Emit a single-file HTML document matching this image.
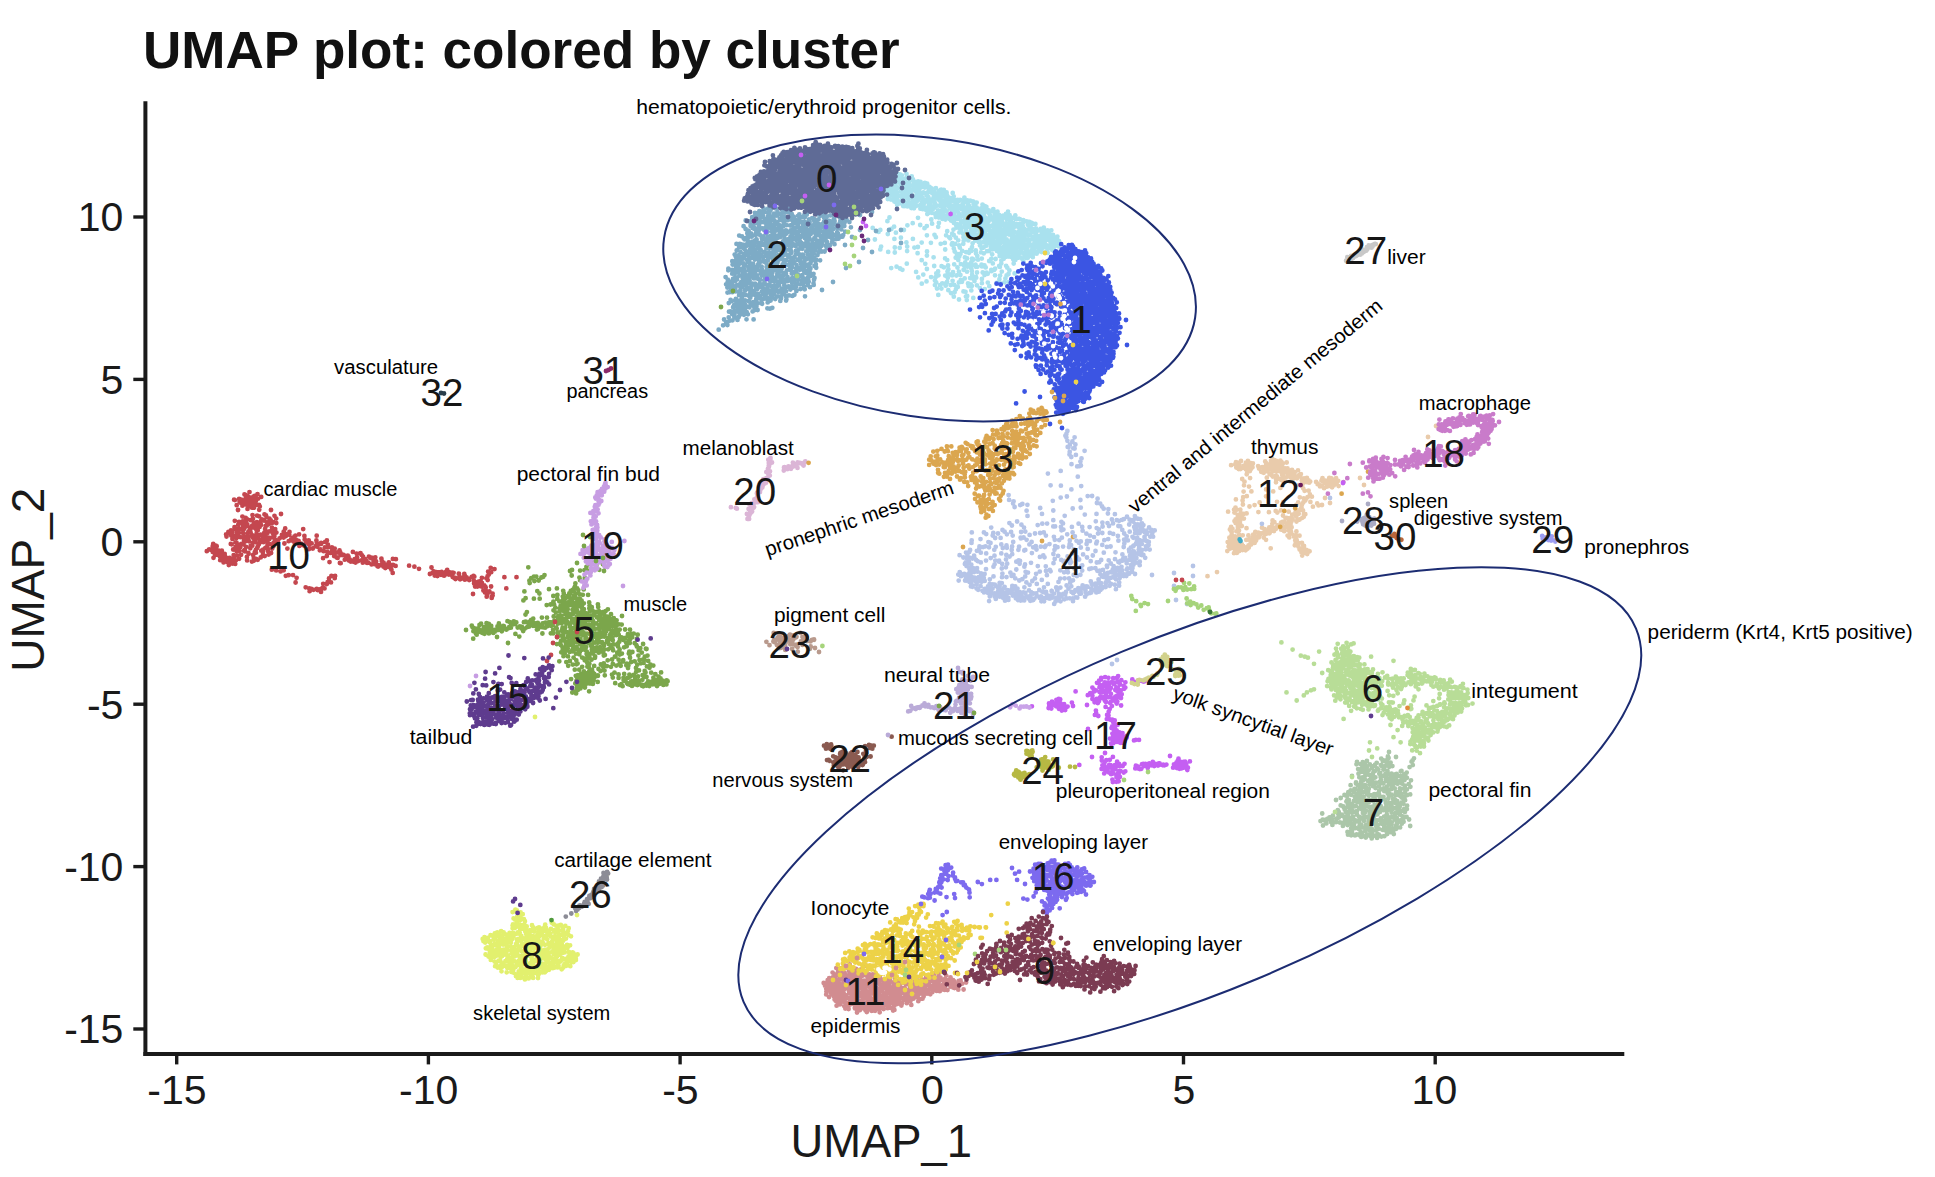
<!DOCTYPE html>
<html><head><meta charset="utf-8"><title>UMAP plot</title>
<style>
html,body{margin:0;padding:0;background:#fff}
body{width:1935px;height:1177px;overflow:hidden}
svg{display:block;font-family:"Liberation Sans",sans-serif}
</style></head><body>
<svg width="1935" height="1177" viewBox="0 0 1935 1177">
<rect width="1935" height="1177" fill="#fff"/>
<g stroke="#1a1a1a" stroke-width="4" fill="none" stroke-linecap="butt">
<path d="M145.4 101.2V1056.0"/><path d="M143.4 1054.0H1624.3"/>
</g><g stroke="#1a1a1a" stroke-width="3.4" fill="none">
<path d="M133.3 217.0H145.4"/>
<path d="M133.3 379.4H145.4"/>
<path d="M133.3 541.8H145.4"/>
<path d="M133.3 704.2H145.4"/>
<path d="M133.3 866.6H145.4"/>
<path d="M133.3 1029.0H145.4"/>
<path d="M176.7 1054.0V1064.4"/>
<path d="M428.4 1054.0V1064.4"/>
<path d="M680.1 1054.0V1064.4"/>
<path d="M931.8 1054.0V1064.4"/>
<path d="M1183.5 1054.0V1064.4"/>
<path d="M1435.2 1054.0V1064.4"/>
</g>
<g font-size="41" fill="#1a1a1a">
<text x="123.4" y="231.3" text-anchor="end">10</text>
<text x="123.4" y="393.7" text-anchor="end">5</text>
<text x="123.4" y="556.1" text-anchor="end">0</text>
<text x="123.4" y="718.5" text-anchor="end">-5</text>
<text x="123.4" y="880.9" text-anchor="end">-10</text>
<text x="123.4" y="1043.3" text-anchor="end">-15</text>
<text x="177.0" y="1103.6" text-anchor="middle">-15</text>
<text x="428.7" y="1103.6" text-anchor="middle">-10</text>
<text x="680.4" y="1103.6" text-anchor="middle">-5</text>
<text x="932.5" y="1103.6" text-anchor="middle">0</text>
<text x="1183.9" y="1103.6" text-anchor="middle">5</text>
<text x="1434.4" y="1103.6" text-anchor="middle">10</text>
</g>
<text x="881.2" y="1156.6" font-size="45.4" text-anchor="middle" fill="#1a1a1a">UMAP_1</text>
<text transform="translate(43.9 579.6) rotate(-90)" font-size="46" text-anchor="middle" fill="#1a1a1a">UMAP_2</text>
<text transform="translate(142.9 68.2) scale(1.0407 1)" font-size="51" font-weight="bold" fill="#111">UMAP plot: colored by cluster</text>
<g fill="none" stroke-linecap="round"><path d="M895.2 168.9h0M895.6 171.8h0M893.0 173.1h0M896.2 172.5h0M897.9 174.1h0M899.9 174.4h0M906.5 173.9h0M887.3 177.1h0M891.2 176.7h0M894.8 177.0h0M895.4 175.5h0M899.0 176.7h0M901.8 175.3h0M911.7 176.3h0M885.7 179.4h0M888.3 179.0h0M891.0 179.3h0M894.7 178.2h0M899.1 177.2h0M901.1 178.2h0M904.2 179.2h0M906.6 177.6h0M909.2 178.3h0M913.0 179.5h0M887.1 182.4h0M889.3 181.7h0M893.2 181.0h0M896.4 180.9h0M900.5 180.8h0M903.9 181.5h0M905.1 181.3h0M909.2 182.1h0M910.3 180.3h0M915.4 182.2h0M918.1 181.3h0M920.5 181.8h0M886.5 184.9h0M888.2 184.9h0M891.4 183.3h0M893.9 184.5h0M896.9 182.7h0M900.6 183.9h0M903.4 182.7h0M906.1 184.2h0M908.8 184.8h0M914.1 182.7h0M917.0 184.0h0M919.0 184.0h0M922.7 183.8h0M924.9 182.8h0M927.2 183.7h0M886.9 185.2h0M890.8 186.7h0M893.7 186.6h0M895.8 186.3h0M899.2 187.3h0M902.0 187.6h0M904.4 187.3h0M908.4 186.9h0M912.2 185.4h0M914.9 187.2h0M918.3 187.0h0M921.7 185.3h0M923.8 186.3h0M927.4 187.3h0M929.5 186.9h0M886.0 187.9h0M889.3 188.5h0M893.1 187.9h0M895.8 188.6h0M897.8 187.8h0M901.5 187.8h0M903.6 187.7h0M907.7 188.3h0M911.1 189.9h0M913.6 189.3h0M916.6 188.2h0M918.2 187.8h0M920.9 187.6h0M924.8 187.6h0M929.0 189.1h0M931.6 188.5h0M935.9 188.2h0M941.2 189.6h0M943.8 189.8h0M887.1 191.1h0M891.1 191.3h0M893.8 191.3h0M895.6 190.6h0M900.6 190.8h0M902.6 191.6h0M905.6 191.7h0M908.4 192.5h0M910.6 192.8h0M914.3 190.6h0M916.6 192.2h0M919.3 191.7h0M923.4 192.5h0M927.7 192.5h0M930.3 192.0h0M933.2 192.7h0M934.5 191.6h0M939.1 190.8h0M941.8 190.4h0M943.8 191.6h0M946.6 192.5h0M886.9 193.9h0M889.5 194.4h0M892.7 194.8h0M896.4 194.0h0M897.1 192.8h0M900.7 195.4h0M902.8 193.1h0M906.2 195.3h0M910.7 195.2h0M912.4 195.4h0M916.9 194.0h0M919.7 192.9h0M920.9 194.3h0M925.4 193.3h0M927.4 193.3h0M932.4 193.3h0M935.1 193.4h0M936.6 194.0h0M940.4 194.0h0M944.1 193.7h0M947.1 195.4h0M952.7 193.0h0M888.2 196.1h0M889.5 197.0h0M894.4 197.0h0M896.2 197.2h0M900.4 196.3h0M901.8 197.9h0M905.1 195.5h0M908.6 197.8h0M911.5 196.6h0M915.7 196.5h0M918.1 197.3h0M920.7 197.4h0M922.5 197.5h0M926.8 195.5h0M928.4 197.2h0M933.5 197.7h0M934.3 198.0h0M937.9 197.6h0M940.4 196.1h0M943.9 195.9h0M947.5 196.6h0M949.8 197.8h0M953.7 196.4h0M964.4 197.7h0M887.8 199.0h0M891.0 199.5h0M895.7 198.1h0M896.9 199.6h0M901.9 199.2h0M903.9 199.0h0M907.6 198.3h0M909.3 198.8h0M913.0 199.3h0M916.5 198.5h0M918.0 199.9h0M922.6 199.9h0M926.2 199.9h0M927.9 200.2h0M932.3 199.4h0M934.9 198.6h0M937.0 198.6h0M940.7 199.0h0M944.3 200.2h0M947.0 198.8h0M947.8 199.2h0M951.9 199.6h0M954.7 200.2h0M957.5 199.8h0M960.1 199.8h0M963.5 200.5h0M967.4 200.3h0M970.1 200.6h0M894.4 201.5h0M896.7 202.3h0M898.4 201.6h0M902.8 201.6h0M906.4 202.8h0M908.6 202.9h0M912.0 202.9h0M914.9 201.3h0M917.0 201.1h0M921.9 202.7h0M924.5 201.4h0M926.0 200.7h0M928.4 202.8h0M932.2 201.4h0M934.8 202.8h0M939.4 200.6h0M942.0 202.5h0M944.8 201.1h0M948.8 201.4h0M949.6 201.7h0M953.2 201.0h0M957.2 201.9h0M958.8 201.2h0M963.3 203.1h0M964.4 201.1h0M969.0 201.2h0M972.9 201.3h0M975.7 202.7h0M976.7 202.6h0M897.1 204.8h0M900.0 203.4h0M904.0 204.2h0M907.7 205.3h0M908.8 205.0h0M912.2 205.7h0M915.6 204.1h0M920.4 204.9h0M923.4 205.2h0M923.8 203.7h0M928.8 205.2h0M930.0 205.3h0M934.2 205.7h0M937.2 205.7h0M941.4 203.4h0M941.8 203.8h0M945.9 205.0h0M948.4 203.8h0M951.5 205.7h0M955.4 205.0h0M956.8 204.1h0M962.4 205.0h0M963.0 203.9h0M967.7 203.4h0M968.8 205.4h0M973.6 203.9h0M975.2 204.9h0M982.5 204.7h0M903.2 206.1h0M904.7 206.1h0M907.4 206.4h0M911.4 208.1h0M914.0 208.3h0M916.5 205.8h0M921.6 206.9h0M924.0 207.1h0M926.8 207.9h0M928.5 208.1h0M931.9 206.4h0M934.4 207.7h0M939.4 205.7h0M942.0 206.2h0M944.4 208.3h0M948.7 206.3h0M951.3 206.1h0M952.3 206.1h0M956.8 208.3h0M959.4 206.2h0M961.7 206.7h0M966.0 207.4h0M969.3 206.5h0M972.5 208.1h0M974.7 207.7h0M976.7 207.6h0M981.2 208.4h0M984.9 206.1h0M986.4 207.0h0M920.4 208.7h0M922.8 209.2h0M926.1 209.9h0M929.2 210.9h0M930.5 209.3h0M933.0 208.9h0M938.1 210.4h0M941.4 210.3h0M943.5 209.3h0M945.7 210.5h0M950.1 208.7h0M952.5 208.4h0M954.7 210.4h0M957.7 209.0h0M961.9 208.9h0M963.3 209.6h0M966.6 210.0h0M970.7 209.2h0M973.3 210.6h0M977.1 210.1h0M980.3 210.2h0M982.3 209.5h0M985.2 210.5h0M988.8 210.5h0M993.3 209.1h0M927.5 211.3h0M928.4 213.1h0M932.0 212.9h0M935.7 213.4h0M937.8 212.9h0M942.6 212.9h0M943.4 211.2h0M946.6 211.4h0M951.9 211.9h0M952.9 211.5h0M955.7 211.4h0M958.4 212.3h0M963.4 212.5h0M965.2 212.0h0M968.8 211.3h0M970.3 213.1h0M975.4 212.0h0M977.4 213.5h0M980.1 211.9h0M984.4 213.1h0M987.3 211.6h0M989.6 211.7h0M993.3 211.3h0M995.8 212.1h0M997.5 211.7h0M1008.0 211.7h0M927.3 214.0h0M935.4 214.6h0M938.4 213.8h0M939.7 215.3h0M943.4 215.3h0M945.7 215.9h0M948.2 215.1h0M952.3 215.0h0M953.9 214.7h0M959.0 214.2h0M960.7 215.6h0M964.0 214.9h0M965.9 213.7h0M969.9 214.3h0M972.2 214.3h0M975.9 214.0h0M979.5 213.9h0M981.7 213.8h0M984.2 215.3h0M989.2 213.5h0M990.0 215.4h0M994.6 214.1h0M996.2 213.7h0M999.0 214.9h0M1003.1 215.7h0M1006.0 213.9h0M1009.6 215.1h0M1015.3 215.5h0M935.8 217.0h0M938.9 217.5h0M941.4 217.1h0M943.9 218.4h0M946.4 218.3h0M950.5 218.8h0M953.9 218.2h0M957.4 216.4h0M960.9 216.4h0M961.5 216.4h0M965.0 218.0h0M968.6 217.4h0M972.6 217.1h0M974.0 216.3h0M978.0 217.5h0M980.2 217.2h0M982.7 217.9h0M985.9 218.2h0M990.2 216.2h0M993.1 217.5h0M996.0 218.0h0M998.9 216.6h0M1000.6 217.4h0M1005.1 217.6h0M1006.8 217.3h0M1010.2 217.3h0M1012.5 217.8h0M942.4 218.9h0M945.4 219.5h0M949.7 219.0h0M951.0 220.6h0M953.8 220.8h0M957.6 218.9h0M960.9 220.8h0M963.8 221.1h0M967.0 220.3h0M969.0 219.7h0M973.4 220.4h0M975.6 220.6h0M979.5 220.5h0M982.4 219.6h0M985.9 219.5h0M988.7 218.9h0M990.7 219.2h0M993.1 220.1h0M996.9 219.3h0M1001.0 219.8h0M1001.9 219.9h0M1006.8 219.5h0M1010.3 221.1h0M1010.8 219.9h0M1015.7 218.9h0M1018.7 218.8h0M1019.8 219.1h0M1023.3 220.1h0M953.9 222.9h0M956.1 223.8h0M960.2 223.8h0M963.4 222.5h0M964.5 223.0h0M969.7 221.7h0M972.8 224.0h0M973.7 223.9h0M976.3 222.6h0M981.5 223.4h0M983.6 222.4h0M986.9 224.0h0M988.5 221.5h0M993.9 223.6h0M995.3 222.0h0M998.3 222.6h0M1002.4 222.9h0M1005.9 223.4h0M1007.0 223.8h0M1010.8 222.3h0M1013.1 222.8h0M1016.8 224.0h0M1020.2 223.9h0M1022.7 223.2h0M1026.6 221.5h0M1029.4 221.9h0M1031.7 222.9h0M1035.4 223.9h0M956.2 225.6h0M956.8 226.2h0M960.3 225.9h0M964.9 225.9h0M966.8 225.0h0M970.5 224.9h0M973.3 225.1h0M975.9 224.4h0M978.9 224.6h0M983.4 225.4h0M984.7 226.0h0M987.9 225.4h0M991.6 225.8h0M993.6 224.1h0M995.9 225.2h0M999.5 225.1h0M1004.0 225.1h0M1006.4 225.7h0M1010.4 225.7h0M1011.7 224.5h0M1016.1 226.0h0M1018.7 224.7h0M1021.3 226.1h0M1022.8 226.3h0M1027.8 224.8h0M1030.8 225.2h0M1033.0 223.9h0M959.4 228.1h0M963.7 227.2h0M966.2 227.1h0M968.8 226.9h0M971.4 226.7h0M975.5 228.5h0M977.6 226.9h0M981.6 227.6h0M984.0 228.0h0M987.9 227.1h0M988.6 227.6h0M993.6 228.4h0M996.2 227.1h0M997.7 227.4h0M1000.6 227.1h0M1005.0 228.6h0M1008.0 228.3h0M1010.8 226.9h0M1013.8 227.5h0M1017.9 226.7h0M1019.5 228.1h0M1023.6 229.0h0M1024.4 228.9h0M1029.1 228.7h0M1032.4 228.8h0M1035.9 228.4h0M1040.5 228.9h0M1043.8 227.6h0M961.0 230.6h0M966.1 230.7h0M971.0 231.0h0M972.9 229.5h0M975.2 230.2h0M979.2 230.2h0M983.3 231.4h0M985.9 230.6h0M989.1 230.0h0M991.7 231.2h0M993.1 231.2h0M996.2 231.3h0M999.6 230.5h0M1003.6 230.2h0M1005.7 229.8h0M1008.0 229.6h0M1012.2 230.6h0M1014.0 231.6h0M1018.5 231.3h0M1019.8 229.7h0M1024.8 229.5h0M1026.8 230.4h0M1030.6 229.9h0M1032.7 231.5h0M1036.9 230.5h0M1039.7 230.4h0M1042.7 231.3h0M1043.9 229.4h0M1047.5 230.3h0M1051.3 230.3h0M970.3 232.9h0M973.8 231.9h0M977.4 234.4h0M979.7 232.8h0M982.7 232.0h0M985.5 233.7h0M989.9 233.7h0M992.9 232.8h0M996.7 234.4h0M999.0 233.7h0M1001.3 234.2h0M1003.8 232.6h0M1007.5 233.7h0M1009.3 231.9h0M1013.7 233.4h0M1017.8 232.7h0M1020.4 231.7h0M1022.6 231.8h0M1024.5 233.8h0M1028.4 234.4h0M1032.1 232.1h0M1035.0 232.5h0M1036.3 232.6h0M1041.7 233.9h0M1044.2 233.9h0M1045.3 231.9h0M1048.9 234.0h0M973.2 234.8h0M975.7 236.7h0M979.3 235.7h0M982.4 234.5h0M985.2 235.2h0M988.2 236.6h0M991.7 236.0h0M993.3 235.8h0M996.3 236.2h0M1000.7 237.0h0M1003.6 235.6h0M1004.8 235.6h0M1009.1 234.5h0M1012.1 235.7h0M1015.3 236.9h0M1018.8 235.6h0M1020.3 235.3h0M1023.9 235.9h0M1028.0 235.2h0M1030.3 234.5h0M1032.5 236.8h0M1035.4 235.0h0M1038.3 236.4h0M1042.7 236.4h0M1045.9 235.6h0M1047.2 235.6h0M1051.3 236.6h0M1053.0 235.0h0M1057.4 236.6h0M978.7 239.4h0M979.3 239.2h0M984.1 237.3h0M986.8 237.2h0M990.0 238.4h0M992.5 238.3h0M995.6 236.9h0M998.6 238.2h0M1000.3 238.8h0M1003.3 238.1h0M1006.6 239.3h0M1011.7 239.2h0M1013.5 239.1h0M1017.2 236.9h0M1019.9 239.3h0M1022.1 237.3h0M1026.0 239.3h0M1028.7 239.4h0M1030.7 239.6h0M1034.1 238.7h0M1037.4 238.8h0M1041.0 237.1h0M1044.3 237.7h0M1047.3 237.0h0M1050.0 238.3h0M1052.1 239.2h0M1055.6 237.9h0M1057.4 239.6h0M984.5 240.7h0M987.9 239.7h0M990.2 241.3h0M993.4 240.0h0M996.4 241.7h0M1000.5 240.7h0M1002.8 241.2h0M1005.8 240.5h0M1008.1 241.3h0M1013.1 242.0h0M1016.4 241.9h0M1017.9 239.9h0M1022.1 241.0h0M1023.5 241.7h0M1026.6 239.7h0M1029.3 240.0h0M1033.5 239.6h0M1035.1 240.8h0M1038.9 240.9h0M1041.7 240.3h0M1044.8 241.1h0M1048.7 239.9h0M1050.2 241.3h0M1054.2 239.5h0M1055.9 241.7h0M1059.0 241.1h0M978.8 242.2h0M981.3 242.5h0M983.2 242.3h0M986.6 244.7h0M990.7 243.6h0M991.8 242.6h0M995.8 244.3h0M999.0 242.7h0M1001.8 242.5h0M1005.0 243.6h0M1007.5 244.1h0M1010.8 242.8h0M1013.2 244.5h0M1015.3 244.6h0M1019.6 243.9h0M1021.4 244.3h0M1026.6 244.5h0M1029.4 243.9h0M1032.9 244.7h0M1034.3 243.4h0M1038.5 244.4h0M1040.8 243.9h0M1042.8 243.4h0M1045.3 244.2h0M1050.8 243.1h0M1053.1 242.4h0M1056.5 242.8h0M1059.2 242.9h0M986.3 245.7h0M991.0 246.7h0M993.2 245.7h0M996.2 246.0h0M999.4 246.5h0M1003.8 247.1h0M1005.1 247.3h0M1008.5 245.8h0M1011.0 247.3h0M1014.2 245.3h0M1017.3 245.2h0M1022.4 245.1h0M1023.0 246.8h0M1025.9 245.0h0M1029.3 245.4h0M1032.2 246.6h0M1036.8 246.6h0M1039.5 246.6h0M1041.7 246.1h0M1045.1 246.8h0M1047.9 245.6h0M1051.8 247.1h0M1054.1 246.7h0M1058.3 246.3h0M990.8 248.7h0M992.6 249.3h0M995.7 247.6h0M999.9 248.3h0M1001.9 247.9h0M1003.3 249.2h0M1006.3 248.2h0M1010.2 249.6h0M1013.6 249.6h0M1016.6 248.5h0M1019.6 247.6h0M1023.6 247.4h0M1024.6 248.0h0M1027.3 247.9h0M1032.1 249.7h0M1034.6 247.9h0M1037.8 247.6h0M1041.3 248.6h0M1042.9 247.8h0M1047.3 248.7h0M1048.4 248.6h0M1053.5 249.1h0M996.9 250.9h0M999.9 251.6h0M1004.1 250.3h0M1006.8 250.1h0M1009.9 250.8h0M1012.4 250.9h0M1014.7 250.5h0M1017.6 251.8h0M1020.8 251.0h0M1024.7 252.1h0M1026.8 249.9h0M1031.4 250.7h0M1033.9 251.7h0M1037.0 251.9h0M1039.1 251.2h0M1041.7 252.0h0M1046.2 252.4h0M1052.3 250.1h0M999.5 253.3h0M1001.6 254.6h0M1003.9 254.1h0M1007.6 253.5h0M1009.6 252.7h0M1013.4 255.1h0M1016.8 253.7h0M1018.9 253.8h0M1023.4 253.7h0M1026.2 254.5h0M1028.1 252.9h0M1030.6 253.0h0M1033.3 253.9h0M1036.7 253.6h0M1044.9 252.7h0M1047.7 252.9h0M999.7 256.1h0M1005.7 256.7h0M1009.0 256.5h0M1011.6 257.1h0M1015.8 257.0h0M1017.4 256.9h0M1020.6 257.7h0M1024.9 256.1h0M1026.9 257.5h0M1029.2 255.9h0M1032.8 257.2h0M1013.2 259.3h0M1015.3 259.9h0M1018.5 257.7h0M1022.5 259.2h0M1026.9 257.9h0M1027.8 257.8h0M1023.4 261.6h0M1013.7 263.5h0M956.6 227.6h0M965.9 227.8h0M959.4 232.4h0M965.9 231.0h0M974.7 231.4h0M953.7 235.0h0M963.1 233.7h0M967.9 235.1h0M949.2 237.3h0M955.9 237.7h0M963.5 237.2h0M965.9 237.7h0M978.2 239.4h0M952.4 243.1h0M955.1 243.9h0M963.7 240.7h0M968.3 240.4h0M972.6 243.3h0M975.3 240.6h0M986.2 243.1h0M951.8 244.5h0M959.1 245.3h0M963.3 243.8h0M972.0 247.1h0M980.0 245.4h0M983.6 247.5h0M998.8 244.9h0M1005.9 244.5h0M953.8 248.4h0M959.8 247.6h0M962.2 250.9h0M970.1 249.9h0M971.4 250.9h0M975.8 250.5h0M981.5 248.0h0M987.1 251.2h0M989.2 251.1h0M995.0 248.6h0M997.0 248.1h0M1003.5 250.6h0M1006.4 249.8h0M954.7 251.5h0M957.0 253.9h0M960.4 253.9h0M966.2 252.2h0M969.0 252.8h0M976.0 253.4h0M981.0 252.3h0M983.8 253.3h0M992.2 254.3h0M1002.5 253.0h0M1003.7 253.0h0M945.1 258.4h0M955.7 257.7h0M959.3 256.6h0M964.9 257.4h0M967.1 258.4h0M972.1 258.7h0M977.3 256.0h0M1001.5 255.5h0M1006.5 256.7h0M947.2 260.1h0M958.3 260.1h0M965.2 262.5h0M971.3 262.2h0M973.6 259.5h0M978.0 259.7h0M981.8 258.6h0M989.2 261.0h0M991.3 258.8h0M995.6 259.0h0M1001.3 260.6h0M1003.7 258.8h0M941.6 266.2h0M948.1 265.5h0M954.2 264.3h0M960.9 264.1h0M964.1 265.5h0M969.0 264.5h0M971.7 265.5h0M975.5 264.6h0M981.5 264.7h0M984.5 265.5h0M992.8 263.4h0M999.2 265.9h0M1001.3 263.4h0M1006.1 265.8h0M943.9 267.3h0M948.4 269.3h0M957.5 267.5h0M963.6 269.8h0M967.4 266.7h0M971.4 268.8h0M975.9 266.8h0M977.4 266.8h0M982.0 266.4h0M985.7 267.4h0M991.3 269.8h0M995.1 268.7h0M999.9 266.9h0M1007.3 267.7h0M947.5 271.5h0M953.0 272.1h0M958.9 271.6h0M963.9 269.8h0M967.0 271.7h0M971.9 271.1h0M977.0 272.5h0M982.7 272.5h0M986.7 272.7h0M991.4 271.2h0M994.1 269.9h0M1001.8 271.6h0M1009.4 270.4h0M1014.6 273.4h0M935.6 277.2h0M938.5 275.3h0M945.2 275.6h0M949.4 274.5h0M952.1 275.4h0M956.4 275.5h0M960.4 274.9h0M972.1 274.7h0M975.9 276.9h0M984.5 275.1h0M987.7 273.8h0M995.0 275.3h0M1000.1 275.6h0M1006.6 275.4h0M1008.5 274.0h0M934.9 280.4h0M947.8 277.8h0M952.6 280.8h0M960.8 279.8h0M964.7 278.4h0M970.1 278.1h0M972.9 278.5h0M976.2 277.7h0M981.9 279.0h0M999.4 279.2h0M1005.4 278.4h0M936.2 282.5h0M942.3 283.4h0M946.2 283.1h0M947.1 281.8h0M954.2 284.8h0M958.9 282.4h0M962.0 281.8h0M968.0 283.5h0M970.8 284.5h0M974.5 281.1h0M981.9 283.2h0M987.8 282.6h0M996.7 283.0h0M1000.1 283.1h0M1004.4 282.3h0M1008.7 282.1h0M940.1 285.2h0M941.4 288.6h0M945.7 285.7h0M950.6 285.1h0M956.8 286.8h0M957.8 286.9h0M968.6 286.1h0M971.8 285.9h0M976.9 285.3h0M979.9 288.1h0M989.3 286.2h0M937.0 288.6h0M948.3 290.2h0M954.6 292.2h0M955.9 289.3h0M963.5 291.4h0M965.5 291.8h0M971.3 290.4h0M984.8 289.1h0M938.3 294.9h0M951.0 293.1h0M967.2 296.0h0M953.8 296.7h0M959.0 299.5h0M965.9 296.6h0M973.3 297.9h0M966.8 300.1h0M889.5 217.5h0M918.0 217.8h0M931.3 219.5h0M887.4 221.2h0M912.7 223.2h0M920.2 225.0h0M932.1 223.7h0M938.9 223.0h0M872.7 227.9h0M880.3 229.9h0M891.4 229.0h0M894.1 226.7h0M903.9 230.0h0M907.4 225.3h0M924.5 228.2h0M926.8 226.1h0M938.2 226.8h0M947.2 231.2h0M953.5 229.6h0M878.6 231.9h0M887.8 234.1h0M895.9 232.7h0M926.9 235.3h0M934.5 234.8h0M946.1 235.3h0M952.2 233.7h0M874.9 239.5h0M894.4 238.9h0M900.9 237.7h0M906.4 242.4h0M912.9 238.9h0M921.7 242.6h0M930.9 242.8h0M935.9 237.2h0M944.8 242.9h0M950.1 238.3h0M958.2 240.3h0M881.1 246.6h0M894.8 247.5h0M899.7 247.8h0M907.2 246.6h0M914.4 247.6h0M917.9 247.0h0M940.7 243.8h0M880.3 249.4h0M888.2 251.9h0M894.8 252.5h0M907.1 251.1h0M917.6 253.2h0M927.0 251.5h0M945.2 249.5h0M921.7 260.2h0M926.9 255.6h0M933.6 257.3h0M896.6 266.7h0M906.8 263.7h0M925.3 263.8h0M934.2 266.0h0M891.2 268.1h0M900.0 268.5h0M902.4 269.8h0M916.1 271.9h0M926.9 269.0h0M938.1 271.4h0M918.3 277.4h0M923.3 274.6h0M931.1 277.1h0M936.3 273.4h0M921.8 283.7h0M926.5 281.4h0M934.9 285.1h0" stroke="#a9e1ee" stroke-width="4.8"/>
<path d="M763.6 208.5h0M768.1 208.6h0M771.3 208.6h0M776.2 208.7h0M759.4 211.1h0M762.5 211.3h0M763.9 209.9h0M770.5 210.1h0M782.3 209.9h0M784.1 210.9h0M788.6 209.0h0M790.0 210.5h0M807.6 210.0h0M820.2 209.2h0M755.0 212.8h0M758.2 213.0h0M759.2 213.4h0M764.2 212.2h0M767.9 212.4h0M769.5 212.6h0M774.1 213.7h0M777.5 212.1h0M779.6 214.0h0M782.4 212.3h0M785.2 212.5h0M788.3 212.2h0M791.7 214.0h0M799.3 214.3h0M807.4 211.8h0M818.3 213.9h0M823.4 214.1h0M752.2 217.1h0M754.8 216.3h0M758.0 216.1h0M762.9 215.5h0M768.0 216.2h0M770.4 216.2h0M774.0 215.7h0M776.8 215.6h0M781.9 216.2h0M784.3 217.0h0M791.1 215.5h0M793.6 216.7h0M798.1 215.8h0M799.6 216.9h0M804.4 214.8h0M806.7 214.7h0M817.8 214.4h0M820.6 215.6h0M823.1 215.9h0M826.9 216.3h0M830.3 215.4h0M834.6 217.1h0M752.2 218.1h0M755.0 218.3h0M756.7 217.7h0M761.1 217.6h0M764.8 219.2h0M766.5 218.6h0M770.0 219.8h0M773.2 217.8h0M779.8 218.9h0M782.4 218.1h0M786.6 220.0h0M789.6 218.8h0M793.9 217.3h0M795.1 219.8h0M799.4 218.7h0M802.5 217.1h0M804.8 217.3h0M809.1 219.5h0M812.2 218.1h0M814.2 219.1h0M818.5 219.3h0M824.1 217.7h0M826.4 217.6h0M833.7 219.5h0M840.6 218.7h0M844.3 219.9h0M846.6 219.8h0M745.7 220.5h0M749.3 221.3h0M752.6 220.7h0M755.7 222.5h0M759.5 220.2h0M763.2 222.2h0M766.4 222.0h0M768.8 220.0h0M771.5 219.9h0M774.4 220.3h0M777.4 222.5h0M781.1 220.1h0M783.8 221.7h0M787.8 220.2h0M792.2 220.3h0M795.2 220.7h0M796.7 221.2h0M800.9 221.8h0M804.0 221.8h0M805.9 222.5h0M809.6 221.9h0M814.1 220.6h0M815.3 221.4h0M823.9 221.9h0M825.3 221.9h0M829.2 220.9h0M832.4 221.5h0M834.6 220.9h0M840.3 221.0h0M843.3 221.2h0M844.6 222.5h0M849.4 222.0h0M750.7 224.3h0M753.1 224.5h0M757.0 223.2h0M759.4 223.5h0M766.4 224.9h0M769.5 223.9h0M772.2 224.3h0M775.8 224.0h0M778.6 224.8h0M784.1 224.2h0M786.4 225.2h0M790.3 225.3h0M793.1 223.6h0M795.6 223.3h0M798.0 224.2h0M803.1 224.3h0M806.3 225.4h0M809.5 225.4h0M813.1 225.5h0M814.7 223.0h0M818.0 223.6h0M821.3 224.3h0M824.5 224.1h0M828.4 223.5h0M831.7 225.3h0M834.9 224.3h0M838.6 225.5h0M839.5 223.7h0M843.0 224.9h0M743.6 226.2h0M750.6 225.9h0M752.6 228.0h0M754.3 227.6h0M759.1 226.2h0M763.0 228.3h0M766.5 226.6h0M767.3 227.8h0M771.2 225.8h0M773.6 226.7h0M779.5 226.4h0M780.0 225.5h0M783.4 226.0h0M790.3 225.6h0M793.7 227.8h0M797.5 227.2h0M800.8 227.9h0M802.8 227.5h0M805.9 227.6h0M811.3 227.3h0M812.1 227.5h0M817.0 226.0h0M821.0 227.0h0M824.1 227.6h0M827.3 228.1h0M829.9 225.7h0M831.6 226.6h0M836.9 226.3h0M839.9 227.7h0M844.3 226.0h0M850.9 227.3h0M745.6 229.0h0M748.4 230.6h0M754.2 228.8h0M757.1 228.9h0M761.1 228.4h0M764.2 229.9h0M766.7 229.0h0M771.2 228.8h0M774.4 230.4h0M776.1 228.7h0M778.6 230.6h0M781.5 229.7h0M785.9 230.3h0M790.7 230.5h0M793.3 229.3h0M794.4 229.6h0M799.9 229.3h0M802.1 229.2h0M804.3 229.1h0M808.0 230.1h0M811.6 230.1h0M814.6 229.9h0M818.9 228.6h0M819.9 229.2h0M825.2 229.6h0M827.1 229.4h0M831.4 230.0h0M833.3 228.9h0M837.6 228.3h0M841.3 229.4h0M747.3 233.2h0M749.1 232.2h0M751.3 233.6h0M756.2 232.5h0M758.6 231.1h0M765.9 233.3h0M767.1 232.0h0M771.5 231.4h0M774.5 231.9h0M781.4 233.2h0M785.1 231.3h0M788.1 232.0h0M791.0 231.0h0M793.9 232.7h0M798.0 232.0h0M801.6 231.5h0M804.5 231.5h0M807.5 231.9h0M808.8 231.8h0M813.6 232.3h0M817.3 231.8h0M819.7 231.0h0M823.1 231.8h0M825.2 232.3h0M828.5 232.3h0M831.7 232.5h0M837.1 232.4h0M838.0 233.7h0M845.2 231.6h0M739.2 235.6h0M742.0 236.4h0M748.0 235.2h0M749.9 236.5h0M755.3 235.1h0M758.7 234.4h0M759.8 234.8h0M763.1 236.3h0M767.8 236.5h0M771.0 236.0h0M773.6 234.7h0M776.3 235.9h0M779.7 234.1h0M784.1 235.3h0M785.8 234.1h0M790.5 236.5h0M792.2 234.2h0M797.1 235.0h0M799.9 236.2h0M803.0 235.0h0M805.7 235.1h0M809.0 236.1h0M810.7 233.9h0M816.1 234.3h0M819.1 235.0h0M822.2 235.8h0M825.5 235.2h0M827.1 234.3h0M830.3 234.7h0M833.7 234.9h0M836.7 235.9h0M841.0 236.5h0M843.2 235.1h0M743.7 238.2h0M746.5 238.0h0M748.0 238.0h0M751.7 236.7h0M756.6 239.4h0M761.8 238.0h0M765.8 239.2h0M768.2 237.3h0M771.1 236.7h0M774.4 238.5h0M777.3 238.0h0M780.0 237.2h0M784.5 238.5h0M788.5 239.2h0M790.0 239.1h0M794.2 237.4h0M798.6 237.7h0M800.6 236.9h0M804.8 238.0h0M806.9 237.6h0M809.3 238.0h0M814.4 238.1h0M815.2 237.4h0M820.8 236.9h0M821.9 238.1h0M825.5 239.2h0M829.3 236.8h0M832.1 238.4h0M835.8 239.2h0M838.5 238.7h0M842.4 236.7h0M744.6 239.4h0M747.9 241.3h0M752.1 241.7h0M754.8 240.9h0M756.2 239.6h0M762.3 239.6h0M767.1 240.7h0M770.9 241.0h0M771.9 239.4h0M775.5 239.9h0M783.1 241.4h0M785.3 239.8h0M789.6 241.4h0M791.4 241.2h0M795.4 239.5h0M799.7 240.7h0M806.4 239.9h0M808.4 239.9h0M812.4 240.5h0M814.1 239.3h0M817.0 240.7h0M820.9 240.8h0M823.3 240.3h0M826.9 242.0h0M832.1 241.9h0M736.5 243.9h0M739.8 243.8h0M742.7 244.6h0M746.5 244.4h0M750.0 244.3h0M753.6 242.6h0M754.7 243.1h0M758.7 243.1h0M761.3 242.3h0M765.9 242.5h0M768.9 243.9h0M771.2 243.0h0M773.9 243.7h0M777.2 244.4h0M781.8 244.9h0M785.1 242.1h0M788.6 244.2h0M790.7 244.3h0M793.9 244.3h0M797.5 243.3h0M801.1 242.7h0M804.2 244.0h0M807.8 243.2h0M810.7 244.3h0M814.6 244.5h0M816.7 243.7h0M820.5 243.7h0M822.0 243.1h0M827.0 242.7h0M834.5 244.2h0M741.3 247.1h0M745.1 246.2h0M747.4 245.6h0M750.8 246.1h0M753.7 245.2h0M757.4 246.7h0M761.2 245.0h0M764.4 245.0h0M766.7 247.5h0M770.1 246.0h0M773.6 246.0h0M777.8 247.4h0M780.7 245.7h0M782.3 247.1h0M785.5 244.9h0M788.3 245.0h0M791.6 246.3h0M795.7 246.0h0M800.2 245.6h0M801.7 245.7h0M805.9 246.3h0M807.1 246.2h0M811.8 247.5h0M816.0 247.6h0M818.4 246.9h0M821.3 245.9h0M825.8 245.7h0M826.5 247.3h0M829.8 245.5h0M739.1 247.6h0M743.3 247.9h0M745.0 249.8h0M749.8 250.0h0M752.8 249.1h0M755.8 249.6h0M759.9 249.3h0M760.7 250.0h0M766.5 248.4h0M769.3 248.5h0M772.3 248.6h0M774.1 249.4h0M778.5 249.5h0M785.1 248.8h0M788.9 249.6h0M790.8 250.5h0M798.5 249.4h0M801.7 247.8h0M802.3 248.8h0M807.7 248.0h0M808.8 249.9h0M815.2 250.4h0M819.9 249.4h0M826.8 248.1h0M736.7 250.5h0M740.6 252.1h0M746.5 252.5h0M750.4 252.9h0M753.5 252.7h0M759.2 252.9h0M764.3 251.9h0M768.2 252.8h0M770.1 253.1h0M773.3 252.0h0M775.9 251.1h0M781.1 250.7h0M783.4 252.9h0M785.3 252.1h0M790.5 251.5h0M791.4 252.4h0M795.9 250.8h0M797.7 251.2h0M806.3 251.4h0M807.4 252.1h0M811.8 251.0h0M813.7 252.9h0M818.6 252.6h0M821.9 251.5h0M824.6 251.5h0M734.7 254.6h0M738.3 255.3h0M743.9 254.1h0M746.3 254.7h0M748.1 254.8h0M753.2 255.1h0M756.8 253.2h0M757.9 254.7h0M761.4 254.7h0M765.9 255.8h0M767.4 254.8h0M775.3 255.5h0M778.6 254.8h0M782.6 254.4h0M785.0 254.7h0M788.6 255.1h0M790.8 253.4h0M796.1 253.9h0M799.5 254.3h0M802.7 254.6h0M807.6 254.2h0M811.5 254.5h0M813.0 253.8h0M817.5 255.1h0M735.8 256.7h0M738.6 257.6h0M741.0 257.1h0M743.9 257.9h0M748.8 256.6h0M751.1 258.1h0M755.2 258.7h0M757.6 256.2h0M759.6 256.8h0M763.1 257.6h0M767.4 256.7h0M770.3 257.0h0M772.7 256.3h0M776.8 257.9h0M779.0 256.4h0M782.4 258.7h0M788.3 256.8h0M791.1 258.2h0M794.6 256.7h0M799.5 258.1h0M801.7 257.3h0M804.8 257.9h0M808.3 258.4h0M810.6 257.7h0M814.4 257.9h0M732.3 261.2h0M736.3 259.3h0M739.1 260.3h0M742.3 258.9h0M746.7 259.6h0M749.2 259.7h0M754.9 259.6h0M758.9 259.8h0M763.3 260.3h0M764.8 261.1h0M767.9 260.4h0M773.0 259.7h0M775.2 259.1h0M778.0 260.3h0M780.9 259.0h0M786.5 259.8h0M791.5 260.6h0M793.1 258.7h0M797.6 259.9h0M799.9 260.9h0M804.3 261.4h0M807.0 259.0h0M811.3 260.9h0M813.9 260.1h0M816.1 260.0h0M820.1 260.3h0M735.5 263.4h0M736.8 263.3h0M741.0 262.8h0M743.5 263.4h0M748.0 262.2h0M751.4 263.6h0M753.1 263.8h0M758.7 263.3h0M760.5 261.8h0M764.1 261.6h0M766.5 263.4h0M771.4 264.2h0M773.9 263.9h0M777.5 262.4h0M784.2 261.8h0M784.9 264.0h0M789.7 261.8h0M793.1 261.7h0M794.4 262.7h0M801.1 263.8h0M805.4 264.3h0M808.9 264.3h0M810.5 263.0h0M815.8 264.1h0M732.6 264.6h0M736.1 266.7h0M738.7 264.8h0M743.8 266.2h0M744.9 265.1h0M749.7 265.3h0M753.4 266.0h0M757.0 266.9h0M758.0 265.0h0M761.6 266.6h0M767.8 265.7h0M773.1 266.7h0M774.4 267.0h0M776.9 265.6h0M782.6 264.5h0M788.2 264.9h0M791.7 265.0h0M796.6 265.2h0M801.3 266.3h0M805.1 265.8h0M805.5 266.4h0M809.6 267.0h0M814.5 266.0h0M816.0 266.9h0M728.4 268.6h0M735.7 269.3h0M738.1 268.7h0M740.6 269.2h0M744.2 269.5h0M748.3 267.1h0M750.8 269.1h0M754.4 268.6h0M757.2 267.8h0M761.8 268.9h0M766.6 267.0h0M769.1 267.3h0M774.6 269.2h0M777.4 267.7h0M779.9 268.9h0M782.0 268.0h0M789.9 268.5h0M792.0 267.2h0M796.3 268.6h0M799.5 268.2h0M803.2 268.3h0M804.0 267.6h0M809.0 269.8h0M810.4 268.7h0M816.2 267.8h0M728.3 270.3h0M732.2 269.9h0M741.0 270.2h0M742.4 271.6h0M744.8 271.7h0M748.8 270.6h0M753.5 272.3h0M756.9 270.2h0M760.2 270.6h0M763.1 271.5h0M766.6 270.9h0M768.0 272.5h0M770.8 270.3h0M774.3 270.1h0M777.3 271.8h0M780.9 271.3h0M786.9 270.3h0M790.9 270.3h0M795.3 271.3h0M796.5 270.6h0M799.8 269.8h0M803.9 271.0h0M806.1 271.1h0M809.8 272.4h0M732.2 273.7h0M734.7 273.5h0M737.8 272.6h0M742.6 274.2h0M744.0 273.9h0M747.2 275.4h0M750.3 273.7h0M755.4 274.2h0M756.8 275.3h0M760.8 273.2h0M764.9 274.0h0M768.1 275.0h0M769.4 272.9h0M772.3 272.7h0M777.3 274.1h0M778.7 274.7h0M783.4 272.9h0M785.9 273.6h0M791.8 273.5h0M796.2 274.7h0M797.8 274.3h0M802.1 275.2h0M805.8 272.8h0M809.6 273.7h0M811.9 274.6h0M813.5 273.8h0M725.6 277.1h0M735.3 277.2h0M739.4 275.7h0M744.0 276.6h0M745.8 277.3h0M750.5 276.6h0M753.6 275.4h0M756.1 278.1h0M757.6 278.1h0M761.7 275.3h0M765.2 277.3h0M768.6 275.4h0M772.3 276.7h0M775.8 278.1h0M776.9 276.6h0M782.1 276.2h0M783.1 275.6h0M787.5 276.9h0M792.1 278.1h0M793.0 278.0h0M796.0 276.5h0M801.4 276.5h0M802.5 276.7h0M808.3 276.7h0M810.1 276.2h0M814.5 278.0h0M727.8 279.6h0M733.0 278.9h0M734.0 278.4h0M737.1 279.1h0M742.7 278.4h0M744.0 280.4h0M748.5 279.6h0M749.6 280.4h0M754.0 278.4h0M757.9 278.8h0M760.1 279.7h0M764.3 280.1h0M766.1 279.0h0M771.3 279.1h0M772.1 279.4h0M775.8 280.8h0M780.5 278.5h0M784.1 279.6h0M787.2 278.8h0M788.4 279.5h0M791.5 279.9h0M794.6 279.5h0M798.4 279.6h0M803.0 280.2h0M806.5 278.6h0M808.3 280.2h0M814.0 279.7h0M727.5 282.6h0M730.8 281.7h0M732.0 282.6h0M735.5 280.9h0M740.7 282.5h0M743.4 281.7h0M745.5 283.6h0M748.0 282.4h0M752.4 283.6h0M755.1 283.6h0M759.8 283.4h0M764.4 282.4h0M770.3 281.4h0M774.0 281.2h0M776.7 281.5h0M780.8 281.8h0M784.1 283.3h0M787.5 281.2h0M791.9 282.3h0M793.6 282.0h0M797.2 283.3h0M801.8 281.0h0M804.7 281.8h0M807.4 281.9h0M808.7 281.7h0M813.5 283.3h0M726.1 284.3h0M729.1 284.1h0M732.5 284.6h0M734.5 286.3h0M737.1 285.1h0M740.1 284.5h0M743.2 285.8h0M746.6 284.1h0M750.5 283.7h0M753.4 284.5h0M756.4 285.4h0M761.3 285.3h0M764.0 284.7h0M766.8 284.8h0M769.8 285.1h0M774.0 285.7h0M777.9 284.5h0M779.1 285.1h0M784.3 285.3h0M788.4 286.4h0M791.5 286.2h0M795.5 286.1h0M800.0 284.3h0M802.5 283.7h0M804.0 286.2h0M808.1 285.3h0M813.7 284.9h0M727.4 287.5h0M730.0 287.8h0M733.7 287.1h0M735.5 287.6h0M740.1 286.6h0M741.9 287.4h0M746.4 286.5h0M748.5 288.2h0M751.1 287.4h0M756.2 287.6h0M759.0 287.4h0M762.7 288.0h0M764.1 289.1h0M767.6 288.2h0M772.4 287.9h0M775.1 287.2h0M776.7 287.3h0M781.5 288.7h0M785.2 288.8h0M787.6 286.6h0M790.4 288.4h0M793.8 287.8h0M796.0 287.0h0M800.5 289.1h0M804.0 286.7h0M810.0 287.2h0M730.8 291.1h0M735.8 291.4h0M739.4 291.3h0M740.4 290.3h0M745.2 290.2h0M748.4 289.2h0M750.2 290.5h0M754.1 290.9h0M757.0 289.2h0M761.8 291.8h0M763.8 289.5h0M766.7 290.1h0M769.7 291.2h0M772.1 291.4h0M775.7 291.2h0M778.6 291.3h0M781.9 290.1h0M786.1 291.3h0M790.4 289.6h0M796.4 291.0h0M804.7 289.3h0M727.5 292.6h0M729.8 292.0h0M732.3 292.2h0M739.8 294.5h0M742.9 293.9h0M745.5 294.7h0M750.3 292.9h0M752.4 294.6h0M755.3 293.6h0M757.8 293.8h0M763.1 294.2h0M765.9 293.6h0M767.9 292.7h0M770.4 292.0h0M773.9 294.6h0M778.3 292.0h0M782.5 293.7h0M784.2 293.8h0M794.4 294.8h0M739.1 295.2h0M742.0 297.0h0M745.1 295.1h0M748.5 295.7h0M749.6 296.1h0M755.3 295.0h0M758.4 297.0h0M759.2 295.9h0M763.4 294.7h0M767.0 297.3h0M771.2 295.1h0M772.4 297.3h0M777.3 296.5h0M780.7 296.5h0M785.6 295.9h0M789.0 295.4h0M792.4 295.9h0M805.0 296.3h0M730.6 299.9h0M735.9 298.9h0M740.0 300.3h0M741.6 299.7h0M750.3 297.7h0M756.2 299.2h0M760.2 298.5h0M762.8 299.2h0M765.9 298.5h0M769.4 298.4h0M775.2 299.1h0M781.0 298.4h0M786.4 299.5h0M728.8 303.1h0M731.7 301.1h0M735.1 300.5h0M737.7 302.9h0M740.2 300.4h0M745.0 300.4h0M748.8 301.0h0M753.1 302.1h0M756.2 301.1h0M761.5 302.6h0M767.7 302.4h0M770.6 300.5h0M780.3 300.9h0M786.1 300.6h0M734.2 305.1h0M736.8 303.7h0M740.4 305.1h0M743.0 303.9h0M745.2 304.4h0M750.5 303.8h0M752.2 304.9h0M756.3 303.8h0M757.9 303.3h0M762.1 303.8h0M733.1 307.2h0M737.5 307.3h0M742.1 307.3h0M745.1 308.1h0M747.6 306.8h0M749.5 307.3h0M754.4 307.7h0M756.4 306.4h0M767.4 308.3h0M769.8 308.7h0M772.3 307.8h0M730.5 311.3h0M734.6 310.4h0M736.4 311.2h0M740.0 309.1h0M744.1 310.8h0M745.0 308.9h0M752.6 311.4h0M754.7 310.1h0M757.6 310.0h0M729.0 311.7h0M732.0 313.8h0M734.5 313.9h0M739.0 312.3h0M742.1 313.0h0M743.7 314.2h0M746.7 312.1h0M733.9 316.0h0M739.7 315.0h0M743.9 314.8h0M747.9 314.3h0M724.1 319.5h0M728.7 317.3h0M735.1 317.3h0M738.7 317.0h0M746.5 319.3h0M753.6 319.4h0M727.5 322.1h0M729.7 320.7h0M732.5 320.3h0M737.5 319.9h0M723.1 325.3h0M726.2 322.7h0M727.4 325.0h0M718.7 329.7h0M845.0 245.0h0M852.0 237.0h0M860.0 230.0h0M868.0 240.0h0M872.0 252.0h0M859.0 262.0h0M846.0 268.0h0M833.0 282.0h0M822.0 290.0h0M863.0 248.0h0M876.0 231.0h0M889.0 230.0h0M901.0 230.0h0M901.0 243.0h0M872.0 212.0h0M860.0 215.0h0" stroke="#7dabc6" stroke-width="4.8"/>
<path d="M815.7 142.1h0M813.1 145.1h0M814.7 144.5h0M818.4 144.8h0M820.1 144.8h0M827.9 143.7h0M835.1 145.8h0M858.4 143.7h0M794.4 148.0h0M805.0 147.3h0M812.6 147.8h0M815.4 146.8h0M818.9 147.0h0M822.4 147.1h0M824.5 146.0h0M828.2 148.3h0M828.8 146.3h0M831.7 147.4h0M835.8 147.0h0M838.3 146.2h0M842.3 146.6h0M846.2 146.9h0M848.6 147.5h0M852.3 148.2h0M857.4 146.0h0M859.0 148.1h0M791.0 150.1h0M796.8 150.0h0M799.9 148.4h0M800.8 150.7h0M804.8 149.2h0M805.9 148.7h0M809.3 149.2h0M811.8 150.6h0M815.9 149.5h0M817.1 150.2h0M819.5 149.4h0M822.1 150.6h0M825.5 149.3h0M829.6 149.0h0M830.2 149.7h0M837.2 149.2h0M839.4 149.5h0M842.4 150.5h0M844.5 149.5h0M847.7 149.0h0M849.7 148.5h0M851.7 149.2h0M858.0 149.7h0M859.8 148.4h0M866.9 150.0h0M783.7 151.8h0M787.2 152.1h0M790.1 151.7h0M793.1 152.4h0M795.4 150.8h0M797.2 150.9h0M800.8 151.6h0M802.5 152.5h0M805.6 151.7h0M807.4 152.0h0M812.0 152.2h0M812.9 152.6h0M816.6 150.7h0M818.5 152.8h0M821.9 150.7h0M824.7 151.5h0M826.1 151.8h0M830.2 150.6h0M832.8 152.0h0M835.7 151.7h0M837.9 151.0h0M840.7 151.9h0M843.8 153.0h0M845.2 152.0h0M849.0 153.0h0M852.0 151.8h0M855.1 151.5h0M856.3 152.8h0M860.0 152.0h0M861.6 152.6h0M866.5 151.8h0M873.8 152.4h0M874.8 152.6h0M772.9 155.3h0M781.0 155.3h0M782.5 153.2h0M784.4 154.1h0M788.6 153.5h0M790.6 154.1h0M793.7 155.2h0M797.3 154.8h0M798.6 154.3h0M802.6 153.6h0M803.6 155.3h0M808.0 154.8h0M809.7 153.8h0M811.4 155.1h0M815.8 153.8h0M818.5 153.2h0M819.9 155.2h0M823.3 154.3h0M825.7 154.5h0M829.2 154.2h0M831.5 154.6h0M835.0 153.9h0M835.6 154.3h0M839.2 155.1h0M842.5 155.2h0M845.9 153.5h0M847.3 153.2h0M849.5 153.6h0M852.0 153.0h0M856.5 153.8h0M858.5 155.4h0M861.6 154.4h0M864.6 153.2h0M867.2 153.8h0M868.2 154.3h0M872.5 153.5h0M874.1 154.4h0M877.2 155.1h0M879.6 153.4h0M883.1 154.2h0M779.4 157.4h0M781.8 157.6h0M782.8 156.6h0M786.8 156.0h0M790.2 157.6h0M793.1 156.1h0M795.2 156.4h0M798.6 157.4h0M800.7 155.4h0M803.1 156.0h0M806.2 156.8h0M809.1 156.6h0M809.8 157.1h0M812.8 155.6h0M817.1 156.3h0M817.9 157.5h0M822.9 156.0h0M824.8 155.5h0M826.6 156.9h0M829.7 157.1h0M832.9 156.2h0M834.3 156.3h0M837.5 157.2h0M840.3 157.4h0M842.8 155.4h0M845.7 157.1h0M850.0 155.8h0M851.4 156.1h0M853.8 155.5h0M857.0 157.2h0M860.6 155.5h0M861.1 156.9h0M865.6 156.6h0M867.4 157.2h0M870.2 157.7h0M872.9 156.1h0M876.6 155.9h0M878.7 157.3h0M881.2 155.8h0M883.9 156.6h0M773.5 158.6h0M776.2 159.8h0M779.8 159.8h0M783.8 159.7h0M786.5 159.8h0M788.9 158.2h0M791.2 157.7h0M793.0 159.1h0M795.1 159.2h0M798.3 159.4h0M801.5 158.0h0M803.2 159.6h0M806.2 159.9h0M809.2 159.2h0M811.9 158.9h0M815.7 158.1h0M817.7 160.0h0M819.8 158.2h0M822.5 159.2h0M825.3 158.1h0M827.7 158.8h0M830.6 159.8h0M832.9 159.3h0M836.7 157.7h0M839.0 158.8h0M842.2 159.1h0M844.8 159.0h0M847.3 157.8h0M849.3 158.0h0M852.7 157.7h0M856.5 158.1h0M859.2 157.8h0M861.3 159.2h0M863.7 158.9h0M865.2 160.0h0M868.3 159.8h0M871.5 159.8h0M873.9 157.8h0M877.1 158.9h0M880.3 158.0h0M883.0 158.7h0M887.2 159.7h0M765.0 161.9h0M769.7 161.2h0M772.3 161.1h0M776.4 161.5h0M777.6 161.5h0M781.3 160.4h0M783.1 162.4h0M786.8 160.7h0M789.2 162.0h0M792.4 160.2h0M794.2 161.9h0M796.9 160.3h0M799.9 161.4h0M802.4 160.1h0M804.8 162.1h0M809.3 160.4h0M811.3 160.9h0M813.2 160.4h0M815.4 160.1h0M820.2 160.5h0M821.3 160.1h0M824.0 161.3h0M827.2 162.0h0M828.8 160.5h0M833.4 160.7h0M835.0 161.1h0M837.1 161.7h0M839.8 161.9h0M842.5 162.2h0M847.1 160.9h0M847.7 160.8h0M850.3 162.4h0M854.2 161.5h0M856.4 161.3h0M859.3 160.7h0M861.2 160.4h0M864.9 161.1h0M868.9 162.4h0M869.7 162.1h0M873.7 160.1h0M874.9 162.1h0M877.4 161.2h0M881.1 162.0h0M883.3 160.3h0M887.3 161.8h0M770.1 164.4h0M771.7 164.3h0M775.1 163.9h0M776.5 163.2h0M779.2 164.5h0M781.6 163.4h0M785.5 163.9h0M788.5 163.3h0M790.1 162.7h0M792.6 162.6h0M796.2 163.0h0M797.7 164.4h0M802.5 163.7h0M805.0 163.7h0M806.3 163.2h0M810.0 163.9h0M812.6 164.7h0M814.7 163.3h0M817.4 162.5h0M819.8 163.1h0M824.0 162.5h0M825.0 163.3h0M828.4 164.5h0M832.2 164.1h0M833.2 164.2h0M837.2 164.7h0M840.5 162.5h0M843.1 163.1h0M845.9 164.0h0M847.6 164.1h0M849.5 164.2h0M852.0 164.4h0M855.2 163.0h0M858.6 162.6h0M862.0 164.7h0M863.9 162.6h0M865.4 162.8h0M868.3 164.1h0M870.9 163.9h0M873.4 163.8h0M877.8 163.3h0M880.3 163.5h0M882.5 164.1h0M884.7 163.2h0M886.8 163.2h0M891.5 163.9h0M896.9 163.0h0M764.4 165.3h0M766.8 166.5h0M770.7 166.4h0M773.7 165.5h0M776.2 165.3h0M777.5 164.7h0M782.0 166.0h0M784.2 166.7h0M786.2 166.1h0M789.9 165.3h0M791.6 165.6h0M795.1 166.8h0M797.0 165.9h0M799.8 165.2h0M803.7 165.1h0M806.0 165.0h0M809.2 165.4h0M811.8 165.9h0M814.3 164.9h0M816.0 166.3h0M819.1 164.9h0M822.6 165.0h0M824.6 165.9h0M826.3 166.5h0M830.1 166.1h0M833.3 164.9h0M834.4 166.8h0M837.2 165.3h0M839.7 166.8h0M844.0 166.6h0M846.4 167.1h0M848.9 166.2h0M851.2 166.5h0M854.4 165.1h0M857.7 166.4h0M860.5 164.7h0M863.4 164.8h0M865.0 166.0h0M867.5 166.1h0M869.9 166.5h0M873.9 165.8h0M875.8 166.4h0M877.8 166.6h0M880.4 166.6h0M884.3 166.4h0M885.9 167.0h0M888.7 166.7h0M892.5 165.8h0M893.6 164.9h0M769.4 167.8h0M771.8 168.6h0M773.8 168.4h0M778.3 167.3h0M780.9 167.5h0M783.8 168.9h0M784.8 168.1h0M788.6 168.3h0M791.7 168.3h0M793.2 168.8h0M795.9 167.7h0M798.6 167.2h0M801.1 169.3h0M804.7 168.6h0M806.8 167.1h0M810.1 167.5h0M812.0 168.8h0M816.0 167.5h0M817.1 167.2h0M819.8 168.7h0M822.5 167.3h0M824.7 168.8h0M827.7 168.9h0M830.4 169.0h0M834.7 168.4h0M837.2 169.0h0M838.5 168.5h0M841.7 169.3h0M845.8 169.0h0M848.0 169.2h0M851.0 167.7h0M852.8 168.2h0M855.3 167.1h0M858.3 168.8h0M860.5 168.2h0M863.8 168.9h0M866.0 167.8h0M868.8 167.5h0M871.9 168.3h0M874.0 167.5h0M877.6 167.5h0M879.0 168.9h0M882.4 168.3h0M884.7 167.4h0M887.5 168.6h0M889.8 168.1h0M894.4 168.2h0M895.0 169.2h0M898.0 169.0h0M764.1 171.4h0M767.8 171.1h0M770.9 169.5h0M772.2 171.2h0M775.0 169.9h0M779.4 171.7h0M782.0 171.2h0M784.8 171.1h0M785.6 169.4h0M788.3 171.7h0M791.3 171.7h0M794.2 170.0h0M797.3 171.0h0M801.2 169.6h0M802.0 171.6h0M804.7 170.6h0M808.8 170.3h0M811.9 170.6h0M813.8 170.6h0M816.4 170.7h0M819.8 171.0h0M821.9 169.9h0M825.4 169.4h0M826.9 171.6h0M830.5 170.3h0M833.0 170.9h0M834.6 171.2h0M838.3 171.5h0M841.6 171.7h0M843.6 169.6h0M846.0 170.3h0M849.1 171.4h0M852.6 170.5h0M854.2 170.2h0M856.6 171.3h0M858.9 171.7h0M861.8 171.8h0M865.7 170.8h0M868.3 169.7h0M870.1 171.4h0M873.1 171.0h0M875.4 170.2h0M877.9 170.2h0M880.6 169.3h0M884.9 169.6h0M886.5 170.2h0M888.8 170.2h0M891.5 171.3h0M895.6 171.3h0M896.4 169.4h0M760.9 172.0h0M763.1 172.3h0M766.8 173.2h0M770.2 173.6h0M771.2 172.6h0M774.8 173.8h0M777.9 174.0h0M780.7 173.7h0M781.9 174.1h0M785.6 173.5h0M787.8 172.3h0M789.9 173.9h0M792.4 173.3h0M796.4 173.3h0M798.7 172.3h0M802.2 172.8h0M804.8 172.6h0M807.5 173.6h0M809.0 171.7h0M811.4 173.3h0M814.5 172.2h0M817.1 171.9h0M820.2 172.7h0M824.1 172.2h0M826.0 172.4h0M829.2 172.5h0M830.6 173.9h0M832.7 173.5h0M836.2 172.4h0M838.7 173.3h0M842.3 173.3h0M844.1 172.7h0M848.2 173.4h0M850.2 172.4h0M853.1 172.2h0M856.2 173.5h0M858.8 172.6h0M860.0 173.0h0M864.3 172.8h0M865.7 174.0h0M869.0 173.7h0M870.7 173.8h0M874.7 172.2h0M878.0 173.4h0M880.8 172.1h0M882.6 172.6h0M885.4 172.7h0M887.4 173.6h0M890.6 173.9h0M892.4 172.0h0M896.1 172.0h0M757.2 176.3h0M759.6 174.6h0M763.2 174.4h0M764.0 175.6h0M766.9 176.4h0M769.8 175.5h0M773.3 175.9h0M776.0 176.3h0M777.5 175.5h0M781.3 175.6h0M783.7 174.5h0M786.3 174.8h0M788.2 175.4h0M790.9 174.0h0M794.0 175.6h0M796.7 175.7h0M800.8 175.7h0M803.2 174.2h0M805.5 175.1h0M808.0 174.9h0M812.0 175.3h0M812.8 174.3h0M816.5 175.9h0M820.2 175.8h0M821.5 175.9h0M825.4 174.2h0M826.2 175.9h0M830.7 175.7h0M832.5 175.6h0M834.4 174.5h0M838.4 176.2h0M839.8 176.1h0M843.8 175.9h0M845.5 174.4h0M848.3 174.3h0M852.4 175.6h0M854.4 174.6h0M856.9 174.1h0M860.2 174.1h0M863.0 175.2h0M864.5 174.2h0M867.8 174.6h0M869.2 175.6h0M873.4 175.0h0M874.7 175.7h0M877.4 175.5h0M882.2 175.6h0M882.8 175.4h0M886.7 174.5h0M889.9 174.2h0M891.0 176.4h0M894.6 174.5h0M754.8 177.9h0M757.5 177.8h0M760.3 177.2h0M764.2 177.3h0M765.6 176.4h0M770.1 177.3h0M772.1 177.6h0M775.1 178.0h0M777.2 176.4h0M778.9 177.4h0M783.5 178.7h0M786.4 177.0h0M789.1 177.0h0M791.1 176.6h0M793.6 176.9h0M797.2 178.6h0M799.6 176.8h0M801.1 177.4h0M803.8 178.5h0M806.3 178.4h0M809.8 178.1h0M812.7 177.5h0M814.3 178.4h0M818.4 177.7h0M820.7 177.3h0M823.7 177.1h0M826.5 177.2h0M827.7 177.9h0M831.8 177.2h0M833.6 178.3h0M836.2 177.7h0M838.7 177.1h0M841.6 177.6h0M844.7 178.1h0M847.0 178.5h0M849.6 178.5h0M852.4 178.3h0M854.8 177.4h0M859.2 177.1h0M862.2 177.0h0M864.4 178.1h0M867.5 178.6h0M868.4 177.3h0M872.0 177.5h0M874.8 178.3h0M877.3 176.9h0M879.4 177.8h0M881.6 177.1h0M885.1 177.9h0M888.5 176.5h0M889.9 177.1h0M892.8 178.1h0M895.5 176.6h0M755.3 179.2h0M757.5 178.8h0M759.6 180.4h0M762.1 180.2h0M765.3 181.1h0M769.0 180.7h0M771.5 180.1h0M773.8 179.7h0M776.4 178.7h0M779.3 180.9h0M780.8 179.8h0M783.9 180.4h0M786.3 179.3h0M788.7 179.0h0M791.2 180.0h0M795.1 180.4h0M796.5 178.9h0M800.3 180.1h0M802.9 178.7h0M805.4 180.4h0M808.5 180.1h0M810.9 179.2h0M814.6 179.9h0M816.7 179.6h0M819.8 179.8h0M820.9 179.9h0M823.9 179.6h0M828.3 179.2h0M829.3 178.9h0M832.7 179.1h0M835.9 180.7h0M836.8 179.2h0M841.2 179.5h0M842.2 179.6h0M845.3 180.7h0M849.6 179.3h0M851.8 180.1h0M855.0 179.4h0M857.5 179.9h0M858.6 179.9h0M863.1 179.8h0M865.7 179.3h0M867.2 179.2h0M871.2 178.9h0M874.1 180.9h0M877.0 180.5h0M879.3 179.9h0M880.5 179.9h0M883.9 180.7h0M887.8 178.7h0M889.4 180.9h0M892.8 179.3h0M894.2 179.5h0M757.7 182.4h0M761.4 181.2h0M764.3 181.5h0M767.0 182.8h0M769.8 181.4h0M772.6 181.2h0M775.1 181.8h0M777.9 182.8h0M780.3 181.6h0M782.1 181.6h0M784.7 181.9h0M787.5 181.2h0M790.9 183.4h0M793.7 182.8h0M796.4 181.2h0M799.9 181.2h0M800.7 181.7h0M805.0 181.2h0M805.9 182.8h0M810.0 181.8h0M812.5 181.5h0M814.8 181.2h0M817.2 182.2h0M821.6 181.9h0M822.6 183.4h0M824.9 181.6h0M829.6 181.6h0M830.6 181.8h0M833.2 183.3h0M836.7 181.3h0M838.8 182.3h0M842.5 182.6h0M843.7 181.1h0M848.1 182.7h0M850.0 183.3h0M851.9 182.3h0M856.0 181.5h0M859.0 182.2h0M861.9 182.3h0M863.9 182.7h0M866.5 183.3h0M870.1 181.8h0M871.9 183.5h0M875.3 181.2h0M876.5 182.6h0M880.2 183.0h0M881.6 182.1h0M884.7 182.6h0M888.5 181.5h0M892.5 181.5h0M895.0 181.5h0M754.2 185.6h0M756.5 184.4h0M759.8 183.8h0M762.5 183.8h0M764.9 184.0h0M767.1 183.9h0M771.0 183.6h0M772.8 183.7h0M775.6 184.0h0M778.8 184.5h0M781.6 184.4h0M783.9 185.1h0M786.4 185.1h0M789.9 185.7h0M792.5 184.1h0M795.7 185.2h0M797.0 184.8h0M800.2 185.7h0M803.9 184.5h0M805.3 184.8h0M808.4 183.9h0M810.6 185.3h0M814.5 185.6h0M815.3 184.2h0M818.5 185.3h0M821.6 184.5h0M823.6 183.9h0M828.2 183.6h0M829.4 183.9h0M831.7 185.7h0M836.3 183.5h0M838.2 185.7h0M840.0 185.0h0M842.3 184.5h0M845.2 185.0h0M848.1 184.6h0M852.3 184.3h0M854.3 185.0h0M857.6 183.8h0M858.9 183.8h0M862.0 185.6h0M866.0 183.4h0M868.3 185.2h0M871.0 184.8h0M872.1 184.2h0M874.9 184.7h0M878.9 184.7h0M882.3 185.5h0M884.8 185.1h0M887.2 183.6h0M891.3 184.4h0M752.5 186.4h0M756.6 187.3h0M759.5 186.1h0M761.5 186.8h0M762.9 187.8h0M765.4 186.4h0M769.0 187.3h0M772.8 187.3h0M773.6 187.7h0M776.2 187.5h0M779.0 185.8h0M782.3 187.7h0M784.8 186.5h0M787.2 185.8h0M790.8 186.3h0M793.5 186.1h0M795.2 186.6h0M799.6 187.2h0M800.9 187.3h0M803.2 186.9h0M806.3 185.9h0M809.4 187.4h0M811.3 187.0h0M813.9 186.6h0M818.3 185.8h0M820.7 187.2h0M822.2 186.3h0M825.1 186.2h0M829.6 187.7h0M830.4 186.0h0M834.0 186.5h0M836.6 187.4h0M839.5 187.2h0M841.8 187.6h0M843.6 187.8h0M846.9 187.8h0M850.2 187.7h0M853.9 186.4h0M856.7 186.0h0M859.1 187.2h0M861.2 187.6h0M864.8 186.1h0M866.3 185.8h0M868.7 187.3h0M871.2 187.1h0M874.5 186.6h0M878.2 186.1h0M880.2 187.3h0M883.5 187.4h0M884.6 186.5h0M887.3 185.8h0M748.5 190.2h0M750.5 188.1h0M753.2 189.9h0M756.2 190.4h0M760.8 188.6h0M761.3 189.8h0M765.8 189.1h0M767.1 190.3h0M770.8 188.5h0M774.0 190.4h0M776.8 190.0h0M779.3 188.3h0M780.1 188.3h0M784.1 188.4h0M786.1 189.5h0M789.9 188.9h0M791.6 190.0h0M794.6 188.5h0M798.6 190.1h0M801.1 188.4h0M802.4 188.1h0M805.0 189.6h0M809.2 188.3h0M809.9 188.4h0M812.6 188.1h0M817.0 189.9h0M818.6 188.4h0M821.9 189.0h0M823.4 188.9h0M826.1 188.1h0M829.5 190.3h0M833.1 189.5h0M834.5 188.2h0M838.7 188.3h0M840.0 190.1h0M842.3 188.6h0M845.3 189.7h0M848.5 190.4h0M851.9 189.8h0M854.1 188.7h0M857.3 188.4h0M859.7 189.0h0M863.0 189.6h0M864.2 190.3h0M867.0 188.9h0M870.9 188.3h0M873.4 189.6h0M874.8 189.6h0M878.2 190.1h0M881.2 189.4h0M883.5 190.2h0M749.1 192.2h0M754.0 190.9h0M756.6 191.2h0M757.2 191.8h0M760.1 191.6h0M764.0 192.4h0M766.8 192.1h0M769.7 191.0h0M771.9 191.1h0M775.3 191.0h0M777.7 190.8h0M779.2 190.7h0M782.5 192.1h0M784.7 191.7h0M787.0 192.2h0M790.3 192.5h0M793.2 191.5h0M796.7 192.3h0M798.9 191.8h0M801.3 192.2h0M804.0 191.6h0M806.1 192.5h0M808.7 191.2h0M811.9 191.5h0M815.2 192.2h0M816.8 192.5h0M819.5 192.1h0M822.2 192.2h0M826.7 192.8h0M829.6 191.6h0M831.2 192.4h0M834.1 191.0h0M837.7 190.5h0M839.4 192.7h0M843.3 192.5h0M844.2 191.3h0M848.2 190.9h0M849.2 192.7h0M852.3 192.4h0M856.0 192.8h0M858.4 190.6h0M861.3 191.8h0M864.3 191.5h0M865.8 191.4h0M870.0 191.2h0M871.6 191.2h0M875.6 191.8h0M877.7 191.9h0M879.8 191.8h0M882.6 192.6h0M747.9 193.8h0M752.1 193.0h0M753.2 194.0h0M757.3 193.4h0M760.6 193.4h0M762.4 192.8h0M766.3 193.8h0M766.7 192.9h0M771.4 194.7h0M774.0 193.6h0M776.9 194.7h0M777.5 194.8h0M782.2 195.1h0M783.9 192.8h0M787.8 193.2h0M789.0 192.9h0M791.8 193.1h0M795.0 194.0h0M798.7 195.1h0M799.4 193.2h0M803.6 193.8h0M806.0 194.1h0M808.5 193.4h0M810.5 192.8h0M814.1 193.6h0M815.5 193.9h0M818.7 195.1h0M822.9 193.0h0M824.5 194.5h0M826.4 194.7h0M829.8 193.2h0M833.0 194.6h0M834.3 194.6h0M839.0 193.1h0M840.5 194.8h0M844.1 193.7h0M845.1 193.9h0M849.6 193.5h0M850.9 194.8h0M853.6 194.1h0M855.7 192.9h0M858.4 193.7h0M861.8 194.9h0M863.9 193.2h0M866.9 194.1h0M871.3 194.9h0M873.2 194.8h0M874.9 193.1h0M878.7 194.5h0M882.2 193.5h0M882.9 195.1h0M887.0 194.6h0M747.4 195.8h0M749.1 196.8h0M752.4 196.8h0M755.7 196.8h0M759.2 197.5h0M760.5 196.3h0M763.7 196.7h0M767.0 197.2h0M768.4 197.3h0M773.1 195.1h0M775.6 195.9h0M776.7 195.5h0M778.9 196.5h0M782.3 196.7h0M785.5 196.3h0M787.1 197.2h0M790.9 197.3h0M794.4 195.4h0M795.2 196.4h0M799.4 197.4h0M801.9 196.2h0M803.9 197.5h0M807.3 197.4h0M810.5 197.1h0M811.8 196.8h0M815.3 195.6h0M818.8 195.9h0M820.6 196.7h0M824.0 196.2h0M826.5 196.3h0M827.9 196.1h0M831.4 197.4h0M834.2 196.6h0M836.9 197.3h0M840.3 196.1h0M842.2 195.2h0M845.4 195.8h0M847.2 196.7h0M850.1 196.6h0M853.1 197.0h0M855.7 197.0h0M858.8 197.1h0M861.3 196.5h0M863.7 196.1h0M866.3 195.3h0M869.4 196.8h0M871.7 196.5h0M874.2 196.7h0M877.1 197.1h0M880.5 196.5h0M882.9 195.8h0M744.7 198.4h0M746.7 197.5h0M748.8 197.8h0M752.0 197.6h0M753.6 197.8h0M756.8 197.8h0M760.2 198.5h0M761.7 197.7h0M765.8 198.8h0M767.3 199.0h0M770.7 197.5h0M773.3 199.3h0M775.7 198.9h0M779.4 199.6h0M781.7 198.7h0M784.8 199.2h0M787.2 198.7h0M789.7 199.3h0M792.2 199.3h0M794.9 198.9h0M798.7 197.5h0M800.6 197.6h0M802.1 199.8h0M806.0 198.6h0M808.6 198.2h0M810.1 199.5h0M813.6 199.0h0M817.5 198.9h0M819.0 199.2h0M821.6 197.4h0M823.3 199.4h0M827.5 199.8h0M830.1 197.4h0M831.8 198.1h0M835.6 198.4h0M837.3 197.9h0M841.6 197.8h0M843.2 197.5h0M844.9 198.8h0M848.8 198.0h0M850.8 199.2h0M853.8 198.3h0M856.9 198.5h0M860.3 197.4h0M862.1 198.5h0M865.2 199.3h0M868.0 197.5h0M871.2 197.7h0M872.8 199.3h0M875.2 198.3h0M877.3 199.1h0M880.6 197.6h0M744.1 200.7h0M747.6 201.4h0M750.6 200.1h0M752.6 201.0h0M755.1 200.2h0M759.3 200.7h0M760.2 200.9h0M763.2 201.6h0M767.0 201.3h0M768.3 200.4h0M773.0 201.8h0M774.9 200.5h0M777.6 200.0h0M780.7 200.7h0M782.3 201.6h0M784.7 200.2h0M788.5 201.1h0M789.7 201.3h0M794.4 202.1h0M795.3 200.8h0M798.3 199.9h0M802.7 201.6h0M803.6 202.0h0M806.1 200.2h0M808.8 201.3h0M812.0 200.5h0M815.5 200.4h0M816.8 201.5h0M820.3 199.8h0M824.2 200.2h0M827.1 201.8h0M827.6 200.2h0M830.7 200.6h0M834.1 201.2h0M836.1 200.0h0M838.8 201.7h0M842.3 201.5h0M845.4 200.3h0M848.0 202.1h0M851.2 202.1h0M852.0 200.3h0M856.2 200.3h0M859.4 202.1h0M861.3 200.8h0M864.8 200.3h0M867.4 201.8h0M870.0 200.7h0M871.9 199.8h0M874.7 201.9h0M876.2 200.5h0M880.2 201.9h0M751.6 203.5h0M754.5 202.4h0M756.6 203.3h0M762.2 203.0h0M765.5 202.2h0M769.0 202.9h0M771.7 202.3h0M772.1 202.6h0M776.7 203.0h0M780.1 204.0h0M783.7 203.1h0M787.6 203.0h0M790.4 203.3h0M792.7 204.0h0M795.8 203.0h0M797.2 204.1h0M799.4 203.7h0M803.8 204.4h0M806.7 203.0h0M808.4 204.2h0M811.9 203.3h0M812.9 203.8h0M817.2 203.6h0M818.3 204.0h0M820.7 203.5h0M823.8 203.6h0M827.6 204.1h0M828.8 203.0h0M833.8 202.1h0M836.3 202.3h0M838.8 203.4h0M841.0 202.5h0M844.3 204.1h0M845.9 203.6h0M848.2 202.4h0M851.6 203.7h0M855.1 202.2h0M857.3 203.9h0M858.8 202.6h0M861.5 203.6h0M864.6 202.2h0M868.9 204.4h0M870.3 202.6h0M872.3 203.5h0M875.5 202.8h0M879.1 202.3h0M753.9 204.5h0M754.9 204.9h0M757.9 204.9h0M762.0 206.0h0M769.6 205.4h0M771.8 205.7h0M774.8 206.8h0M783.4 205.8h0M785.6 206.5h0M788.1 204.5h0M791.6 206.7h0M793.7 204.6h0M796.2 204.9h0M798.0 206.8h0M800.5 205.3h0M805.1 204.7h0M807.9 205.5h0M810.3 204.9h0M812.7 206.6h0M816.2 205.7h0M816.9 205.5h0M820.1 206.4h0M823.2 205.7h0M826.8 206.8h0M829.7 206.0h0M831.7 204.5h0M832.9 205.8h0M836.7 205.2h0M839.7 205.0h0M841.5 206.8h0M843.6 205.8h0M846.7 204.6h0M851.2 205.6h0M853.9 205.2h0M856.4 206.3h0M857.7 206.2h0M861.1 204.6h0M863.4 206.4h0M865.9 205.4h0M869.1 205.6h0M870.6 204.8h0M874.1 204.7h0M877.2 205.1h0M773.5 207.3h0M780.2 208.1h0M783.9 207.9h0M791.8 207.6h0M794.0 208.6h0M798.1 207.5h0M800.8 207.7h0M801.7 207.5h0M804.6 207.1h0M808.8 208.4h0M810.1 208.6h0M813.2 207.6h0M817.5 209.1h0M819.3 207.0h0M822.4 207.5h0M825.0 208.4h0M826.3 209.1h0M830.5 208.6h0M833.3 208.5h0M836.4 207.7h0M838.0 208.3h0M840.2 207.0h0M843.1 209.1h0M845.7 208.9h0M847.8 208.9h0M851.0 207.7h0M854.9 208.1h0M856.2 208.7h0M860.0 207.4h0M861.1 207.2h0M866.1 208.9h0M870.1 208.8h0M873.0 208.2h0M878.6 207.3h0M786.5 209.2h0M791.2 209.6h0M806.4 210.5h0M808.7 209.5h0M812.6 210.8h0M815.3 211.0h0M819.9 211.1h0M823.7 210.6h0M825.0 211.4h0M829.2 210.5h0M831.8 210.8h0M834.8 210.7h0M837.0 209.2h0M838.8 210.6h0M841.8 211.2h0M845.5 209.4h0M848.4 210.5h0M849.9 210.9h0M853.5 209.5h0M854.5 210.2h0M859.1 210.5h0M860.0 210.2h0M862.6 211.1h0M866.8 211.2h0M868.4 210.2h0M804.9 211.8h0M810.3 211.8h0M816.4 213.0h0M819.6 213.3h0M821.2 211.9h0M825.7 212.2h0M834.7 213.8h0M837.4 212.4h0M839.7 212.5h0M843.8 213.2h0M844.9 213.5h0M848.3 213.5h0M851.1 213.0h0M854.7 212.0h0M815.2 214.4h0M834.1 213.8h0M837.5 214.2h0M838.9 214.4h0M841.4 215.3h0M844.5 214.2h0M847.7 213.8h0M849.3 214.5h0M852.8 214.1h0M855.5 214.4h0M858.2 214.0h0M838.6 216.2h0M842.5 217.9h0M846.3 216.5h0M905.0 170.0h0M909.0 178.0h0M912.0 196.0h0M903.0 201.0h0M897.0 209.0h0M902.0 188.0h0M750.0 212.0h0M747.0 221.0h0M756.0 219.0h0M788.0 217.0h0M808.0 224.0h0M826.0 222.0h0M838.0 226.0h0M852.0 218.0h0M871.0 215.0h0M903.0 183.0h0" stroke="#5f6b96" stroke-width="4.8"/>
<path d="M805.0 196.0h0M801.0 155.0h0M829.0 185.0h0M863.0 222.0h0M866.0 226.0h0M950.6 214.0h0" stroke="#c45ff2" stroke-width="4.8"/>
<path d="M775.0 206.0h0M834.0 205.0h0M881.0 189.0h0M766.0 232.0h0M826.0 227.0h0M767.0 279.0h0" stroke="#7c6aef" stroke-width="4.8"/>
<path d="M802.0 201.0h0M854.0 207.0h0M856.0 213.0h0M848.0 232.0h0M855.0 238.0h0M852.0 245.0h0M854.0 256.0h0M845.0 264.0h0M850.0 266.0h0M797.0 276.0h0" stroke="#a6d47b" stroke-width="4.8"/>
<path d="M754.0 221.0h0M836.0 215.0h0M864.0 219.0h0M861.0 228.0h0M862.0 236.0h0M864.0 241.0h0M830.0 250.0h0" stroke="#6a2a7a" stroke-width="4.8"/>
<path d="M721.0 307.0h0M733.0 291.0h0" stroke="#7ba64b" stroke-width="4.8"/>
<path d="M1061.2 244.2h0M1068.8 245.1h0M1071.9 245.0h0M1064.6 247.5h0M1068.9 247.1h0M1073.0 246.4h0M1061.8 249.3h0M1065.0 249.5h0M1066.2 249.6h0M1070.1 248.2h0M1071.6 248.2h0M1075.4 249.2h0M1055.0 252.4h0M1055.9 251.4h0M1060.5 251.7h0M1061.9 250.7h0M1064.8 251.7h0M1067.8 252.3h0M1071.5 251.8h0M1073.8 250.1h0M1076.0 251.3h0M1078.8 251.3h0M1081.6 252.1h0M1085.0 250.3h0M1055.2 254.3h0M1059.3 253.3h0M1061.5 254.6h0M1062.7 254.8h0M1067.8 252.5h0M1069.0 254.3h0M1073.2 255.0h0M1073.8 252.7h0M1078.7 252.5h0M1080.1 253.1h0M1082.2 253.8h0M1086.2 253.2h0M1051.1 256.8h0M1053.4 257.1h0M1056.5 256.9h0M1060.2 255.6h0M1061.5 255.1h0M1064.5 255.8h0M1068.4 255.7h0M1070.1 256.3h0M1073.8 255.7h0M1076.8 255.3h0M1078.0 256.7h0M1081.0 256.7h0M1084.7 255.4h0M1087.9 257.3h0M1051.0 258.3h0M1052.3 258.2h0M1054.7 258.8h0M1057.1 258.2h0M1060.1 258.8h0M1064.6 258.7h0M1065.6 257.4h0M1068.8 258.3h0M1073.4 258.1h0M1076.0 258.3h0M1076.9 258.9h0M1081.2 258.7h0M1083.4 259.1h0M1085.6 259.7h0M1088.2 257.4h0M1091.0 258.4h0M1052.3 262.3h0M1053.0 261.8h0M1057.4 260.7h0M1059.8 260.5h0M1062.6 260.9h0M1065.6 261.7h0M1067.4 262.1h0M1070.3 260.2h0M1073.5 260.7h0M1076.9 261.5h0M1078.6 261.1h0M1081.9 261.8h0M1085.2 260.2h0M1087.4 260.4h0M1091.0 262.0h0M1092.1 261.6h0M1050.1 263.7h0M1051.8 262.8h0M1055.2 263.8h0M1057.7 263.1h0M1060.8 263.3h0M1065.0 262.8h0M1067.2 263.5h0M1069.9 264.2h0M1071.8 262.4h0M1074.7 264.6h0M1077.1 263.2h0M1079.8 263.7h0M1084.7 263.0h0M1087.1 264.3h0M1089.7 264.2h0M1091.5 262.6h0M1093.5 263.6h0M1054.1 267.0h0M1056.0 266.1h0M1059.2 265.9h0M1063.6 266.3h0M1065.4 264.6h0M1066.8 266.4h0M1071.8 265.6h0M1073.3 265.8h0M1075.2 266.1h0M1078.6 265.7h0M1082.9 265.8h0M1085.1 267.0h0M1088.1 265.4h0M1091.2 265.0h0M1093.2 264.9h0M1095.6 267.0h0M1098.3 266.0h0M1054.9 267.1h0M1057.5 268.3h0M1060.8 267.8h0M1064.8 268.1h0M1067.3 268.1h0M1069.4 267.6h0M1071.6 268.3h0M1075.3 267.4h0M1077.2 268.1h0M1080.0 267.6h0M1084.2 269.1h0M1086.8 269.2h0M1089.5 268.3h0M1093.0 267.7h0M1094.3 269.0h0M1097.0 267.9h0M1101.2 268.5h0M1053.6 271.4h0M1057.9 271.6h0M1060.6 271.4h0M1061.8 270.5h0M1064.5 271.6h0M1067.9 271.3h0M1071.9 270.0h0M1072.4 272.0h0M1075.3 271.5h0M1078.8 269.9h0M1081.4 270.3h0M1084.0 269.7h0M1088.7 270.3h0M1090.7 270.2h0M1092.1 271.4h0M1094.8 270.3h0M1098.4 272.0h0M1102.3 270.5h0M1053.0 273.5h0M1056.0 273.0h0M1058.8 274.2h0M1060.5 274.2h0M1063.6 273.7h0M1067.1 272.4h0M1068.8 272.8h0M1072.1 273.9h0M1075.5 274.3h0M1077.6 272.9h0M1079.4 273.0h0M1084.2 272.9h0M1086.3 272.0h0M1089.4 272.3h0M1091.8 273.5h0M1093.4 272.6h0M1098.4 274.1h0M1099.8 272.4h0M1055.2 274.6h0M1057.8 276.4h0M1060.7 275.7h0M1063.0 276.8h0M1066.3 274.4h0M1068.5 276.5h0M1070.7 275.2h0M1072.4 274.7h0M1076.7 275.3h0M1078.9 276.5h0M1080.8 276.5h0M1085.3 276.6h0M1087.3 274.3h0M1090.8 275.5h0M1092.9 276.8h0M1096.4 274.3h0M1099.5 275.2h0M1100.4 275.2h0M1108.3 276.2h0M1055.2 278.2h0M1058.4 278.6h0M1062.0 278.2h0M1063.3 277.1h0M1067.8 278.9h0M1070.1 278.6h0M1071.9 279.0h0M1075.0 277.0h0M1077.9 279.0h0M1079.5 277.5h0M1082.9 277.7h0M1086.6 278.4h0M1087.7 278.6h0M1090.7 276.9h0M1093.4 276.9h0M1096.7 277.7h0M1100.4 276.8h0M1103.3 277.8h0M1106.2 278.7h0M1062.5 281.6h0M1064.3 280.8h0M1068.5 279.9h0M1071.8 280.4h0M1073.4 279.2h0M1076.9 281.2h0M1078.0 279.6h0M1081.7 279.3h0M1084.0 279.2h0M1086.9 279.3h0M1090.6 281.6h0M1092.7 281.3h0M1095.3 279.9h0M1098.8 279.2h0M1101.3 280.1h0M1103.6 281.4h0M1106.5 279.4h0M1058.8 281.9h0M1064.7 282.8h0M1065.9 283.8h0M1068.3 283.4h0M1071.5 283.5h0M1075.8 282.8h0M1078.0 282.9h0M1080.7 283.7h0M1082.5 281.7h0M1085.9 283.7h0M1088.2 282.4h0M1091.8 282.5h0M1094.2 283.1h0M1097.9 282.9h0M1099.7 283.2h0M1102.9 282.2h0M1108.9 282.5h0M1063.0 286.2h0M1065.9 284.9h0M1067.2 285.1h0M1070.0 285.2h0M1073.7 285.6h0M1075.9 285.3h0M1080.2 286.1h0M1081.3 285.3h0M1083.7 284.6h0M1087.1 285.3h0M1089.2 285.3h0M1093.5 285.7h0M1096.7 284.3h0M1098.9 284.9h0M1100.5 285.3h0M1104.8 285.9h0M1106.1 284.9h0M1060.7 287.2h0M1063.6 287.7h0M1066.6 287.0h0M1069.1 288.9h0M1071.4 287.0h0M1074.9 287.8h0M1077.7 288.0h0M1080.7 288.6h0M1083.7 286.5h0M1086.5 286.9h0M1089.2 287.5h0M1093.0 287.1h0M1094.2 288.9h0M1097.9 288.0h0M1099.9 286.6h0M1103.8 288.0h0M1106.1 287.6h0M1107.6 287.6h0M1110.2 286.8h0M1060.4 291.2h0M1066.5 290.4h0M1068.9 290.2h0M1069.8 291.0h0M1074.0 289.1h0M1076.9 289.8h0M1079.3 290.3h0M1081.8 289.4h0M1084.2 289.7h0M1088.2 289.0h0M1089.4 291.2h0M1092.6 290.2h0M1094.9 291.0h0M1099.4 291.1h0M1101.8 289.3h0M1105.3 289.2h0M1106.9 289.4h0M1110.3 289.9h0M1064.4 293.7h0M1067.2 292.2h0M1068.9 292.2h0M1071.3 291.9h0M1074.9 293.3h0M1076.7 293.2h0M1081.5 293.4h0M1083.3 293.4h0M1085.2 293.3h0M1090.2 292.6h0M1091.8 292.3h0M1095.4 293.0h0M1097.7 293.2h0M1100.9 293.5h0M1102.8 292.8h0M1106.3 293.0h0M1108.9 292.4h0M1111.6 292.7h0M1067.8 294.0h0M1070.9 295.0h0M1074.1 295.1h0M1077.1 295.6h0M1079.5 295.7h0M1081.0 294.6h0M1085.2 294.0h0M1087.3 295.3h0M1089.6 296.2h0M1092.8 295.1h0M1096.3 294.3h0M1100.0 295.2h0M1100.4 293.7h0M1104.9 294.3h0M1106.7 296.0h0M1110.7 295.0h0M1062.7 298.1h0M1067.3 297.1h0M1069.8 298.4h0M1071.4 296.5h0M1074.3 296.9h0M1077.3 296.8h0M1079.4 296.6h0M1083.5 296.6h0M1086.9 297.5h0M1090.0 298.5h0M1092.6 297.1h0M1094.0 297.7h0M1098.1 298.1h0M1100.6 298.2h0M1102.4 296.4h0M1106.1 296.2h0M1107.8 298.5h0M1111.2 298.6h0M1113.1 297.9h0M1070.6 298.8h0M1074.1 299.3h0M1077.0 300.8h0M1079.6 299.0h0M1081.4 299.4h0M1084.3 300.0h0M1086.5 299.3h0M1090.8 299.8h0M1093.6 299.9h0M1096.2 299.7h0M1097.5 299.8h0M1101.1 299.6h0M1103.2 299.5h0M1107.0 301.0h0M1110.6 300.9h0M1113.9 298.7h0M1115.0 299.5h0M1067.0 301.9h0M1070.0 301.4h0M1071.1 301.2h0M1075.6 302.2h0M1076.8 301.7h0M1080.9 301.1h0M1083.6 301.9h0M1087.4 302.1h0M1088.7 303.1h0M1090.9 303.2h0M1094.2 301.4h0M1096.5 302.6h0M1099.0 301.1h0M1103.1 302.1h0M1105.8 301.2h0M1108.0 301.0h0M1111.8 302.9h0M1116.8 302.3h0M1071.8 305.1h0M1073.5 304.5h0M1077.2 305.0h0M1079.4 304.7h0M1081.5 304.9h0M1086.1 305.3h0M1086.5 303.7h0M1091.0 303.9h0M1093.3 304.9h0M1096.9 304.5h0M1099.8 304.6h0M1102.8 303.8h0M1105.5 305.2h0M1108.0 304.0h0M1111.2 305.3h0M1112.3 305.7h0M1070.5 306.8h0M1072.9 306.5h0M1075.9 307.5h0M1077.1 307.1h0M1079.8 307.8h0M1082.6 307.9h0M1087.4 306.1h0M1088.7 308.2h0M1091.1 306.5h0M1094.9 308.2h0M1096.4 307.4h0M1101.1 307.1h0M1103.1 307.1h0M1105.8 306.3h0M1109.7 307.0h0M1111.6 307.0h0M1114.3 306.1h0M1116.2 308.1h0M1074.5 308.8h0M1077.2 308.3h0M1078.8 309.6h0M1082.9 308.5h0M1085.2 309.5h0M1087.8 308.9h0M1089.2 309.2h0M1092.1 309.5h0M1096.9 309.7h0M1098.3 308.8h0M1101.2 309.2h0M1105.3 310.6h0M1108.1 308.4h0M1111.3 310.1h0M1112.4 309.6h0M1114.5 308.8h0M1069.4 311.5h0M1072.0 312.9h0M1075.5 311.3h0M1078.7 312.4h0M1080.6 313.0h0M1082.4 312.2h0M1085.8 312.8h0M1088.9 311.5h0M1091.6 311.3h0M1095.8 312.5h0M1097.7 310.8h0M1100.5 313.1h0M1102.1 313.0h0M1105.9 312.9h0M1109.6 311.0h0M1111.7 311.0h0M1115.1 312.7h0M1071.1 314.1h0M1072.9 315.1h0M1076.1 314.2h0M1080.3 314.3h0M1081.3 314.2h0M1084.0 314.4h0M1087.2 314.1h0M1089.9 314.0h0M1094.3 314.0h0M1095.7 313.4h0M1098.4 313.3h0M1100.8 314.6h0M1104.0 314.6h0M1108.3 314.1h0M1109.7 313.3h0M1113.7 314.4h0M1114.8 313.2h0M1119.0 313.4h0M1068.5 317.9h0M1073.3 316.9h0M1074.0 315.6h0M1076.6 317.9h0M1081.4 317.3h0M1082.4 317.9h0M1085.8 316.5h0M1088.0 315.7h0M1090.6 317.8h0M1095.5 316.6h0M1096.7 317.4h0M1099.2 317.3h0M1102.9 316.9h0M1105.1 315.6h0M1108.3 316.0h0M1110.7 316.8h0M1114.0 316.4h0M1115.8 316.0h0M1118.8 317.8h0M1070.7 319.4h0M1074.7 318.5h0M1076.0 319.7h0M1078.6 319.7h0M1081.2 319.3h0M1084.7 320.1h0M1088.8 319.3h0M1090.6 319.6h0M1093.5 318.2h0M1096.9 318.8h0M1099.8 320.3h0M1101.9 318.0h0M1104.7 319.3h0M1106.7 320.4h0M1109.5 320.0h0M1112.4 320.1h0M1114.9 318.7h0M1119.3 318.8h0M1069.7 320.4h0M1074.7 322.3h0M1077.0 320.5h0M1081.2 321.5h0M1083.0 322.0h0M1085.2 320.9h0M1088.7 322.0h0M1092.3 322.4h0M1094.0 321.0h0M1097.8 320.4h0M1101.1 320.4h0M1103.9 322.5h0M1104.7 322.8h0M1107.9 320.4h0M1111.4 322.7h0M1113.1 322.2h0M1117.5 321.6h0M1070.3 323.5h0M1074.2 324.8h0M1077.2 324.6h0M1078.6 324.1h0M1081.6 325.2h0M1085.9 323.1h0M1087.9 324.8h0M1090.6 323.5h0M1092.3 323.3h0M1096.4 324.1h0M1097.6 324.5h0M1102.4 324.3h0M1105.2 324.6h0M1106.8 323.1h0M1110.3 325.0h0M1113.5 322.8h0M1115.5 323.1h0M1117.9 323.0h0M1074.2 325.7h0M1078.9 325.7h0M1080.8 327.3h0M1084.4 325.6h0M1086.7 326.1h0M1089.0 326.2h0M1092.0 327.6h0M1095.6 327.7h0M1098.3 326.7h0M1100.8 325.8h0M1103.7 327.1h0M1106.7 325.9h0M1109.3 326.1h0M1111.8 327.2h0M1115.0 325.8h0M1116.1 326.3h0M1120.5 327.2h0M1071.6 329.3h0M1073.4 329.7h0M1075.9 328.3h0M1078.7 327.9h0M1083.2 328.2h0M1085.7 329.2h0M1088.7 328.6h0M1090.9 328.0h0M1092.3 328.5h0M1096.7 327.8h0M1099.8 328.7h0M1102.6 327.8h0M1104.3 329.1h0M1107.6 329.5h0M1109.1 327.7h0M1113.4 329.3h0M1115.5 328.6h0M1117.4 327.7h0M1073.0 332.4h0M1074.9 331.3h0M1077.4 330.9h0M1081.9 330.8h0M1083.0 331.4h0M1085.0 331.7h0M1088.4 330.9h0M1091.5 331.0h0M1093.6 331.2h0M1096.3 331.3h0M1100.9 330.7h0M1102.2 330.8h0M1105.4 332.2h0M1109.3 332.5h0M1110.6 332.5h0M1115.3 331.2h0M1115.8 330.4h0M1067.3 334.7h0M1072.5 334.8h0M1077.2 334.2h0M1079.6 334.4h0M1081.6 333.0h0M1085.6 334.2h0M1088.4 333.7h0M1090.0 334.1h0M1092.5 334.6h0M1095.2 334.6h0M1098.5 332.6h0M1102.6 334.7h0M1103.7 333.6h0M1106.5 332.8h0M1110.4 332.9h0M1113.8 334.2h0M1114.8 334.1h0M1119.5 332.8h0M1074.0 336.2h0M1077.6 335.3h0M1080.5 337.1h0M1084.3 337.2h0M1087.3 335.2h0M1088.6 336.8h0M1091.2 336.1h0M1095.6 335.1h0M1096.8 335.1h0M1100.5 337.2h0M1104.2 335.4h0M1106.3 335.5h0M1108.8 336.6h0M1111.8 336.7h0M1114.0 337.2h0M1116.9 335.8h0M1071.4 338.1h0M1073.9 338.1h0M1075.4 337.7h0M1080.3 338.3h0M1081.4 339.7h0M1085.9 337.9h0M1086.8 339.1h0M1091.4 337.5h0M1093.7 338.0h0M1094.8 339.6h0M1099.8 338.3h0M1100.9 338.0h0M1105.5 339.0h0M1106.7 339.3h0M1111.0 338.1h0M1112.1 338.0h0M1116.4 338.2h0M1117.9 338.5h0M1073.4 339.9h0M1075.3 342.1h0M1077.7 340.7h0M1081.2 341.5h0M1084.6 340.2h0M1085.4 342.2h0M1088.4 342.2h0M1092.5 342.1h0M1095.7 342.1h0M1096.2 340.6h0M1101.2 341.4h0M1102.6 341.2h0M1105.4 341.4h0M1108.4 341.5h0M1111.7 341.5h0M1115.5 341.4h0M1073.6 343.8h0M1075.9 343.3h0M1080.4 344.4h0M1081.6 342.3h0M1084.1 342.8h0M1087.0 342.4h0M1091.5 342.9h0M1093.9 344.5h0M1096.4 344.6h0M1098.3 343.2h0M1101.9 344.5h0M1103.7 344.4h0M1107.7 342.4h0M1111.1 344.6h0M1112.3 343.4h0M1115.5 342.5h0M1072.5 346.8h0M1074.2 345.9h0M1077.0 345.6h0M1079.9 346.8h0M1084.5 344.6h0M1086.8 345.0h0M1088.1 345.6h0M1092.9 346.2h0M1093.4 345.1h0M1097.7 346.3h0M1099.4 345.4h0M1102.3 345.2h0M1104.6 345.9h0M1109.3 344.8h0M1110.2 345.2h0M1114.6 344.8h0M1117.0 345.5h0M1071.7 348.4h0M1074.5 349.4h0M1076.4 349.1h0M1079.9 349.3h0M1082.8 348.8h0M1084.6 348.6h0M1088.5 348.6h0M1089.6 347.8h0M1094.4 347.4h0M1095.8 347.4h0M1097.6 348.7h0M1102.4 348.2h0M1104.0 347.4h0M1107.6 349.5h0M1110.3 347.5h0M1112.4 347.1h0M1115.6 347.2h0M1071.3 351.1h0M1074.9 351.8h0M1077.5 350.7h0M1081.3 349.6h0M1083.9 349.8h0M1085.8 350.5h0M1087.9 350.0h0M1091.7 350.2h0M1093.9 351.2h0M1096.8 351.8h0M1101.4 351.4h0M1102.8 350.9h0M1105.5 351.3h0M1109.7 350.9h0M1111.5 351.4h0M1113.4 351.7h0M1074.6 353.5h0M1076.8 352.5h0M1080.3 352.3h0M1081.7 353.5h0M1085.5 352.7h0M1088.6 353.8h0M1090.3 352.4h0M1094.0 353.7h0M1096.6 353.8h0M1099.7 353.5h0M1100.5 352.0h0M1103.6 353.0h0M1108.3 352.6h0M1110.0 352.0h0M1113.5 353.8h0M1070.0 355.4h0M1072.4 355.0h0M1074.6 355.0h0M1077.0 355.6h0M1080.6 355.5h0M1083.4 355.7h0M1085.7 354.5h0M1089.5 354.9h0M1092.0 354.9h0M1094.0 355.6h0M1097.9 356.0h0M1100.5 356.1h0M1102.0 356.2h0M1105.1 356.3h0M1109.6 355.6h0M1110.8 354.8h0M1113.3 356.8h0M1069.0 358.0h0M1071.6 357.2h0M1074.0 358.1h0M1075.7 358.3h0M1079.8 357.1h0M1082.5 357.5h0M1085.5 356.9h0M1087.9 357.6h0M1090.7 358.2h0M1093.1 358.6h0M1096.5 359.0h0M1099.4 357.9h0M1102.4 357.3h0M1104.4 359.1h0M1108.5 357.0h0M1110.6 357.3h0M1113.0 357.8h0M1068.3 361.0h0M1071.0 360.0h0M1076.0 359.6h0M1076.6 361.2h0M1079.6 359.4h0M1082.4 360.9h0M1085.7 360.0h0M1090.0 359.2h0M1092.8 360.3h0M1093.4 361.2h0M1097.5 360.2h0M1099.8 359.8h0M1103.5 361.4h0M1106.0 360.3h0M1109.8 360.2h0M1110.4 361.0h0M1068.3 363.3h0M1070.8 364.1h0M1074.8 363.6h0M1076.7 363.3h0M1078.0 363.4h0M1082.8 363.3h0M1083.8 362.3h0M1088.3 363.6h0M1091.4 362.5h0M1093.2 362.1h0M1095.4 363.3h0M1098.5 363.4h0M1100.5 364.1h0M1105.5 362.4h0M1107.9 364.0h0M1109.4 361.7h0M1065.6 365.8h0M1069.7 364.1h0M1072.2 366.1h0M1073.8 365.1h0M1078.4 365.4h0M1079.4 364.7h0M1083.2 364.9h0M1086.5 366.4h0M1089.0 366.0h0M1092.5 366.0h0M1094.1 365.9h0M1097.9 365.0h0M1100.6 365.6h0M1102.9 365.5h0M1104.9 365.5h0M1111.0 365.7h0M1074.4 368.2h0M1075.6 368.4h0M1078.3 368.4h0M1083.1 368.8h0M1084.6 366.4h0M1088.2 368.5h0M1089.4 366.5h0M1092.5 366.5h0M1097.2 368.1h0M1098.1 367.1h0M1101.8 368.9h0M1103.2 368.4h0M1108.2 367.6h0M1067.6 369.7h0M1070.4 369.9h0M1072.1 371.2h0M1075.8 371.0h0M1077.9 370.5h0M1079.8 370.4h0M1082.6 371.2h0M1085.1 369.3h0M1089.5 369.4h0M1091.3 369.4h0M1095.4 371.0h0M1098.0 369.3h0M1101.0 369.2h0M1102.8 369.2h0M1105.1 370.3h0M1068.9 371.8h0M1070.7 372.5h0M1072.6 372.7h0M1076.0 372.9h0M1078.8 372.8h0M1081.3 371.5h0M1084.8 373.1h0M1087.8 373.6h0M1091.1 373.1h0M1093.5 372.7h0M1095.4 372.6h0M1098.9 372.6h0M1102.0 372.2h0M1104.0 372.4h0M1067.5 374.4h0M1070.3 375.6h0M1073.4 375.7h0M1074.9 374.6h0M1077.5 374.0h0M1079.9 374.4h0M1084.6 374.5h0M1086.1 375.8h0M1088.8 374.9h0M1091.8 375.7h0M1095.7 374.4h0M1098.0 375.3h0M1101.2 373.9h0M1065.4 376.2h0M1068.7 378.2h0M1071.5 376.4h0M1074.2 378.2h0M1075.9 376.3h0M1079.4 377.1h0M1082.2 378.1h0M1084.0 377.2h0M1086.9 377.7h0M1089.2 377.7h0M1093.9 377.6h0M1095.7 377.0h0M1098.6 376.2h0M1064.9 380.7h0M1067.8 379.2h0M1068.7 380.2h0M1072.6 379.3h0M1074.6 379.8h0M1078.3 380.1h0M1080.3 380.3h0M1083.4 380.0h0M1085.7 380.7h0M1088.0 380.9h0M1091.8 379.5h0M1094.0 380.7h0M1096.9 380.8h0M1099.2 379.5h0M1063.3 381.3h0M1065.4 382.4h0M1069.2 383.0h0M1070.9 383.2h0M1074.5 381.6h0M1075.5 381.1h0M1078.7 383.2h0M1081.9 381.9h0M1086.0 383.2h0M1086.7 383.4h0M1090.7 381.8h0M1092.7 383.5h0M1096.0 381.1h0M1102.1 381.9h0M1062.1 385.3h0M1063.6 383.6h0M1065.8 385.9h0M1068.3 384.8h0M1072.3 383.6h0M1073.8 385.5h0M1078.9 384.5h0M1079.4 385.1h0M1083.1 384.1h0M1085.6 384.0h0M1089.6 384.1h0M1091.0 383.6h0M1096.5 383.7h0M1057.1 388.0h0M1059.6 387.8h0M1061.7 387.3h0M1064.8 387.6h0M1067.1 387.0h0M1071.3 387.4h0M1074.0 387.0h0M1075.3 387.2h0M1079.6 388.0h0M1082.6 386.8h0M1083.6 388.0h0M1086.9 386.9h0M1090.7 387.4h0M1093.3 386.4h0M1053.8 389.5h0M1055.5 390.1h0M1058.7 389.9h0M1060.1 390.7h0M1062.9 388.8h0M1067.2 388.6h0M1070.0 388.7h0M1072.7 389.4h0M1074.2 390.4h0M1078.7 388.8h0M1081.6 388.5h0M1083.5 388.6h0M1085.5 388.8h0M1089.8 390.2h0M1057.7 392.0h0M1059.9 393.2h0M1061.5 393.0h0M1065.6 391.2h0M1068.2 391.1h0M1071.5 391.4h0M1074.8 390.7h0M1076.5 391.8h0M1078.0 392.8h0M1080.8 391.1h0M1085.2 392.9h0M1088.4 392.8h0M1089.4 391.5h0M1058.5 394.6h0M1060.7 395.5h0M1063.6 395.0h0M1066.0 394.7h0M1070.4 394.4h0M1072.8 393.9h0M1075.6 394.7h0M1078.8 393.6h0M1081.0 393.4h0M1084.6 395.2h0M1085.4 393.8h0M1087.9 395.0h0M1054.6 397.3h0M1057.2 397.3h0M1059.4 397.9h0M1061.4 396.8h0M1064.2 396.0h0M1068.7 395.7h0M1070.6 397.7h0M1073.7 398.0h0M1077.4 395.8h0M1079.8 397.0h0M1081.4 396.0h0M1084.5 397.2h0M1087.6 397.1h0M1089.2 398.0h0M1056.6 400.3h0M1058.6 399.4h0M1061.3 398.3h0M1063.1 399.8h0M1065.7 398.0h0M1070.0 400.2h0M1071.5 398.9h0M1074.9 399.5h0M1076.7 398.3h0M1081.8 398.3h0M1083.9 400.1h0M1085.3 398.8h0M1057.2 401.4h0M1058.9 401.4h0M1062.8 400.6h0M1064.4 402.0h0M1066.9 401.8h0M1071.4 401.4h0M1072.5 401.6h0M1077.1 401.8h0M1078.2 401.2h0M1082.9 401.4h0M1083.8 401.9h0M1055.8 404.8h0M1058.1 405.1h0M1060.7 403.8h0M1064.4 404.9h0M1067.4 404.2h0M1070.4 403.4h0M1071.6 403.7h0M1074.6 403.2h0M1056.8 407.3h0M1060.2 405.9h0M1063.5 405.5h0M1064.9 406.3h0M1068.2 407.5h0M1070.6 405.7h0M1072.7 406.1h0M1077.0 407.0h0M1058.4 408.4h0M1062.1 408.9h0M1064.3 409.3h0M1066.6 409.0h0M1068.8 408.5h0M1072.8 408.0h0M1063.1 410.1h0M1066.0 411.6h0M1068.9 410.1h0M1056.2 412.6h0M1059.8 412.6h0M1063.0 413.8h0M1049.8 259.3h0M1030.7 263.0h0M1041.0 263.2h0M1046.2 262.8h0M1047.4 261.3h0M1023.3 263.6h0M1027.4 265.7h0M1031.8 266.1h0M1042.5 266.3h0M1026.9 268.4h0M1030.3 267.5h0M1035.3 267.1h0M1038.6 268.8h0M1018.3 271.4h0M1021.7 270.1h0M1027.5 270.0h0M1030.2 271.4h0M1034.3 271.1h0M1040.4 272.8h0M1042.1 273.3h0M1045.9 272.2h0M1051.9 272.0h0M1022.5 275.3h0M1025.5 275.8h0M1028.6 274.7h0M1032.7 274.5h0M1036.7 275.0h0M1042.9 275.5h0M1044.5 274.0h0M1051.3 274.2h0M1055.4 275.1h0M1011.4 279.2h0M1017.1 277.7h0M1019.4 278.0h0M1025.4 277.2h0M1029.7 277.8h0M1032.3 277.8h0M1034.9 279.0h0M1040.5 277.7h0M1042.1 278.5h0M1045.5 277.2h0M1051.1 277.6h0M1010.8 282.9h0M1015.0 283.1h0M1017.6 280.2h0M1023.7 282.1h0M1027.5 280.2h0M1030.1 283.0h0M1035.2 280.7h0M1039.1 281.6h0M1040.2 281.7h0M1047.9 280.4h0M1053.2 280.9h0M1055.9 280.1h0M1059.4 282.7h0M1018.1 285.1h0M1020.3 283.8h0M1025.9 284.5h0M1029.7 286.2h0M1032.7 284.5h0M1038.5 284.5h0M1043.1 284.3h0M1046.2 284.9h0M1049.2 285.9h0M1053.3 283.9h0M1057.8 285.7h0M1011.7 287.2h0M1019.0 287.2h0M1021.7 286.7h0M1026.3 288.8h0M1029.8 288.6h0M1032.8 288.6h0M1036.3 286.8h0M1040.7 287.5h0M1043.6 288.4h0M1047.8 287.7h0M1052.5 287.1h0M1055.7 287.4h0M1061.7 288.9h0M1064.2 287.6h0M1013.0 291.8h0M1017.8 292.7h0M1023.7 289.7h0M1026.7 291.9h0M1031.6 290.1h0M1037.2 289.8h0M1039.3 290.2h0M1041.8 292.3h0M1047.0 289.7h0M1050.9 292.8h0M1053.4 290.3h0M1014.2 295.6h0M1020.1 295.6h0M1022.5 295.9h0M1029.8 294.6h0M1036.1 295.4h0M1041.8 295.6h0M1043.9 293.2h0M1050.2 294.5h0M1051.6 293.8h0M1059.7 295.4h0M1070.4 295.0h0M1011.7 296.5h0M1015.7 296.4h0M1020.2 296.6h0M1024.7 298.5h0M1027.3 298.1h0M1033.2 296.9h0M1034.2 297.9h0M1038.0 299.4h0M1043.5 298.3h0M1048.8 298.0h0M1053.4 298.7h0M1058.8 297.0h0M1063.0 298.8h0M1015.8 302.0h0M1019.4 301.4h0M1021.6 300.9h0M1025.2 300.5h0M1030.4 302.2h0M1033.2 300.4h0M1037.1 301.5h0M1046.3 301.1h0M1050.1 301.2h0M1052.7 300.5h0M1056.9 302.7h0M1061.6 299.6h0M1066.3 302.3h0M1010.1 304.2h0M1013.8 303.3h0M1017.4 304.5h0M1023.7 304.5h0M1027.4 305.4h0M1031.2 304.7h0M1038.8 305.4h0M1043.5 305.5h0M1047.4 305.9h0M1049.7 305.1h0M1055.0 303.1h0M1056.9 304.3h0M1061.1 305.6h0M1064.8 304.1h0M1019.0 308.4h0M1031.6 306.3h0M1032.8 308.8h0M1039.1 307.3h0M1041.9 307.1h0M1046.3 308.0h0M1050.4 307.0h0M1051.4 307.2h0M1061.0 306.6h0M1064.8 308.0h0M1068.0 309.4h0M1018.3 312.5h0M1020.8 311.0h0M1026.0 312.0h0M1027.9 312.7h0M1032.4 309.6h0M1036.9 312.2h0M1039.5 312.3h0M1042.0 312.6h0M1051.3 311.2h0M1054.6 312.3h0M1066.2 310.7h0M1016.3 315.2h0M1019.4 315.0h0M1025.6 314.9h0M1028.7 314.2h0M1033.2 313.5h0M1037.4 313.9h0M1040.6 313.6h0M1044.0 312.8h0M1047.9 312.7h0M1054.2 315.7h0M1059.7 313.0h0M1064.8 314.3h0M1018.3 318.3h0M1019.6 316.1h0M1023.8 317.3h0M1028.7 318.0h0M1031.6 318.0h0M1035.2 316.7h0M1044.2 317.8h0M1047.8 317.6h0M1051.3 317.6h0M1053.0 316.3h0M1059.9 317.4h0M1067.7 318.9h0M1070.6 318.3h0M1018.4 321.0h0M1031.3 319.2h0M1039.0 319.3h0M1041.7 320.2h0M1046.7 320.8h0M1048.6 322.1h0M1054.4 322.3h0M1056.7 320.4h0M1060.9 320.8h0M1069.0 319.4h0M1021.1 324.1h0M1024.5 324.9h0M1029.2 325.6h0M1037.3 324.1h0M1039.5 323.0h0M1045.6 324.6h0M1049.6 323.3h0M1053.5 322.9h0M1059.3 325.5h0M1061.8 324.4h0M1067.2 325.6h0M1027.1 327.6h0M1029.1 328.8h0M1032.5 328.9h0M1037.6 325.9h0M1039.8 328.6h0M1050.6 326.5h0M1053.4 326.9h0M1055.6 328.7h0M1058.8 326.5h0M1065.0 328.2h0M1022.8 330.8h0M1027.2 332.1h0M1032.8 330.3h0M1035.0 329.9h0M1040.9 329.1h0M1044.5 331.1h0M1047.6 332.1h0M1050.9 330.1h0M1053.6 332.2h0M1058.4 330.7h0M1069.4 330.0h0M1021.6 335.7h0M1025.8 333.9h0M1028.7 333.5h0M1035.1 332.8h0M1038.8 332.9h0M1042.7 333.7h0M1043.5 334.3h0M1049.2 335.3h0M1053.7 335.3h0M1059.8 332.8h0M1062.9 333.8h0M1021.0 337.5h0M1024.6 337.3h0M1026.9 338.0h0M1032.5 335.9h0M1034.3 336.4h0M1043.7 337.4h0M1053.3 336.7h0M1057.9 337.7h0M1061.4 336.0h0M1065.9 338.3h0M1069.8 336.6h0M1023.1 340.6h0M1031.7 341.8h0M1034.8 342.3h0M1036.5 339.1h0M1041.4 339.7h0M1045.6 340.1h0M1048.0 340.1h0M1052.9 342.2h0M1058.2 342.4h0M1060.7 339.3h0M1065.1 340.0h0M1075.0 342.1h0M1023.5 343.2h0M1028.4 344.0h0M1030.4 345.4h0M1036.7 343.9h0M1041.8 343.5h0M1046.1 345.5h0M1050.0 345.6h0M1059.7 342.9h0M1062.2 342.9h0M1065.9 344.4h0M1070.8 345.3h0M1030.6 346.6h0M1035.4 346.4h0M1039.0 348.4h0M1041.4 348.8h0M1045.8 347.9h0M1049.8 348.3h0M1053.9 347.6h0M1056.3 347.5h0M1059.1 348.5h0M1063.0 346.1h0M1069.3 346.9h0M1035.2 350.5h0M1043.0 349.6h0M1046.8 349.7h0M1053.9 351.1h0M1062.1 350.4h0M1069.8 349.1h0M1028.8 354.8h0M1034.7 354.3h0M1036.4 355.4h0M1042.2 352.7h0M1044.1 355.4h0M1051.5 353.7h0M1056.5 355.5h0M1060.0 352.1h0M1064.2 354.4h0M1067.0 352.2h0M1072.3 352.6h0M1036.4 355.8h0M1040.3 358.0h0M1044.3 356.5h0M1045.4 358.3h0M1052.3 358.8h0M1056.4 357.3h0M1057.4 356.4h0M1062.0 356.4h0M1064.6 357.8h0M1071.6 358.0h0M1036.3 359.5h0M1042.2 359.4h0M1046.5 361.1h0M1047.3 361.0h0M1052.2 360.2h0M1055.1 361.9h0M1059.2 361.1h0M1064.1 359.6h0M1066.7 359.3h0M1035.8 365.4h0M1046.9 362.1h0M1051.6 362.7h0M1055.7 362.3h0M1062.5 362.6h0M1065.4 362.7h0M1036.2 366.9h0M1040.9 365.7h0M1046.7 365.3h0M1050.2 367.8h0M1052.6 366.3h0M1057.1 365.7h0M1059.6 366.5h0M1067.3 367.2h0M1038.6 369.9h0M1043.2 369.5h0M1047.7 371.7h0M1052.0 370.3h0M1054.4 369.7h0M1060.2 368.8h0M1061.6 369.6h0M1040.6 373.9h0M1046.0 372.8h0M1051.4 374.0h0M1057.7 374.3h0M1059.2 373.6h0M1049.9 375.8h0M1054.9 375.9h0M1058.3 376.0h0M1063.5 377.6h0M1050.6 380.4h0M1051.1 381.8h0M1056.9 379.6h0M1058.9 378.8h0M1049.3 382.6h0M1054.8 384.5h0M1059.4 382.8h0M1056.8 387.7h0M1053.9 390.0h0M996.6 283.7h0M1000.7 284.5h0M1007.4 286.3h0M981.7 290.9h0M992.4 290.7h0M999.0 290.5h0M1003.6 290.5h0M1009.5 288.8h0M983.7 295.7h0M989.8 291.9h0M998.1 293.5h0M1001.3 295.1h0M1008.8 294.8h0M979.8 297.9h0M984.8 300.6h0M989.9 298.0h0M994.4 297.1h0M1000.1 297.1h0M1005.7 298.6h0M1011.5 299.5h0M981.4 304.7h0M985.8 304.0h0M1000.2 302.8h0M1004.8 302.8h0M1011.6 303.2h0M979.1 307.1h0M982.2 306.8h0M994.1 308.0h0M996.7 306.6h0M1006.2 309.6h0M1009.4 309.1h0M970.0 309.6h0M984.9 313.2h0M992.1 314.0h0M995.6 313.9h0M1002.2 313.4h0M1005.2 311.4h0M1011.4 312.4h0M980.0 317.3h0M989.3 318.1h0M992.3 317.4h0M999.7 316.6h0M1004.1 316.1h0M1010.4 315.3h0M993.0 321.7h0M995.0 319.3h0M1000.9 320.0h0M1013.8 322.6h0M991.5 324.7h0M1000.4 325.4h0M1002.4 324.7h0M1007.7 324.3h0M1015.5 324.2h0M1019.0 324.0h0M988.7 330.4h0M1002.4 328.5h0M1007.4 328.5h0M1018.5 328.2h0M1004.6 333.1h0M1008.8 334.8h0M1012.1 333.8h0M1012.4 337.7h0M1017.6 338.8h0M1010.8 343.4h0M1015.1 344.8h0M1017.6 344.2h0M1023.7 345.1h0M1022.2 346.1h0M1014.8 350.1h0M1026.7 353.5h0M1028.6 352.5h0M1020.9 356.0h0M1026.5 357.8h0M1031.1 357.4h0M1024.6 391.5h0M1016.1 403.4h0M1036.5 366.0h0M1099.4 384.7h0M1040.0 397.0h0M1050.0 424.0h0M1062.0 428.0h0M1076.0 410.0h0M1127.0 345.0h0M1126.0 320.0h0" stroke="#3b55e3" stroke-width="4.8"/>
<path d="M1037.5 288.0h0M1040.4 283.8h0M1050.9 283.6h0M1052.8 286.4h0M1058.6 290.9h0M1058.7 296.1h0M1059.7 298.2h0M1064.0 303.2h0M1064.9 310.4h0M1064.4 316.1h0M1062.6 318.7h0M1066.4 328.2h0M1060.4 330.1h0M1038.2 301.4h0M1043.3 312.3h0M1051.7 316.0h0M1057.6 323.7h0M1030.8 320.8h0M1035.2 326.8h0M1039.8 332.5h0M1040.3 338.6h0M1044.3 343.6h0M1053.1 346.1h0M1054.3 353.9h0M1055.3 357.3h0M1061.0 358.1h0M1074.0 262.0h0M1075.0 258.0h0M1068.0 330.0h0M1069.0 322.0h0" stroke="#ffffff" stroke-width="4.8"/>
<path d="M1020.8 304.7h0M1033.5 303.9h0M1037.6 307.6h0M1046.9 306.5h0M1044.0 315.2h0M1048.5 314.8h0M1053.0 331.8h0M1067.2 335.8h0M1036.0 270.0h0M1043.0 262.0h0M1052.0 296.0h0M1040.0 300.0h0" stroke="#b878d0" stroke-width="4.8"/>
<path d="M1045.0 284.0h0M1073.0 345.0h0M1076.0 382.0h0M1045.0 253.0h0" stroke="#edd247" stroke-width="4.8"/>
<path d="M1060.5 304.0h0M1052.0 392.0h0M1064.0 396.0h0" stroke="#dba64f" stroke-width="4.8"/>
<path d="M1041.6 407.9h0M1030.7 409.6h0M1033.3 410.8h0M1038.5 409.6h0M1042.3 409.4h0M1045.8 411.3h0M1029.3 413.6h0M1033.3 412.8h0M1036.1 413.2h0M1040.3 413.7h0M1043.8 413.7h0M1046.5 412.6h0M1019.8 416.1h0M1022.9 418.7h0M1028.0 418.6h0M1030.0 417.7h0M1044.5 417.6h0M1012.2 420.6h0M1012.7 421.9h0M1016.4 419.1h0M1021.3 418.9h0M1027.5 420.3h0M1031.7 421.4h0M1036.7 421.3h0M1039.1 418.9h0M1043.4 420.3h0M1046.8 419.9h0M1006.2 424.2h0M1007.4 422.7h0M1012.3 423.7h0M1015.6 423.7h0M1021.1 423.8h0M1024.6 423.5h0M1028.5 423.4h0M1030.7 424.2h0M1033.5 423.7h0M1045.1 425.1h0M1004.0 427.0h0M1007.9 428.2h0M1010.2 426.5h0M1012.9 426.0h0M1016.5 426.4h0M1028.1 425.6h0M1033.8 427.5h0M1035.1 425.2h0M1041.5 427.2h0M992.6 430.1h0M996.9 430.7h0M1001.5 429.2h0M1004.3 429.7h0M1012.2 430.9h0M1016.0 431.6h0M1020.8 430.6h0M1022.3 431.3h0M1025.9 429.1h0M1034.2 430.1h0M1037.2 429.7h0M993.1 434.7h0M995.4 434.6h0M997.9 433.4h0M1002.5 433.9h0M1007.6 433.6h0M1012.2 434.8h0M1015.7 434.3h0M1018.9 434.1h0M1026.8 433.8h0M1028.9 433.2h0M1031.6 432.5h0M1034.9 433.7h0M1040.3 432.9h0M986.6 435.9h0M990.0 437.8h0M1000.8 437.5h0M1003.7 436.4h0M1007.8 437.6h0M1013.6 436.7h0M1016.5 437.0h0M1020.5 437.8h0M1023.7 437.9h0M1028.2 437.5h0M1029.5 437.7h0M1035.7 435.1h0M1037.1 435.3h0M985.7 438.4h0M988.9 439.4h0M993.6 439.1h0M998.5 438.0h0M1003.3 440.6h0M1011.4 438.6h0M1014.6 439.7h0M1017.6 440.8h0M1023.3 438.5h0M1025.0 441.2h0M1029.8 441.0h0M1033.1 439.9h0M1036.2 440.8h0M965.7 442.8h0M967.4 444.1h0M976.6 442.2h0M977.8 441.5h0M984.3 441.7h0M985.5 442.4h0M989.8 444.1h0M992.6 443.1h0M1002.3 442.8h0M1006.3 443.2h0M1007.1 443.7h0M1011.9 443.2h0M1015.7 443.0h0M1020.9 444.2h0M1023.4 441.9h0M1028.6 444.0h0M1030.1 441.3h0M946.9 446.3h0M951.3 446.4h0M959.6 447.7h0M961.8 446.9h0M970.7 445.9h0M972.7 446.3h0M977.5 444.5h0M979.3 445.3h0M984.6 446.4h0M987.0 447.4h0M994.7 445.6h0M1001.1 445.2h0M1002.5 446.2h0M1006.3 447.5h0M1014.1 447.4h0M1017.2 444.7h0M1020.8 447.1h0M1023.8 446.2h0M1029.3 446.9h0M1033.6 445.5h0M1036.6 446.3h0M937.3 450.8h0M941.5 448.9h0M947.2 450.2h0M959.6 449.9h0M962.7 448.4h0M966.7 449.3h0M972.3 448.2h0M974.4 449.5h0M979.3 449.0h0M983.0 450.7h0M988.6 450.5h0M994.7 448.6h0M1001.6 449.3h0M1004.1 448.4h0M1010.2 449.4h0M1015.4 448.0h0M1021.4 449.6h0M1025.0 450.2h0M1030.0 448.3h0M933.3 451.6h0M944.7 451.5h0M947.9 451.2h0M952.7 452.8h0M955.7 452.1h0M957.2 453.8h0M961.0 451.1h0M966.3 451.4h0M968.4 453.1h0M975.2 451.2h0M977.0 452.4h0M981.4 451.1h0M984.3 453.4h0M989.5 451.7h0M991.0 452.9h0M994.3 454.1h0M999.0 453.0h0M1001.9 452.6h0M1005.9 454.1h0M1009.5 453.0h0M1012.9 451.8h0M1018.1 453.9h0M1022.7 451.3h0M1026.5 451.6h0M1029.8 454.0h0M930.7 456.3h0M935.7 456.3h0M937.3 455.4h0M948.8 456.2h0M953.4 456.0h0M956.9 455.3h0M962.1 455.7h0M963.4 454.8h0M969.5 457.2h0M980.0 454.6h0M983.0 457.3h0M987.2 455.1h0M989.1 454.3h0M992.6 456.4h0M997.6 454.2h0M1004.4 455.2h0M1008.8 456.2h0M1013.9 456.4h0M1015.6 457.2h0M1019.4 456.8h0M1022.1 455.2h0M1026.1 457.3h0M929.2 459.7h0M931.3 460.1h0M938.0 459.1h0M940.2 459.4h0M948.2 459.8h0M951.6 458.9h0M954.3 459.7h0M957.3 459.4h0M962.6 459.4h0M966.2 459.7h0M968.3 457.4h0M972.2 459.3h0M977.4 458.7h0M981.5 459.5h0M984.9 459.5h0M989.8 457.8h0M992.4 460.3h0M996.6 459.5h0M1000.8 459.5h0M1001.7 459.7h0M1005.4 458.3h0M1012.2 460.0h0M1013.3 459.4h0M1019.5 458.1h0M1022.2 458.6h0M932.6 462.1h0M935.2 461.6h0M937.8 460.8h0M942.6 462.3h0M945.8 462.7h0M950.3 463.2h0M952.9 462.1h0M958.1 460.9h0M959.5 460.4h0M963.6 460.8h0M975.5 460.6h0M979.0 462.0h0M984.4 461.0h0M985.0 461.0h0M993.1 461.3h0M996.6 460.6h0M1005.8 461.5h0M1009.2 460.9h0M1014.0 463.3h0M1014.5 460.5h0M1018.6 463.0h0M929.2 464.9h0M933.8 463.8h0M936.1 465.0h0M939.2 464.5h0M944.3 464.2h0M947.1 464.7h0M951.0 466.4h0M953.6 466.5h0M958.7 465.4h0M963.1 463.8h0M967.3 466.1h0M968.6 465.4h0M975.1 465.3h0M976.9 464.3h0M985.6 464.3h0M990.1 463.6h0M991.2 464.1h0M994.3 464.0h0M999.0 465.3h0M1004.0 464.7h0M1011.5 466.0h0M1013.7 466.9h0M1020.2 463.9h0M938.0 469.8h0M943.7 467.1h0M944.9 467.2h0M950.1 467.9h0M954.0 468.0h0M957.6 467.4h0M963.6 467.8h0M969.4 468.7h0M973.0 467.1h0M980.3 467.4h0M981.7 469.4h0M986.5 470.1h0M990.6 467.9h0M995.3 467.1h0M998.5 470.1h0M1005.3 469.4h0M1007.8 469.8h0M1012.7 467.4h0M938.1 472.8h0M945.0 473.0h0M948.7 470.9h0M953.0 471.7h0M955.5 471.7h0M959.1 471.0h0M962.0 472.2h0M965.2 471.9h0M973.2 472.6h0M976.7 471.2h0M985.4 470.7h0M988.5 471.9h0M992.2 470.7h0M995.8 472.3h0M999.6 472.2h0M1003.9 472.5h0M1008.3 473.3h0M1010.5 472.8h0M1012.8 472.8h0M939.3 473.7h0M945.2 475.4h0M949.1 473.2h0M951.8 473.6h0M957.0 476.5h0M964.7 474.4h0M972.2 476.0h0M980.7 476.4h0M988.2 475.0h0M990.4 474.1h0M994.7 475.1h0M998.5 473.3h0M1003.0 475.8h0M1005.3 475.6h0M1009.4 475.4h0M1014.1 474.3h0M943.9 476.8h0M946.8 476.5h0M950.0 478.9h0M960.0 478.4h0M960.9 478.1h0M964.9 477.4h0M970.9 476.9h0M975.2 477.9h0M975.7 479.0h0M981.7 477.7h0M983.3 478.1h0M990.0 478.5h0M993.7 478.1h0M997.2 479.5h0M999.6 478.5h0M1004.5 477.3h0M1007.6 478.2h0M1009.4 478.5h0M960.0 479.7h0M964.2 481.8h0M967.2 482.3h0M971.5 479.9h0M975.0 482.4h0M977.7 480.7h0M982.1 481.7h0M986.1 481.8h0M990.4 482.5h0M995.1 482.5h0M998.5 480.8h0M1003.9 480.8h0M977.1 485.2h0M981.0 486.1h0M984.3 484.4h0M988.9 486.1h0M991.2 483.9h0M996.4 482.9h0M999.1 485.7h0M1002.0 483.3h0M968.2 486.1h0M976.1 488.5h0M979.4 486.6h0M984.4 488.1h0M985.2 487.8h0M989.8 488.4h0M994.5 487.6h0M996.9 488.2h0M1000.5 487.8h0M985.3 490.5h0M988.2 490.1h0M992.2 491.3h0M994.2 491.2h0M1003.5 490.8h0M974.7 493.7h0M979.0 495.7h0M984.1 495.0h0M989.6 494.6h0M995.3 493.7h0M996.6 493.4h0M1002.7 493.5h0M978.0 495.9h0M983.5 496.7h0M1000.8 495.8h0M975.1 498.9h0M980.6 499.8h0M984.4 500.9h0M986.7 500.5h0M988.8 499.1h0M992.6 502.0h0M999.1 498.9h0M1000.1 500.5h0M977.5 502.4h0M981.1 503.9h0M985.5 503.9h0M987.8 503.8h0M991.8 503.3h0M994.7 505.1h0M980.4 506.6h0M981.8 507.4h0M985.7 506.4h0M991.7 507.6h0M980.9 508.8h0M984.2 510.5h0M988.9 509.0h0M992.9 510.9h0M981.3 512.2h0M986.5 514.7h0M985.7 517.7h0M988.4 516.0h0M1060.0 422.0h0M1063.0 401.0h0M1055.0 398.0h0M1042.0 541.0h0M1073.0 537.0h0M966.0 564.0h0M963.0 547.0h0" stroke="#dba64f" stroke-width="4.8"/>
<path d="M1096.5 513.9h0M1137.6 518.8h0M1009.4 523.1h0M1017.1 521.5h0M1042.3 523.7h0M1061.4 521.8h0M1063.0 523.4h0M1095.8 521.3h0M1102.4 522.6h0M1107.5 523.1h0M1113.0 523.4h0M1124.0 519.1h0M1131.7 520.7h0M1142.0 523.3h0M991.2 527.6h0M1011.9 525.5h0M1021.4 524.7h0M1024.0 527.6h0M1037.7 525.1h0M1047.1 523.6h0M1053.3 526.4h0M1055.1 526.4h0M1060.9 526.9h0M1071.9 526.9h0M1078.6 523.7h0M1082.2 526.9h0M1089.6 527.1h0M1096.7 528.1h0M1102.6 526.5h0M1109.0 526.0h0M1118.4 526.0h0M1120.3 526.3h0M1136.5 527.2h0M1142.4 525.1h0M971.8 532.4h0M983.9 532.4h0M993.3 533.0h0M1002.5 530.0h0M1004.6 531.7h0M1011.1 532.0h0M1021.1 532.0h0M1025.3 531.6h0M1043.8 532.4h0M1061.5 530.3h0M1063.4 529.6h0M1072.6 532.5h0M1082.6 530.7h0M1098.8 529.4h0M1102.3 533.0h0M1109.8 532.9h0M1122.3 529.9h0M1129.7 531.7h0M1142.4 528.7h0M1147.4 532.6h0M1152.3 532.9h0M986.2 534.1h0M992.7 535.5h0M998.0 533.5h0M1006.9 534.3h0M1012.7 535.6h0M1020.6 537.7h0M1023.6 537.5h0M1029.6 534.9h0M1035.0 533.5h0M1040.1 533.0h0M1045.9 535.6h0M1053.9 536.8h0M1061.9 537.7h0M1067.2 534.3h0M1074.9 536.3h0M1086.4 533.7h0M1090.0 535.6h0M1094.0 537.1h0M1098.0 533.6h0M1113.2 533.9h0M1117.9 536.0h0M1124.2 533.5h0M1126.7 536.3h0M1132.5 536.8h0M1139.7 533.0h0M1144.5 537.0h0M971.7 540.4h0M980.5 539.1h0M988.4 542.1h0M995.2 538.0h0M1000.6 537.9h0M1013.2 541.9h0M1020.9 538.4h0M1026.6 539.8h0M1031.6 542.0h0M1054.8 539.8h0M1059.2 540.1h0M1069.8 540.4h0M1076.5 540.8h0M1080.8 541.4h0M1087.2 540.8h0M1089.9 541.1h0M1096.9 541.6h0M1104.3 540.2h0M1108.2 539.1h0M1118.4 540.7h0M1124.1 539.7h0M1127.9 540.4h0M1133.4 537.8h0M1139.6 540.1h0M1145.6 540.6h0M971.5 542.9h0M979.5 546.4h0M985.5 546.3h0M990.5 543.0h0M995.8 546.8h0M1001.3 544.5h0M1006.5 545.4h0M1012.1 546.5h0M1019.1 546.7h0M1029.4 544.4h0M1035.8 546.1h0M1040.8 546.7h0M1045.7 545.6h0M1049.5 544.1h0M1055.1 546.2h0M1063.1 546.6h0M1069.6 544.2h0M1071.1 545.1h0M1079.0 542.9h0M1086.6 544.0h0M1096.3 543.4h0M1102.3 544.9h0M1106.9 546.9h0M1110.6 546.5h0M1124.3 543.4h0M1133.7 545.7h0M1138.0 543.7h0M1147.2 545.8h0M979.1 549.1h0M983.1 547.1h0M989.0 547.3h0M994.3 549.8h0M1002.8 548.0h0M1006.9 547.8h0M1011.7 550.0h0M1018.4 549.8h0M1024.3 550.5h0M1025.3 549.9h0M1033.2 547.3h0M1036.5 549.5h0M1044.8 547.0h0M1054.5 549.8h0M1057.5 547.2h0M1069.0 547.1h0M1073.7 549.2h0M1080.8 547.5h0M1087.7 548.9h0M1095.5 551.0h0M1123.7 547.0h0M1130.2 551.8h0M1141.8 549.9h0M974.1 555.6h0M980.8 552.7h0M986.2 553.4h0M994.5 555.7h0M1001.3 553.4h0M1006.3 554.9h0M1012.2 554.2h0M1031.9 553.1h0M1043.3 555.5h0M1053.4 554.0h0M1058.1 555.8h0M1067.6 556.5h0M1072.1 553.3h0M1083.1 554.4h0M1092.8 555.5h0M1103.8 552.7h0M1115.5 552.3h0M1131.6 555.4h0M1140.4 554.5h0M1141.8 555.0h0M966.5 558.1h0M974.3 557.5h0M977.5 561.1h0M986.0 560.6h0M990.7 558.1h0M995.3 560.6h0M999.1 560.7h0M1006.0 559.4h0M1009.6 556.6h0M1018.8 560.3h0M1020.0 561.0h0M1039.9 556.9h0M1044.5 557.3h0M1054.7 559.0h0M1061.2 559.9h0M1064.6 560.8h0M1070.1 559.4h0M1077.3 557.4h0M1079.1 559.5h0M1087.0 557.5h0M1101.2 560.0h0M1108.7 560.3h0M1115.0 559.2h0M1122.8 560.6h0M1134.5 559.8h0M964.9 564.0h0M980.8 562.4h0M994.6 564.3h0M999.1 561.7h0M1002.2 563.9h0M1007.2 563.7h0M1016.3 561.7h0M1019.6 563.8h0M1025.0 564.4h0M1031.0 562.8h0M1053.5 563.2h0M1063.7 561.7h0M1070.2 563.2h0M1071.1 562.1h0M1082.2 565.4h0M1090.7 561.2h0M1096.8 562.5h0M1099.2 562.2h0M1106.9 565.6h0M1110.8 563.5h0M969.6 569.6h0M977.0 568.1h0M986.0 569.1h0M993.5 566.7h0M1001.8 568.5h0M1005.9 567.3h0M1016.3 569.5h0M1024.4 566.7h0M1037.8 566.1h0M1045.8 566.3h0M1049.8 569.8h0M1060.3 570.3h0M1067.3 569.4h0M1074.4 568.4h0M1080.8 566.7h0M1089.3 569.0h0M1091.5 568.3h0M1095.4 568.2h0M1103.0 569.9h0M1107.1 567.0h0M1114.1 568.0h0M1118.6 568.1h0M1130.9 568.4h0M960.1 572.8h0M964.1 574.7h0M970.7 573.6h0M974.1 572.1h0M981.0 573.3h0M984.6 573.9h0M1002.4 573.6h0M1010.4 572.7h0M1013.5 574.9h0M1025.6 571.8h0M1028.0 572.6h0M1036.1 573.8h0M1039.8 571.6h0M1046.0 570.9h0M1050.6 571.3h0M1064.1 572.3h0M1067.9 572.3h0M1073.7 575.0h0M1080.4 574.8h0M1082.2 570.6h0M1097.4 570.8h0M1099.8 570.7h0M1105.1 573.7h0M1110.6 572.1h0M1120.9 571.1h0M1129.2 573.7h0M1135.0 574.0h0M971.8 578.0h0M980.9 579.2h0M983.8 577.9h0M989.8 579.3h0M993.5 576.4h0M1002.0 577.2h0M1006.5 577.1h0M1011.6 575.9h0M1015.2 578.3h0M1022.3 579.2h0M1025.2 576.4h0M1035.0 578.4h0M1046.9 575.2h0M1060.2 578.6h0M1064.6 578.3h0M1069.1 578.5h0M1076.9 576.1h0M1098.6 579.8h0M1103.6 575.8h0M1106.6 578.2h0M1115.7 575.3h0M965.1 580.5h0M969.5 582.1h0M975.7 580.8h0M981.6 580.3h0M984.7 580.9h0M999.6 583.1h0M1001.8 583.1h0M1019.3 580.5h0M1026.4 582.4h0M1032.3 581.0h0M1036.8 583.9h0M1041.8 579.9h0M1047.8 583.9h0M1058.5 581.9h0M1073.0 580.3h0M1095.4 583.6h0M1100.2 584.0h0M1105.7 583.3h0M972.5 585.4h0M976.6 588.5h0M984.6 589.0h0M990.0 587.0h0M994.8 584.6h0M1024.4 587.3h0M1029.6 584.8h0M1044.0 587.3h0M1056.2 587.5h0M1060.4 587.6h0M1066.6 585.5h0M1071.3 586.3h0M1078.3 588.2h0M1082.5 586.7h0M1087.5 586.7h0M1094.2 584.6h0M1096.2 587.5h0M982.6 590.9h0M987.0 589.1h0M998.1 590.9h0M1003.7 593.6h0M1010.1 592.5h0M1011.6 591.9h0M1019.0 593.4h0M1023.3 592.3h0M1031.0 592.1h0M1039.3 590.0h0M1046.1 592.0h0M1051.6 590.9h0M1057.1 590.0h0M1066.0 592.0h0M1074.4 591.9h0M1080.9 593.7h0M1085.5 590.5h0M1091.5 590.5h0M1100.4 589.9h0M1115.9 589.2h0M989.8 596.4h0M998.2 596.1h0M1013.3 594.2h0M1015.2 595.1h0M1021.1 595.2h0M1028.5 597.8h0M1037.1 596.1h0M1056.2 598.1h0M1058.9 593.9h0M1075.8 597.4h0M1086.6 594.1h0M989.1 601.1h0M995.8 598.9h0M1028.7 598.5h0M1033.2 600.1h0M1049.9 598.5h0M1127.0 516.7h0M1134.9 516.1h0M1116.8 520.2h0M1119.1 520.8h0M1122.1 519.8h0M1129.6 519.7h0M1133.6 519.8h0M1137.6 518.7h0M1140.2 519.1h0M1129.2 524.5h0M1133.0 521.5h0M1135.5 524.5h0M1137.9 524.4h0M1141.2 524.2h0M1134.2 527.0h0M1138.3 525.1h0M1140.6 526.0h0M1143.4 525.1h0M1149.1 527.4h0M1135.0 529.5h0M1137.8 530.5h0M1141.1 529.5h0M1146.3 530.7h0M1151.4 529.8h0M1154.7 530.4h0M1135.1 533.0h0M1137.7 533.3h0M1141.0 531.1h0M1144.6 532.2h0M1151.6 531.1h0M1146.5 534.1h0M1150.3 536.7h0M1153.1 536.7h0M1137.3 537.9h0M1144.7 539.0h0M1136.8 541.3h0M1140.7 541.0h0M1141.4 541.4h0M1147.5 541.5h0M1148.8 541.9h0M1133.0 546.4h0M1135.9 543.9h0M1141.8 543.9h0M1145.9 546.3h0M1148.6 544.9h0M1129.0 549.7h0M1130.8 547.7h0M1139.1 547.0h0M1145.7 549.3h0M1149.7 549.6h0M966.0 552.6h0M969.2 552.1h0M970.1 550.0h0M976.9 550.8h0M1129.3 551.7h0M1133.8 551.3h0M1138.7 549.8h0M1141.3 551.9h0M959.6 555.2h0M967.4 554.7h0M1122.4 554.4h0M1129.9 555.9h0M1132.5 553.7h0M1136.0 553.3h0M1138.1 553.6h0M1143.4 554.9h0M963.4 557.5h0M969.5 557.7h0M972.4 558.5h0M1123.2 558.7h0M1125.2 558.0h0M1130.8 558.8h0M1134.9 557.5h0M1136.4 557.9h0M1145.2 557.8h0M969.0 562.0h0M976.0 559.8h0M1118.4 561.9h0M1120.7 560.9h0M1126.0 560.2h0M1129.9 559.9h0M1132.9 562.0h0M1134.6 559.7h0M1139.8 561.7h0M965.7 562.3h0M966.9 564.4h0M971.3 564.7h0M1119.3 562.5h0M1126.7 563.3h0M1131.0 565.1h0M1133.5 564.7h0M1136.8 562.6h0M1139.7 565.2h0M966.5 566.0h0M970.7 567.6h0M973.1 568.2h0M1113.6 566.1h0M1117.7 567.9h0M1121.5 566.8h0M1127.4 568.3h0M1132.5 568.1h0M969.4 569.0h0M973.3 570.5h0M976.4 570.6h0M1112.8 569.4h0M1116.5 569.0h0M1119.3 571.1h0M1122.1 570.5h0M1126.7 569.6h0M1131.7 569.1h0M1132.1 568.8h0M959.7 572.2h0M964.3 573.8h0M967.9 574.4h0M969.3 573.2h0M974.1 571.6h0M977.6 571.7h0M1100.4 574.3h0M1107.9 573.0h0M1111.3 572.0h0M1114.8 572.0h0M1118.7 574.3h0M1120.7 573.9h0M1124.9 574.5h0M1128.2 572.9h0M1132.1 571.7h0M958.3 574.6h0M961.0 576.2h0M965.5 576.3h0M969.2 577.1h0M971.8 577.1h0M974.7 577.7h0M978.8 577.1h0M981.9 575.4h0M1102.1 576.6h0M1103.7 576.9h0M1107.7 577.5h0M1113.4 576.5h0M1115.1 576.2h0M1119.0 575.1h0M1123.8 576.1h0M1126.3 576.1h0M958.7 580.6h0M966.5 580.5h0M970.9 580.0h0M972.5 579.1h0M975.5 580.1h0M979.4 579.1h0M1098.6 579.3h0M1110.6 577.9h0M1114.5 577.8h0M1116.0 579.3h0M1119.7 578.1h0M969.7 581.0h0M970.8 582.5h0M975.1 580.9h0M979.0 581.3h0M981.5 581.8h0M989.7 583.8h0M999.7 582.8h0M1070.2 582.6h0M1090.8 581.4h0M1098.5 582.9h0M1101.0 583.1h0M1105.8 582.3h0M1108.4 581.4h0M1110.9 583.9h0M1119.2 582.4h0M970.9 586.4h0M972.4 586.8h0M976.4 584.2h0M980.6 586.2h0M988.0 586.5h0M992.9 584.3h0M995.9 586.1h0M999.6 586.2h0M1004.6 586.8h0M1012.3 586.0h0M1015.2 586.4h0M1082.6 585.5h0M1086.1 586.5h0M1087.2 587.0h0M1091.8 584.1h0M1096.1 586.4h0M1100.5 587.0h0M1103.9 587.0h0M1109.7 585.8h0M1114.8 584.7h0M1119.1 585.7h0M978.2 589.8h0M984.5 589.5h0M989.2 588.5h0M992.5 588.7h0M998.0 587.6h0M999.9 589.2h0M1004.1 588.0h0M1007.6 590.1h0M1011.8 589.2h0M1013.6 587.8h0M1017.5 588.6h0M1068.5 588.6h0M1079.9 589.8h0M1082.9 588.0h0M1085.9 587.5h0M1091.3 588.5h0M1094.5 590.0h0M1097.7 588.8h0M1101.9 588.6h0M1105.6 587.0h0M984.0 592.4h0M988.1 593.0h0M991.3 592.4h0M999.4 592.1h0M1002.0 591.0h0M1005.9 592.7h0M1011.9 590.6h0M1016.3 591.1h0M1019.4 591.9h0M1025.4 593.0h0M1029.0 590.3h0M1042.3 591.7h0M1044.2 592.3h0M1051.7 590.8h0M1057.4 590.5h0M1071.5 591.9h0M1075.3 590.2h0M1078.9 592.1h0M1080.6 591.4h0M1085.5 592.1h0M1089.9 593.0h0M1091.2 592.5h0M1096.3 592.4h0M1098.9 591.7h0M991.0 593.8h0M994.6 593.3h0M997.2 593.5h0M1001.7 595.2h0M1005.6 595.1h0M1007.5 593.5h0M1012.8 595.5h0M1017.4 595.3h0M1027.3 596.4h0M1030.4 596.2h0M1033.5 593.5h0M1036.2 593.4h0M1041.0 596.4h0M1047.0 595.1h0M1050.8 595.6h0M1053.9 593.7h0M1059.0 595.0h0M1063.2 593.8h0M1065.2 594.7h0M1073.2 593.3h0M1079.7 593.7h0M1086.7 594.3h0M994.6 596.5h0M999.5 596.5h0M1002.6 597.6h0M1004.7 599.2h0M1008.4 597.8h0M1015.8 598.3h0M1020.7 597.5h0M1024.7 597.3h0M1026.5 596.5h0M1032.3 599.1h0M1034.4 598.6h0M1039.8 598.1h0M1043.0 598.0h0M1044.9 598.3h0M1048.6 598.3h0M1052.7 597.5h0M1057.4 598.0h0M1061.2 596.5h0M1064.4 599.3h0M1067.1 598.3h0M1069.8 598.3h0M1072.9 598.5h0M1077.3 597.7h0M1085.1 596.7h0M1005.0 600.7h0M1008.4 599.9h0M1018.1 600.0h0M1020.7 600.5h0M1024.2 600.4h0M1030.3 600.8h0M1032.0 600.3h0M1041.4 601.3h0M1044.1 601.3h0M1055.5 601.6h0M1058.9 600.4h0M1060.5 601.3h0M1073.0 601.2h0M1054.2 603.9h0M1075.4 444.4h0M1080.9 465.5h0M1047.9 473.6h0M1060.7 470.9h0M1077.8 476.7h0M1050.6 485.3h0M1060.9 485.7h0M1081.2 486.1h0M1071.4 489.4h0M1087.7 496.1h0M1092.1 496.0h0M1052.8 500.8h0M1060.7 497.6h0M1066.9 496.5h0M1080.4 500.0h0M1026.6 510.7h0M1040.2 508.0h0M1053.3 510.5h0M1072.7 508.5h0M1080.8 507.6h0M1027.5 515.9h0M1042.0 513.9h0M1053.3 520.2h0M1064.7 515.8h0M1084.8 514.6h0M1067.4 431.0h0M1066.4 434.0h0M1065.4 435.7h0M1066.4 437.6h0M1074.6 437.3h0M1067.4 440.8h0M1072.4 441.5h0M1069.9 444.7h0M1067.7 446.9h0M1068.5 447.3h0M1073.3 448.3h0M1074.6 448.5h0M1069.7 452.0h0M1069.5 454.5h0M1071.3 457.0h0M1075.9 454.9h0M1084.6 450.8h0M1071.5 464.2h0M1081.5 458.4h0M1080.4 461.6h0M1077.2 466.4h0M1079.5 466.2h0M1008.6 495.1h0M1009.1 499.9h0M1013.6 501.3h0M1013.1 503.5h0M1014.6 507.0h0M1020.2 505.1h0M1022.4 504.0h0M1027.4 504.8h0M1097.6 498.7h0M1096.9 503.0h0M1100.2 503.6h0M1102.1 506.5h0M1103.7 508.7h0M1108.4 509.1h0M1107.9 513.5h0M1114.9 514.2h0M1111.9 519.5h0M1152.0 575.0h0M1174.0 586.0h0M1193.0 566.0h0M1193.0 576.0h0M1174.0 573.0h0M1176.0 600.0h0M1187.0 604.0h0" stroke="#b5c4e7" stroke-width="4.8"/>
<path d="M1131.3 596.0h0M1132.2 599.0h0M1136.2 601.2h0M1140.5 604.8h0M1144.6 603.1h0M1148.0 604.1h0M1135.8 610.9h0M1141.0 606.0h0M1168.0 601.0h0M1173.9 588.9h0M1175.5 590.8h0M1176.0 589.2h0M1178.3 587.3h0M1181.1 587.3h0M1183.4 589.9h0M1184.1 582.9h0M1185.3 587.2h0M1189.3 583.5h0M1187.2 589.5h0M1191.2 589.2h0M1194.1 586.5h0M1194.2 588.9h0M1186.6 598.5h0M1187.2 603.3h0M1190.3 601.7h0M1190.6 605.1h0M1193.6 603.2h0M1196.5 604.4h0M1198.2 607.6h0M1201.3 605.5h0M1203.7 609.8h0M1206.9 608.1h0M1208.7 607.5h0M1209.4 610.4h0M1211.3 613.3h0M1215.3 613.8h0M1216.3 613.4h0" stroke="#a6d47b" stroke-width="4.8"/>
<path d="M1176.0 580.0h0M1182.0 580.0h0" stroke="#c4474f" stroke-width="4.8"/>
<path d="M1210.0 612.0h0" stroke="#3d7a3a" stroke-width="4.8"/>
<path d="M253.4 496.7h0M239.6 501.7h0M251.3 501.7h0M257.4 504.9h0M241.2 499.7h0M249.7 497.9h0M249.4 497.5h0M234.9 500.1h0M244.5 494.5h0M247.5 508.9h0M254.7 503.1h0M243.5 501.2h0M245.9 499.0h0M245.7 504.4h0M246.7 504.3h0M252.2 501.5h0M249.2 501.3h0M255.0 500.3h0M247.2 495.9h0M241.0 502.9h0M248.7 501.8h0M246.5 500.8h0M254.0 507.7h0M245.4 495.0h0M253.3 503.8h0M249.6 505.3h0M251.7 501.6h0M248.6 500.0h0M253.9 500.4h0M258.0 498.7h0M252.8 501.7h0M242.6 502.0h0M254.7 496.0h0M244.0 501.0h0M254.4 503.6h0M234.1 499.7h0M245.9 498.9h0M245.3 499.3h0M236.7 505.2h0M242.1 502.8h0M243.5 502.8h0M247.4 497.9h0M248.5 504.0h0M249.7 505.1h0M239.8 501.4h0M250.2 501.9h0M250.6 502.0h0M243.6 504.7h0M254.2 501.5h0M253.8 498.0h0M261.2 496.9h0M248.5 498.4h0M249.5 492.1h0M255.9 501.0h0M246.6 503.4h0M242.7 501.1h0M255.0 498.6h0M242.4 505.7h0M245.8 503.0h0M257.5 494.1h0M239.1 499.0h0M245.6 504.2h0M251.0 499.4h0M259.8 506.4h0M259.0 505.0h0M255.2 496.7h0M246.0 497.1h0M251.9 507.5h0M245.9 499.4h0M259.2 509.8h0M242.4 516.6h0M252.5 515.1h0M257.1 515.7h0M259.1 516.3h0M264.5 514.4h0M266.0 515.4h0M274.5 515.8h0M245.7 518.0h0M247.3 519.5h0M252.9 518.8h0M261.9 519.5h0M266.5 517.0h0M269.5 518.7h0M276.2 518.6h0M234.8 520.8h0M239.0 521.8h0M242.7 521.5h0M245.7 522.3h0M250.7 520.2h0M253.9 522.8h0M256.9 522.2h0M261.1 520.9h0M264.1 520.5h0M267.0 522.3h0M270.6 520.1h0M273.1 522.2h0M238.2 524.8h0M242.0 523.6h0M245.7 524.7h0M247.3 524.3h0M252.2 525.6h0M255.7 523.9h0M258.7 522.9h0M261.0 524.9h0M266.8 525.5h0M268.6 524.2h0M272.1 522.9h0M276.3 523.1h0M234.5 527.2h0M239.1 528.6h0M243.0 527.0h0M245.8 526.7h0M250.0 527.5h0M254.0 527.5h0M256.4 526.0h0M259.6 526.9h0M265.1 529.0h0M265.7 526.0h0M271.9 527.6h0M228.4 531.9h0M231.0 530.4h0M235.1 529.2h0M237.0 529.2h0M240.3 529.3h0M243.9 529.0h0M248.5 531.3h0M250.4 529.2h0M256.4 529.7h0M257.8 530.2h0M265.3 531.7h0M269.2 531.3h0M272.8 530.6h0M275.2 529.1h0M226.1 534.4h0M229.9 533.6h0M232.2 532.2h0M237.0 532.6h0M238.9 532.8h0M243.1 533.1h0M247.5 533.5h0M250.6 532.5h0M252.0 535.1h0M256.6 533.7h0M260.8 534.7h0M264.3 532.7h0M267.5 532.9h0M272.7 533.0h0M276.4 532.6h0M226.5 536.5h0M231.2 535.6h0M233.9 535.7h0M237.7 536.3h0M240.4 537.2h0M244.0 536.5h0M248.1 536.8h0M252.6 537.6h0M254.6 536.0h0M257.2 535.3h0M262.9 537.4h0M265.4 535.5h0M268.5 537.6h0M272.4 537.3h0M274.4 536.1h0M232.4 538.9h0M236.4 538.1h0M244.0 540.2h0M247.8 538.8h0M248.3 539.8h0M254.2 539.2h0M258.2 538.5h0M261.3 539.8h0M264.0 541.0h0M266.7 538.8h0M269.2 539.2h0M275.3 540.0h0M276.3 540.9h0M230.8 543.9h0M235.5 542.3h0M236.5 542.6h0M241.4 543.9h0M245.0 541.6h0M249.0 541.3h0M252.5 542.8h0M255.4 542.2h0M259.6 542.8h0M263.4 542.2h0M266.5 541.3h0M268.2 543.6h0M273.7 542.6h0M275.7 541.1h0M231.6 544.3h0M235.6 546.9h0M239.3 545.2h0M243.4 544.3h0M246.0 546.9h0M250.6 545.9h0M252.3 545.7h0M257.8 546.5h0M258.9 544.2h0M267.6 544.8h0M269.6 544.1h0M273.4 546.2h0M233.2 549.5h0M237.3 548.5h0M240.3 547.3h0M244.8 549.9h0M250.3 548.3h0M255.8 549.9h0M257.1 548.1h0M263.1 549.6h0M265.4 548.0h0M267.9 549.0h0M272.2 548.5h0M236.5 551.1h0M239.5 550.9h0M244.0 550.8h0M245.0 551.4h0M248.4 552.8h0M254.8 552.1h0M255.9 552.7h0M261.3 550.7h0M263.0 551.5h0M268.2 551.6h0M271.1 553.0h0M233.7 555.1h0M237.2 555.5h0M241.1 554.8h0M248.6 553.8h0M253.1 555.0h0M262.9 554.3h0M264.7 556.0h0M268.6 554.5h0M239.1 558.8h0M246.9 556.9h0M253.8 558.1h0M256.0 558.9h0M260.7 557.4h0M247.1 560.4h0M251.9 561.6h0M253.9 560.5h0M257.7 559.8h0M213.2 543.9h0M206.8 551.2h0M209.2 549.3h0M212.7 546.2h0M213.3 546.7h0M211.2 549.9h0M215.8 545.7h0M216.1 546.2h0M216.7 546.2h0M213.8 550.2h0M212.7 551.9h0M215.3 549.9h0M216.0 550.3h0M215.4 551.7h0M215.5 552.4h0M218.1 550.4h0M217.0 552.5h0M215.0 555.0h0M213.5 557.8h0M219.6 552.2h0M221.8 550.6h0M218.2 555.1h0M219.2 555.3h0M219.4 555.2h0M220.8 554.6h0M220.0 556.6h0M220.8 556.6h0M222.3 555.2h0M220.2 560.2h0M223.4 555.3h0M223.4 555.8h0M224.7 553.9h0M224.8 555.7h0M223.8 558.8h0M225.2 558.0h0M223.6 562.4h0M224.9 561.4h0M226.8 557.8h0M227.2 559.0h0M226.3 561.6h0M227.9 560.1h0M228.9 559.1h0M229.7 557.9h0M229.0 561.2h0M229.1 562.9h0M228.8 565.1h0M231.6 559.2h0M230.5 562.8h0M231.9 561.7h0M233.9 558.1h0M233.1 562.0h0M232.7 563.5h0M233.5 562.9h0M234.2 562.7h0M235.9 560.3h0M235.2 563.9h0M277.9 541.0h0M279.6 538.3h0M281.9 535.0h0M283.7 531.7h0M285.2 528.5h0M283.6 537.5h0M285.5 533.9h0M285.7 536.2h0M284.4 543.5h0M289.5 532.0h0M289.3 534.8h0M288.7 541.2h0M287.4 548.6h0M291.1 539.3h0M292.5 537.9h0M292.5 540.7h0M294.5 536.5h0M295.5 535.7h0M294.6 542.7h0M296.3 540.1h0M299.1 534.3h0M297.4 541.1h0M298.6 540.9h0M303.2 529.1h0M299.4 545.9h0M301.1 543.6h0M304.4 536.0h0M302.6 544.9h0M304.7 539.5h0M304.1 545.6h0M306.1 542.6h0M307.6 541.0h0M308.7 540.3h0M309.0 541.2h0M309.1 544.6h0M308.8 549.2h0M311.6 543.4h0M309.7 548.4h0M316.7 535.7h0M316.4 540.5h0M312.8 548.5h0M316.8 542.8h0M315.7 546.2h0M317.1 546.7h0M319.2 544.3h0M321.1 542.9h0M321.1 543.9h0M319.8 550.3h0M320.5 549.4h0M325.2 541.9h0M326.9 540.4h0M324.9 547.4h0M323.6 551.2h0M327.9 544.6h0M323.1 558.2h0M328.4 547.2h0M327.3 551.9h0M326.8 556.0h0M331.9 547.3h0M330.4 552.9h0M332.2 550.5h0M331.9 552.4h0M334.7 548.6h0M329.5 562.1h0M334.1 556.1h0M335.8 552.8h0M337.7 552.4h0M339.5 550.5h0M336.8 557.5h0M337.6 557.9h0M340.3 552.4h0M340.6 555.1h0M339.9 563.0h0M340.7 563.2h0M342.9 555.0h0M343.6 554.8h0M344.8 559.7h0M346.0 556.8h0M346.4 557.4h0M347.8 555.6h0M348.5 556.7h0M349.0 560.6h0M349.6 559.3h0M350.7 561.5h0M352.9 551.9h0M352.0 561.0h0M353.4 561.7h0M354.7 559.1h0M356.6 553.6h0M355.5 562.5h0M357.1 557.4h0M358.1 561.0h0M360.3 553.6h0M360.5 553.1h0M361.8 555.1h0M361.3 560.4h0M363.1 556.7h0M362.8 562.7h0M364.0 561.5h0M365.2 559.2h0M366.4 560.8h0M367.1 562.9h0M368.9 556.6h0M368.4 562.7h0M370.3 557.8h0M371.5 557.7h0M372.3 558.5h0M371.6 564.4h0M373.6 561.4h0M375.3 557.3h0M374.5 564.1h0M376.1 561.5h0M376.8 564.8h0M377.5 566.3h0M378.1 566.6h0M379.8 565.4h0M381.4 558.6h0M381.8 560.9h0M382.5 563.5h0M383.6 562.7h0M383.6 566.7h0M385.2 564.8h0M385.3 568.0h0M387.3 564.6h0M388.5 563.1h0M388.9 562.5h0M389.3 567.2h0M390.7 565.5h0M392.9 558.9h0M391.4 569.7h0M393.0 565.0h0M392.7 572.9h0M395.9 559.2h0M395.6 565.9h0M271.8 569.7h0M276.2 570.4h0M280.6 571.4h0M283.7 570.3h0M285.8 575.8h0M288.7 575.2h0M293.0 575.1h0M296.6 577.8h0M295.6 582.5h0M305.7 587.3h0M309.2 588.4h0M309.6 591.2h0M311.3 589.0h0M313.5 589.8h0M316.7 589.0h0M317.6 590.0h0M321.0 591.9h0M319.3 589.3h0M322.5 587.9h0M324.5 588.4h0M323.2 583.8h0M326.8 584.0h0M327.6 582.2h0M331.0 582.4h0M329.0 578.5h0M331.4 575.9h0M334.7 578.2h0M335.1 575.9h0M409.1 565.7h0M414.4 566.7h0M419.0 568.8h0M429.9 574.0h0M431.5 567.5h0M432.6 572.7h0M433.7 571.5h0M434.7 575.5h0M435.2 572.1h0M436.3 572.1h0M437.4 576.1h0M438.3 572.5h0M439.3 572.4h0M441.0 574.8h0M441.7 572.0h0M442.3 574.3h0M444.0 575.7h0M444.4 575.5h0M446.1 571.6h0M447.2 570.0h0M447.6 574.0h0M448.8 574.5h0M449.9 572.5h0M450.6 574.5h0M452.8 572.6h0M453.6 572.8h0M452.7 577.0h0M454.4 578.0h0M455.4 577.8h0M455.5 579.0h0M458.8 573.7h0M459.0 574.0h0M459.3 577.9h0M460.1 579.3h0M461.1 578.8h0M462.0 577.7h0M464.3 573.9h0M465.1 576.1h0M464.9 579.7h0M466.5 577.3h0M467.6 578.5h0M468.7 579.3h0M469.2 580.0h0M471.8 576.8h0M473.5 575.8h0M474.3 576.7h0M473.9 580.9h0M474.4 581.9h0M474.1 583.6h0M475.6 582.5h0M475.1 586.5h0M478.6 581.6h0M477.4 586.5h0M479.0 585.5h0M481.9 582.8h0M481.2 586.4h0M486.4 578.3h0M484.2 585.4h0M485.3 586.7h0M485.7 587.6h0M483.4 590.5h0M485.5 589.5h0M491.1 586.5h0M485.0 592.4h0M489.4 591.4h0M487.5 593.8h0M487.0 595.1h0M486.7 596.7h0M492.6 593.6h0M492.6 595.4h0M491.8 596.7h0M491.7 597.9h0M480.7 581.2h0M481.9 577.8h0M487.7 580.1h0M487.6 576.2h0M488.8 574.6h0M488.1 571.6h0M491.2 572.2h0M490.7 567.8h0M494.5 569.1h0M504.4 577.2h0M506.3 588.4h0M516.5 577.2h0M271.0 510.0h0M281.0 514.0h0M238.0 510.0h0M473.0 594.0h0" stroke="#c4474f" stroke-width="4.8"/>
<path d="M574.6 587.6h0M563.2 590.8h0M572.6 589.9h0M577.2 588.4h0M578.3 590.1h0M583.7 589.4h0M563.8 593.4h0M569.3 593.5h0M570.8 591.0h0M573.8 591.7h0M578.3 592.9h0M557.4 595.0h0M562.8 596.6h0M567.5 596.2h0M570.0 593.9h0M574.2 596.0h0M575.1 594.7h0M579.8 594.4h0M582.8 594.8h0M588.1 594.9h0M557.3 598.9h0M565.6 598.0h0M569.2 597.5h0M570.5 599.2h0M573.3 597.9h0M577.0 598.7h0M579.9 598.8h0M553.4 601.6h0M559.3 601.3h0M563.0 599.7h0M565.4 602.3h0M568.8 602.2h0M572.6 601.9h0M577.1 601.6h0M580.9 600.7h0M581.6 600.7h0M550.6 604.5h0M554.1 604.4h0M562.9 602.9h0M563.6 603.7h0M567.3 603.0h0M571.1 605.1h0M574.5 604.1h0M578.4 604.6h0M582.4 604.4h0M583.8 603.3h0M589.2 602.4h0M597.9 604.3h0M555.3 607.7h0M560.6 605.8h0M563.2 606.3h0M565.5 606.7h0M569.2 605.1h0M573.8 607.3h0M577.7 606.3h0M580.9 606.5h0M581.8 607.7h0M589.5 605.4h0M591.8 607.2h0M598.2 606.9h0M553.5 610.3h0M559.6 608.4h0M563.0 608.6h0M564.4 608.2h0M567.7 609.2h0M572.5 609.8h0M573.4 610.5h0M577.1 610.4h0M582.3 610.9h0M583.9 609.2h0M589.3 608.3h0M592.6 610.7h0M607.9 609.3h0M555.8 612.3h0M559.7 611.5h0M563.8 611.1h0M566.6 611.4h0M568.5 613.6h0M573.3 613.0h0M577.8 612.8h0M578.6 613.0h0M583.0 612.5h0M585.5 613.1h0M589.8 611.2h0M594.0 613.6h0M596.4 611.9h0M598.9 611.1h0M602.7 612.1h0M605.5 611.2h0M553.7 616.5h0M558.3 616.1h0M561.4 615.7h0M565.4 614.1h0M571.1 614.4h0M573.4 613.8h0M579.3 614.2h0M581.5 614.1h0M585.5 614.6h0M587.1 614.5h0M591.1 615.6h0M594.1 615.2h0M598.1 616.3h0M600.0 614.9h0M604.2 614.5h0M611.0 614.2h0M558.0 618.0h0M560.2 619.0h0M563.2 618.6h0M567.0 617.2h0M569.8 616.8h0M572.8 618.9h0M576.8 616.8h0M580.1 616.5h0M582.5 617.9h0M586.4 617.2h0M590.4 618.1h0M592.1 619.3h0M597.0 617.4h0M599.4 617.9h0M602.4 618.4h0M605.3 617.9h0M610.5 619.0h0M613.8 618.2h0M554.3 621.0h0M558.2 620.4h0M561.4 621.5h0M565.2 621.1h0M567.0 621.5h0M571.9 620.9h0M576.2 621.0h0M578.2 620.3h0M582.2 621.7h0M585.8 621.0h0M589.0 620.3h0M591.7 620.6h0M593.1 621.2h0M599.2 619.9h0M601.3 621.8h0M603.8 621.6h0M607.6 621.8h0M610.6 621.7h0M616.6 620.3h0M550.4 622.4h0M558.0 623.5h0M561.3 623.2h0M564.2 622.3h0M566.6 623.7h0M570.4 623.6h0M573.1 622.2h0M575.4 624.4h0M580.4 624.0h0M583.1 625.1h0M585.3 623.2h0M589.0 624.9h0M593.2 623.5h0M596.2 623.4h0M598.7 624.9h0M601.5 624.5h0M605.1 623.9h0M608.9 624.0h0M613.8 622.6h0M615.0 624.8h0M618.9 624.3h0M556.1 627.7h0M562.6 627.6h0M565.2 627.5h0M570.1 626.7h0M575.8 627.7h0M578.0 625.5h0M581.2 626.9h0M584.2 626.7h0M586.8 625.7h0M590.4 627.2h0M593.3 625.3h0M598.9 625.1h0M601.4 626.2h0M603.9 625.2h0M606.3 627.7h0M612.2 626.3h0M613.8 625.7h0M553.1 629.8h0M556.7 628.5h0M562.2 629.4h0M565.0 630.6h0M570.8 629.8h0M574.1 628.0h0M576.4 629.1h0M578.7 628.4h0M581.9 630.8h0M586.2 628.0h0M594.1 629.1h0M595.5 628.8h0M598.9 628.9h0M603.5 630.1h0M605.4 630.7h0M608.0 628.9h0M613.6 630.8h0M616.1 630.0h0M619.7 629.6h0M553.1 633.4h0M557.6 632.2h0M561.7 630.8h0M563.5 633.5h0M566.9 632.2h0M570.3 632.8h0M574.0 632.6h0M577.7 631.9h0M582.6 633.7h0M583.5 632.5h0M587.0 633.7h0M592.0 631.5h0M595.9 633.6h0M598.0 633.4h0M600.8 632.9h0M605.1 633.1h0M606.4 631.0h0M611.6 630.9h0M615.6 631.2h0M618.1 631.2h0M558.0 634.0h0M561.3 635.7h0M562.9 635.8h0M567.8 636.5h0M570.9 636.2h0M574.1 635.2h0M576.1 633.8h0M580.4 634.1h0M583.1 635.2h0M585.6 636.6h0M589.9 634.1h0M594.0 636.0h0M596.5 635.8h0M600.9 635.6h0M602.8 636.3h0M605.2 633.9h0M609.8 636.0h0M611.5 635.0h0M618.7 634.6h0M557.2 637.2h0M563.0 637.4h0M567.6 637.6h0M571.8 639.5h0M573.4 637.8h0M577.4 636.5h0M580.4 638.9h0M585.5 639.0h0M586.7 638.7h0M591.2 638.1h0M594.3 636.7h0M597.8 636.8h0M600.5 636.9h0M604.4 636.7h0M607.9 638.1h0M612.3 637.6h0M621.6 637.4h0M561.1 640.6h0M564.3 640.5h0M565.5 642.0h0M569.3 641.3h0M573.3 641.2h0M577.6 641.5h0M580.9 641.3h0M581.6 642.0h0M586.5 642.2h0M588.9 641.2h0M592.0 640.2h0M597.2 639.4h0M598.4 639.6h0M602.0 642.2h0M606.9 641.0h0M608.8 639.8h0M612.8 640.2h0M556.8 644.1h0M560.3 643.1h0M566.0 644.5h0M569.1 645.0h0M570.3 643.4h0M573.5 643.2h0M577.1 642.3h0M580.1 644.4h0M583.6 643.5h0M588.1 642.8h0M592.3 644.5h0M595.7 642.5h0M597.7 642.8h0M601.4 642.6h0M604.0 644.1h0M608.8 644.1h0M614.0 644.4h0M560.8 645.1h0M562.5 647.3h0M565.6 647.0h0M572.7 646.1h0M576.5 647.2h0M582.2 648.0h0M586.1 647.1h0M590.9 645.4h0M591.8 647.2h0M596.7 647.5h0M600.1 647.1h0M610.6 647.6h0M562.7 650.1h0M564.1 649.1h0M567.7 648.4h0M572.3 650.1h0M574.2 649.3h0M577.8 649.1h0M581.8 649.8h0M585.6 650.3h0M591.8 649.7h0M594.2 648.1h0M596.8 649.0h0M600.2 650.8h0M603.7 650.1h0M613.1 650.3h0M561.2 652.3h0M565.5 650.9h0M569.7 651.9h0M572.5 651.3h0M576.6 653.4h0M586.8 651.6h0M592.3 652.5h0M595.3 651.2h0M598.8 652.7h0M603.3 652.8h0M579.3 654.3h0M590.7 653.7h0M595.1 656.3h0M604.9 655.1h0M583.9 658.3h0M589.5 657.5h0M607.2 616.7h0M609.6 618.3h0M607.5 620.7h0M612.3 621.8h0M615.6 622.6h0M609.9 625.9h0M615.1 626.7h0M616.7 625.0h0M621.7 624.6h0M602.8 627.8h0M609.0 628.3h0M617.1 629.3h0M625.1 629.5h0M630.0 629.7h0M611.4 632.4h0M612.6 633.4h0M617.0 631.8h0M627.9 634.2h0M631.5 634.0h0M633.7 633.6h0M610.2 634.6h0M616.2 635.2h0M625.4 637.8h0M628.0 635.9h0M632.2 637.3h0M637.7 634.7h0M608.3 639.8h0M620.0 638.8h0M623.6 640.1h0M628.4 640.9h0M630.2 639.0h0M636.9 638.9h0M604.0 645.4h0M607.7 642.1h0M613.0 644.7h0M618.1 643.3h0M619.3 641.7h0M626.3 642.9h0M629.8 643.0h0M634.7 643.2h0M636.3 645.1h0M643.1 644.0h0M611.1 646.8h0M612.6 648.8h0M618.0 646.5h0M624.1 647.3h0M626.7 646.3h0M636.9 646.5h0M640.3 648.2h0M645.9 648.7h0M646.5 649.0h0M604.2 649.5h0M608.2 649.3h0M617.2 652.7h0M619.6 649.5h0M629.3 651.7h0M632.4 652.0h0M638.6 650.2h0M641.8 652.6h0M603.8 655.6h0M615.4 656.5h0M619.7 654.5h0M621.9 653.6h0M628.8 653.6h0M629.7 653.9h0M638.4 655.6h0M644.8 656.6h0M647.5 655.6h0M607.7 660.3h0M612.1 659.5h0M614.9 656.6h0M618.6 659.7h0M623.2 660.2h0M630.0 657.7h0M639.5 660.0h0M643.5 659.2h0M644.4 659.8h0M612.8 663.8h0M619.6 663.8h0M622.9 661.6h0M626.9 663.7h0M631.2 662.0h0M634.7 661.3h0M640.9 663.3h0M643.6 662.9h0M648.2 660.9h0M606.9 666.1h0M611.0 666.8h0M616.3 665.6h0M620.7 665.8h0M626.3 665.3h0M628.4 665.4h0M637.3 664.7h0M646.9 666.4h0M650.5 664.6h0M653.3 665.6h0M628.0 668.1h0M636.0 668.0h0M639.0 670.4h0M644.7 670.9h0M649.5 667.8h0M612.0 674.6h0M614.5 672.6h0M618.6 674.4h0M624.2 673.9h0M629.4 674.6h0M633.7 674.8h0M636.2 671.8h0M642.6 675.1h0M645.5 672.5h0M651.2 672.7h0M655.4 674.2h0M661.1 672.4h0M612.8 677.6h0M618.6 677.9h0M623.5 677.8h0M627.6 678.0h0M630.2 676.6h0M634.9 677.4h0M638.0 676.5h0M643.8 676.8h0M646.5 677.0h0M653.4 677.7h0M658.6 676.6h0M660.5 678.3h0M642.4 679.8h0M648.2 681.5h0M651.6 681.7h0M658.3 679.1h0M667.6 681.2h0M615.2 683.2h0M632.0 685.9h0M635.0 684.3h0M649.3 686.0h0M657.3 683.1h0M562.8 648.3h0M565.5 650.0h0M580.0 651.6h0M564.7 653.3h0M575.9 653.6h0M586.6 654.1h0M592.7 653.3h0M563.5 656.2h0M568.0 656.4h0M573.6 657.6h0M582.1 657.6h0M586.3 658.5h0M591.6 659.6h0M595.0 657.8h0M559.3 661.3h0M566.3 662.1h0M569.9 661.0h0M576.3 660.3h0M577.6 663.6h0M584.7 660.3h0M586.4 660.9h0M591.4 659.7h0M603.8 663.5h0M568.2 665.8h0M572.8 664.6h0M576.5 664.3h0M582.2 666.8h0M587.4 666.7h0M588.4 665.2h0M594.2 665.9h0M600.8 664.5h0M603.4 667.5h0M574.8 669.7h0M579.2 669.7h0M589.2 671.2h0M592.0 670.0h0M598.5 669.0h0M600.5 671.1h0M604.5 670.6h0M578.0 675.1h0M583.9 671.5h0M594.2 673.8h0M597.9 675.5h0M604.8 675.3h0M571.1 679.1h0M575.8 675.8h0M580.5 679.3h0M582.9 677.3h0M587.4 678.1h0M597.8 675.9h0M575.3 683.4h0M580.2 681.3h0M586.9 681.2h0M590.8 681.7h0M597.7 681.9h0M579.2 684.1h0M582.6 685.6h0M589.1 683.4h0M592.9 683.6h0M576.8 688.0h0M589.1 691.3h0M574.9 691.5h0M619.9 685.1h0M621.4 684.1h0M622.6 686.2h0M623.6 679.9h0M625.1 681.0h0M626.9 682.9h0M627.8 684.1h0M629.4 684.5h0M630.1 684.1h0M631.2 681.4h0M632.4 681.3h0M633.7 683.0h0M636.1 680.9h0M637.4 685.1h0M637.6 683.6h0M638.9 680.8h0M640.8 684.5h0M642.2 685.9h0M643.2 686.3h0M644.7 685.0h0M646.4 685.7h0M647.1 683.3h0M649.0 682.0h0M649.6 682.2h0M651.7 683.8h0M652.4 681.4h0M654.6 680.5h0M655.8 680.4h0M657.0 686.0h0M658.7 682.9h0M659.8 683.8h0M661.2 681.5h0M662.6 680.7h0M663.8 684.2h0M665.4 684.1h0M666.4 684.4h0M666.9 681.9h0M528.3 567.3h0M534.0 576.6h0M543.3 576.8h0M529.7 583.1h0M524.4 591.4h0M537.3 591.1h0M549.0 589.2h0M556.9 588.4h0M525.6 598.2h0M539.4 593.5h0M553.3 596.0h0M523.4 600.4h0M533.9 598.7h0M539.7 598.7h0M546.7 605.1h0M526.9 612.1h0M525.5 614.6h0M533.2 618.7h0M541.9 617.6h0M547.0 617.7h0M535.7 625.6h0M471.8 625.7h0M472.4 627.1h0M473.2 638.7h0M473.4 631.2h0M474.2 628.4h0M474.5 628.4h0M475.5 631.9h0M475.9 633.4h0M476.5 628.9h0M476.7 634.7h0M477.2 632.5h0M478.2 628.4h0M478.3 630.2h0M479.3 629.7h0M479.5 625.0h0M480.2 631.2h0M481.1 623.7h0M481.1 632.3h0M481.9 630.6h0M482.7 633.1h0M483.0 630.3h0M483.4 629.5h0M483.9 627.2h0M484.5 633.8h0M485.3 630.2h0M485.7 627.8h0M486.5 623.2h0M486.9 627.1h0M487.4 628.1h0M488.1 632.3h0M488.8 623.8h0M489.4 630.9h0M489.9 629.9h0M488.9 633.4h0M489.1 628.1h0M490.1 629.8h0M491.2 626.0h0M492.4 630.2h0M493.3 632.9h0M493.6 630.0h0M494.8 631.7h0M495.8 630.6h0M496.4 629.7h0M497.5 626.3h0M498.3 629.9h0M498.9 623.5h0M500.8 629.0h0M501.8 631.3h0M501.9 626.7h0M503.2 625.8h0M503.9 626.1h0M505.3 628.7h0M506.2 629.6h0M506.5 629.5h0M507.5 621.2h0M508.9 628.1h0M509.3 626.9h0M509.8 622.1h0M510.9 627.7h0M512.2 624.7h0M513.1 623.8h0M513.8 621.3h0M515.4 633.9h0M515.1 624.0h0M516.3 622.5h0M517.7 627.6h0M519.3 636.6h0M519.6 627.0h0M519.9 626.4h0M521.7 628.6h0M521.9 626.9h0M523.2 631.1h0M523.9 622.2h0M524.8 628.6h0M525.8 621.6h0M526.7 622.3h0M527.3 627.1h0M528.9 626.7h0M529.4 624.8h0M530.0 621.3h0M530.8 624.3h0M531.2 620.0h0M533.0 625.8h0M533.5 623.3h0M534.3 623.2h0M535.9 625.9h0M536.9 629.6h0M538.0 629.1h0M537.8 623.0h0M539.7 625.4h0M540.3 626.5h0M542.4 633.5h0M542.0 627.2h0M542.6 623.3h0M543.7 627.3h0M545.1 627.7h0M545.5 622.7h0M546.9 626.4h0M547.2 626.2h0M548.5 622.3h0M549.4 623.8h0M550.8 633.3h0M550.9 625.8h0M551.5 622.3h0M552.6 625.1h0M529.4 580.7h0M531.2 578.1h0M534.4 581.1h0M536.3 576.7h0M538.7 580.5h0M541.4 577.5h0M544.5 575.1h0M574.4 587.7h0M575.1 586.3h0M575.4 583.3h0M571.7 575.5h0M580.1 580.2h0M579.4 577.6h0M584.8 578.0h0M580.1 570.6h0M584.5 570.2h0M586.9 570.3h0M586.4 567.0h0M588.9 563.9h0M590.9 570.7h0M592.7 559.9h0M596.3 565.8h0M596.5 563.4h0M599.3 569.8h0M602.9 564.3h0M592.8 683.9h0M591.5 679.2h0M593.5 680.1h0M591.9 680.4h0M581.1 673.9h0M578.6 683.2h0M590.1 678.4h0M591.0 670.8h0M591.3 673.1h0M590.0 678.6h0M587.6 680.8h0M592.9 672.7h0M585.5 673.9h0M584.9 687.6h0M585.3 685.1h0M585.0 677.9h0M580.6 681.6h0M585.5 683.1h0M587.6 682.1h0M577.0 686.5h0M584.6 677.5h0M585.9 679.7h0M594.5 677.4h0M579.9 687.9h0M590.8 679.2h0M584.8 684.4h0M576.5 680.6h0M590.4 683.3h0M589.1 676.8h0M585.7 676.6h0M578.6 675.6h0M586.6 677.9h0M592.2 675.6h0M587.2 674.1h0M591.1 672.9h0M584.8 678.0h0M591.4 676.4h0M589.6 680.1h0M584.8 675.3h0M589.1 678.9h0M588.0 658.6h0M587.3 662.9h0M589.4 663.8h0M588.8 667.1h0M591.5 670.0h0M586.2 673.4h0M582.4 675.6h0M591.6 677.6h0M584.7 678.5h0M582.6 680.9h0M577.3 678.9h0M579.1 684.2h0M580.4 688.4h0M577.8 690.0h0M576.1 693.4h0M572.3 692.5h0M650.0 683.0h0M652.6 684.3h0M653.1 681.8h0M654.7 684.2h0M656.2 681.6h0M658.3 681.2h0M659.8 682.4h0M661.0 681.8h0M663.4 684.9h0M664.7 683.4h0M665.5 684.1h0M666.7 680.5h0M508.0 643.0h0M497.0 637.0h0M622.0 616.0h0M570.0 571.0h0M577.0 563.0h0M466.0 630.0h0" stroke="#7ba64b" stroke-width="4.8"/>
<path d="M555.0 622.0h0M557.0 637.0h0M553.0 643.0h0M577.0 632.0h0M551.0 655.0h0M547.0 661.0h0" stroke="#c4474f" stroke-width="4.8"/>
<path d="M543.0 658.4h0M499.4 667.9h0M550.9 668.2h0M485.6 672.0h0M495.1 673.4h0M540.2 669.0h0M509.1 677.2h0M510.5 678.1h0M527.8 678.5h0M545.0 678.2h0M474.4 682.8h0M485.1 678.7h0M493.4 682.1h0M498.4 683.9h0M501.7 684.1h0M511.7 683.0h0M516.3 683.2h0M475.9 689.3h0M482.7 685.2h0M486.2 685.4h0M500.1 689.6h0M520.5 688.9h0M527.2 688.4h0M532.0 686.1h0M538.1 687.2h0M473.3 693.4h0M478.8 694.0h0M488.8 693.2h0M497.8 690.5h0M504.3 692.3h0M511.3 694.1h0M516.0 691.9h0M524.1 691.0h0M529.9 692.2h0M532.5 691.2h0M541.8 691.7h0M471.1 700.1h0M480.7 698.7h0M498.8 697.7h0M509.1 696.4h0M515.4 698.4h0M466.8 701.5h0M470.8 705.4h0M479.7 705.6h0M483.5 702.8h0M489.9 701.1h0M497.6 701.3h0M505.4 703.0h0M509.4 704.4h0M517.0 700.4h0M526.8 701.3h0M473.6 707.2h0M480.5 710.5h0M487.9 710.9h0M496.1 708.8h0M497.8 709.2h0M492.1 711.1h0M503.2 714.7h0M509.4 713.4h0M513.9 714.0h0M476.5 719.1h0M487.9 721.6h0M497.0 716.8h0M504.0 718.0h0M514.1 721.7h0M473.1 726.7h0M480.6 724.0h0M490.2 722.4h0M510.3 725.7h0M548.7 657.6h0M549.1 665.3h0M542.8 667.2h0M546.8 668.0h0M552.4 666.2h0M544.4 670.1h0M551.7 670.2h0M539.6 673.7h0M542.1 672.9h0M549.0 673.8h0M535.7 674.4h0M539.3 675.9h0M541.9 674.5h0M544.3 676.8h0M548.7 677.0h0M537.0 679.7h0M538.7 677.5h0M544.0 678.3h0M545.4 678.8h0M526.2 681.9h0M528.6 680.6h0M532.2 680.3h0M535.1 680.4h0M539.0 680.6h0M544.9 682.2h0M547.4 682.4h0M523.5 685.2h0M530.7 684.5h0M532.0 685.0h0M537.4 683.0h0M539.3 684.5h0M543.6 685.8h0M549.1 684.4h0M525.0 686.4h0M526.9 688.7h0M530.3 686.0h0M536.2 687.4h0M537.5 688.0h0M540.7 686.2h0M543.9 687.2h0M515.0 691.3h0M520.0 691.5h0M526.1 689.0h0M529.1 691.2h0M534.7 690.0h0M536.9 689.7h0M538.8 691.5h0M542.7 690.0h0M508.0 694.3h0M512.3 693.0h0M514.2 692.4h0M519.0 693.7h0M522.9 693.3h0M524.6 692.3h0M529.5 692.3h0M531.2 693.0h0M536.3 693.9h0M538.1 691.9h0M540.3 692.4h0M479.9 696.8h0M487.0 696.6h0M495.1 696.1h0M501.7 696.9h0M502.7 697.0h0M507.3 695.3h0M510.6 697.1h0M513.3 696.3h0M519.8 695.7h0M524.5 697.2h0M525.8 696.3h0M531.4 695.9h0M534.5 696.1h0M535.7 695.9h0M538.5 696.3h0M472.7 700.0h0M478.0 699.6h0M483.4 698.4h0M490.1 698.0h0M492.4 697.5h0M495.6 699.8h0M499.2 698.5h0M501.4 697.5h0M504.5 697.2h0M509.2 699.9h0M510.7 698.9h0M515.7 697.5h0M518.7 699.3h0M521.4 700.1h0M524.9 698.8h0M527.6 699.0h0M530.7 699.7h0M533.9 698.1h0M538.2 698.3h0M545.6 698.9h0M478.4 701.4h0M480.4 700.2h0M487.2 700.4h0M489.0 701.3h0M493.4 703.0h0M497.9 701.0h0M499.8 700.9h0M503.1 701.3h0M506.2 700.9h0M509.5 702.5h0M514.5 701.7h0M516.0 702.1h0M518.8 703.0h0M524.8 700.8h0M527.1 702.6h0M530.2 700.9h0M539.8 700.5h0M473.3 705.1h0M476.2 705.3h0M479.1 703.2h0M482.3 705.4h0M484.4 705.7h0M488.1 704.6h0M491.2 703.2h0M495.3 705.7h0M497.4 705.9h0M501.5 704.6h0M505.5 703.6h0M508.3 703.5h0M512.1 705.5h0M515.2 704.7h0M519.4 703.8h0M521.8 705.0h0M525.2 704.6h0M527.3 705.4h0M533.1 703.0h0M476.0 707.1h0M481.3 707.2h0M484.0 706.6h0M487.5 708.2h0M490.9 707.9h0M493.1 708.1h0M497.7 706.8h0M498.9 708.2h0M505.0 706.7h0M507.0 707.4h0M509.9 705.8h0M513.3 708.5h0M517.9 706.4h0M520.3 705.9h0M524.3 707.3h0M527.4 706.8h0M470.0 709.2h0M471.6 709.6h0M476.0 711.6h0M478.3 709.5h0M481.7 710.5h0M484.1 711.1h0M487.4 710.3h0M490.8 710.2h0M495.0 709.7h0M499.3 711.6h0M502.7 710.6h0M504.9 708.9h0M508.5 709.3h0M512.6 711.0h0M514.8 710.5h0M519.8 709.9h0M520.4 711.6h0M525.2 709.3h0M469.8 713.3h0M472.7 713.9h0M476.2 712.3h0M480.8 712.6h0M482.8 713.5h0M486.9 714.3h0M490.7 714.2h0M493.7 714.1h0M496.8 714.4h0M498.9 711.7h0M503.7 713.5h0M507.8 713.0h0M511.1 712.8h0M512.4 711.7h0M516.2 713.1h0M518.8 714.5h0M470.0 715.2h0M474.3 716.5h0M478.8 714.9h0M482.2 714.9h0M484.6 717.3h0M490.2 714.4h0M490.8 717.1h0M496.0 717.3h0M499.7 715.2h0M501.1 716.6h0M506.6 717.1h0M509.5 716.0h0M510.9 714.5h0M514.5 714.8h0M474.9 718.3h0M477.4 718.2h0M482.9 718.0h0M486.7 717.7h0M491.0 717.7h0M492.3 719.1h0M497.2 718.3h0M499.7 720.2h0M507.3 718.0h0M511.3 718.8h0M513.4 718.3h0M516.7 719.7h0M476.4 722.3h0M478.6 722.2h0M482.9 722.2h0M485.4 722.1h0M489.5 720.2h0M491.0 722.5h0M495.7 723.0h0M499.2 721.1h0M501.6 720.3h0M505.3 722.8h0M507.8 722.0h0M515.4 720.5h0M478.4 723.7h0M480.6 723.2h0M484.3 724.9h0M488.0 724.5h0M489.4 724.8h0M493.3 723.7h0M495.8 724.0h0M501.6 723.0h0M511.1 724.9h0M476.3 725.8h0M508.5 655.5h0M524.3 658.1h0M555.9 697.6h0M566.4 681.8h0M577.0 681.8h0M553.3 708.2h0M637.6 639.7h0M650.7 638.4h0M560.0 690.0h0M572.0 688.0h0" stroke="#5e3b8e" stroke-width="4.8"/>
<path d="M476.0 676.0h0M470.0 686.0h0" stroke="#c79de3" stroke-width="4.8"/>
<path d="M535.0 717.0h0" stroke="#e2f06e" stroke-width="4.8"/>
<path d="M605.5 482.9h0M605.1 483.8h0M605.9 485.7h0M607.7 487.1h0M604.0 486.3h0M605.4 488.5h0M604.2 488.3h0M602.0 488.9h0M601.6 489.8h0M604.2 491.7h0M600.5 490.9h0M600.5 492.2h0M598.6 492.1h0M597.6 492.2h0M601.8 495.3h0M597.8 495.1h0M596.7 495.5h0M598.0 496.6h0M595.3 497.4h0M595.8 498.6h0M598.8 499.5h0M601.3 501.0h0M598.6 501.8h0M599.3 502.9h0M598.9 503.9h0M598.6 504.7h0M598.0 504.9h0M595.4 505.1h0M595.5 506.9h0M594.8 506.8h0M595.7 508.7h0M597.6 509.5h0M596.5 510.6h0M595.1 511.2h0M593.3 511.2h0M598.5 513.3h0M590.4 512.9h0M593.7 514.6h0M593.7 515.8h0M595.7 516.4h0M593.5 517.5h0M594.5 518.0h0M594.2 518.7h0M593.2 520.3h0M590.8 521.3h0M596.1 521.5h0M593.5 522.4h0M595.0 523.6h0M591.5 524.4h0M597.1 524.9h0M596.3 526.4h0M597.4 527.5h0M596.4 528.5h0M593.6 529.7h0M592.7 529.9h0M597.3 530.6h0M596.1 532.0h0M593.7 532.6h0M595.1 533.9h0M598.0 534.7h0M599.2 535.2h0M594.4 536.8h0M606.5 547.4h0M588.1 560.9h0M609.8 564.0h0M603.4 545.7h0M599.8 559.6h0M603.3 547.6h0M605.5 552.3h0M605.5 550.1h0M606.6 549.9h0M609.1 548.8h0M589.2 547.8h0M609.1 546.9h0M593.0 550.1h0M587.8 552.3h0M605.9 566.6h0M599.1 542.3h0M609.8 556.9h0M590.8 550.3h0M595.4 539.1h0M596.4 551.1h0M601.9 551.2h0M596.4 555.9h0M590.4 554.0h0M583.4 550.9h0M587.8 563.4h0M606.4 558.1h0M585.1 549.5h0M613.6 553.8h0M593.6 556.8h0M605.1 550.2h0M599.8 543.3h0M592.5 557.0h0M596.3 536.9h0M600.7 537.5h0M596.4 554.4h0M607.8 557.9h0M590.2 561.8h0M610.4 558.9h0M592.9 552.2h0M602.3 553.0h0M596.4 555.5h0M583.8 557.7h0M597.9 545.5h0M595.2 565.0h0M607.5 561.6h0M584.1 553.5h0M607.0 566.8h0M585.9 561.4h0M609.4 548.7h0M602.6 548.0h0M589.1 550.8h0M591.5 559.8h0M596.2 538.4h0M611.9 553.7h0M596.0 564.4h0M591.2 568.0h0M599.1 556.8h0M609.2 550.4h0M588.3 551.7h0M591.4 554.0h0M588.5 548.3h0M586.3 549.6h0M593.6 558.5h0M589.8 548.3h0M597.1 558.0h0M592.2 564.2h0M594.3 559.4h0M593.6 557.3h0M599.3 562.3h0M591.9 554.1h0M593.4 546.6h0M598.3 556.1h0M599.4 543.4h0M607.6 552.4h0M591.4 545.6h0M598.2 557.0h0M584.1 552.9h0M593.3 554.7h0M595.5 560.5h0M604.7 539.5h0M597.2 547.9h0M598.3 555.5h0M603.2 555.0h0M606.8 544.6h0M608.2 556.9h0M596.2 544.2h0M604.3 554.6h0M591.3 550.4h0M599.1 541.6h0M603.5 556.7h0M603.4 561.8h0M606.5 561.1h0M580.5 553.9h0M601.0 556.1h0M598.4 556.7h0M600.1 558.4h0M607.4 567.1h0M611.0 557.0h0M596.7 542.6h0M609.0 549.3h0M598.2 547.5h0M600.5 555.3h0M597.8 557.2h0M600.8 551.0h0M603.3 551.5h0M595.9 561.5h0M582.6 550.1h0M601.3 558.6h0M604.4 541.5h0M608.3 565.7h0M611.8 541.9h0M594.9 562.8h0M588.2 551.3h0M601.9 552.4h0M590.9 556.0h0M604.7 553.1h0M604.7 566.7h0M605.0 559.3h0M595.9 548.0h0M584.6 549.3h0M607.3 546.1h0M591.0 564.1h0M603.3 550.7h0M600.3 556.0h0M602.8 561.1h0M607.8 559.4h0M603.9 564.0h0M596.8 557.7h0M610.8 555.8h0M614.4 550.0h0M597.3 568.5h0M593.4 569.0h0M594.8 570.3h0M591.1 570.4h0M590.7 572.5h0M586.7 572.7h0M590.4 575.4h0M584.5 574.6h0M587.3 578.8h0M586.6 579.6h0M585.9 581.6h0M581.8 581.4h0M586.7 585.4h0M584.3 585.5h0M583.5 587.8h0M624.4 541.0h0M623.0 586.0h0M612.0 548.0h0" stroke="#c79de3" stroke-width="4.8"/>
<path d="M583.0 535.0h0M590.0 537.0h0M584.0 546.0h0M572.0 570.0h0M604.0 571.0h0M603.0 558.0h0M596.0 561.0h0" stroke="#7ba64b" stroke-width="4.8"/>
<path d="M515.4 909.6h0M516.8 910.3h0M512.6 912.1h0M516.5 911.8h0M520.6 912.3h0M522.7 914.2h0M518.6 915.9h0M520.4 917.0h0M513.6 918.4h0M517.1 916.9h0M519.8 919.1h0M523.9 919.2h0M515.1 919.7h0M516.7 922.0h0M520.1 920.1h0M524.9 921.2h0M551.7 922.5h0M513.0 924.3h0M517.5 923.9h0M519.8 924.6h0M523.7 924.8h0M524.6 925.1h0M545.2 924.7h0M552.3 923.0h0M553.8 924.4h0M560.8 925.0h0M512.6 925.6h0M515.3 926.3h0M518.0 926.6h0M521.1 926.8h0M525.5 927.3h0M526.7 926.5h0M532.0 925.2h0M533.2 927.3h0M537.9 928.0h0M539.0 927.3h0M544.7 927.0h0M556.4 925.8h0M559.1 925.5h0M562.7 927.7h0M565.3 925.8h0M512.6 928.3h0M514.8 928.1h0M520.2 929.2h0M523.6 928.9h0M525.8 929.0h0M530.4 930.1h0M534.2 928.4h0M538.8 930.0h0M543.0 928.4h0M546.0 928.0h0M547.0 930.3h0M550.9 928.8h0M554.4 930.2h0M557.9 929.5h0M562.2 930.3h0M563.1 929.2h0M568.7 928.2h0M497.3 932.4h0M501.1 931.2h0M503.6 932.3h0M509.6 932.9h0M512.8 933.0h0M513.2 933.2h0M517.7 932.5h0M519.7 932.8h0M525.2 931.3h0M528.2 931.2h0M531.5 931.1h0M534.2 931.5h0M538.3 931.8h0M538.8 932.7h0M542.0 931.8h0M545.2 931.0h0M549.1 932.2h0M554.0 931.7h0M555.6 932.4h0M558.6 931.3h0M563.3 932.8h0M566.5 932.7h0M568.0 931.1h0M490.6 935.1h0M494.8 933.5h0M499.5 934.8h0M502.1 935.9h0M505.6 934.3h0M509.7 935.3h0M514.2 934.3h0M516.2 933.8h0M518.1 933.5h0M521.3 936.0h0M526.1 934.1h0M529.5 934.1h0M533.0 936.1h0M536.4 936.1h0M537.5 934.9h0M542.0 934.7h0M545.7 936.0h0M547.4 935.1h0M550.0 933.7h0M554.9 936.2h0M559.2 935.4h0M560.1 935.0h0M565.4 933.8h0M568.6 935.1h0M482.7 938.9h0M484.5 937.1h0M488.0 937.8h0M493.5 937.0h0M495.1 937.6h0M498.1 936.6h0M501.6 938.9h0M505.9 938.7h0M508.4 937.7h0M510.7 937.5h0M513.3 936.6h0M518.4 938.9h0M520.5 939.0h0M524.8 938.3h0M527.4 937.5h0M530.5 938.6h0M533.3 937.4h0M536.9 937.1h0M539.0 936.6h0M543.7 938.0h0M545.7 938.2h0M551.0 936.5h0M553.6 937.9h0M557.0 937.5h0M559.2 939.0h0M563.9 936.4h0M566.0 938.6h0M571.0 936.3h0M483.5 941.2h0M486.2 941.2h0M490.2 941.4h0M493.6 939.7h0M498.0 941.1h0M500.5 939.9h0M504.4 941.4h0M505.7 941.4h0M508.9 940.4h0M511.9 939.3h0M516.7 939.3h0M518.7 939.5h0M521.3 941.1h0M525.7 940.0h0M528.1 941.8h0M533.5 939.4h0M534.7 941.1h0M538.3 939.5h0M542.4 941.7h0M547.3 939.4h0M552.6 940.2h0M555.8 939.6h0M558.9 941.4h0M561.9 939.8h0M563.2 940.7h0M485.2 942.5h0M489.6 942.0h0M491.0 944.4h0M495.0 943.6h0M499.1 944.3h0M500.4 944.0h0M505.8 943.4h0M508.2 942.2h0M510.9 942.5h0M516.0 944.1h0M517.0 942.5h0M522.0 943.8h0M524.9 944.0h0M526.9 943.1h0M530.5 942.5h0M533.2 942.0h0M537.2 944.5h0M538.8 942.7h0M543.2 943.3h0M548.5 943.2h0M552.0 941.9h0M556.9 942.3h0M560.7 942.2h0M561.7 943.4h0M487.2 947.3h0M490.9 945.7h0M493.9 945.2h0M497.1 945.0h0M498.8 946.4h0M503.1 944.6h0M506.6 945.8h0M510.5 946.4h0M514.2 947.1h0M516.9 944.8h0M519.0 946.5h0M521.7 945.8h0M524.5 947.2h0M528.9 946.1h0M531.3 945.6h0M535.5 945.4h0M538.4 946.1h0M540.5 946.0h0M545.0 944.8h0M549.3 945.3h0M551.7 945.9h0M554.2 945.0h0M558.2 945.9h0M561.4 946.7h0M564.7 946.6h0M567.1 944.9h0M570.1 945.3h0M485.8 948.3h0M487.9 948.7h0M492.1 949.3h0M496.5 949.5h0M499.0 950.2h0M500.9 950.0h0M503.8 949.7h0M507.0 949.2h0M512.7 950.1h0M515.3 949.6h0M516.9 949.6h0M519.7 949.0h0M524.8 949.0h0M526.9 950.0h0M532.0 947.9h0M534.5 947.9h0M538.4 948.8h0M540.1 948.7h0M544.5 949.9h0M546.6 949.7h0M549.4 947.7h0M554.3 948.3h0M556.2 948.6h0M559.5 948.4h0M562.9 949.6h0M565.1 948.4h0M567.6 947.5h0M489.9 951.9h0M494.2 952.5h0M496.9 953.0h0M500.6 952.4h0M504.6 952.9h0M506.6 951.6h0M511.2 950.7h0M513.4 952.3h0M517.1 952.1h0M520.1 950.2h0M521.9 951.2h0M526.0 952.1h0M529.5 950.5h0M533.5 952.5h0M536.6 952.8h0M539.9 950.3h0M542.0 951.5h0M544.0 950.5h0M547.5 951.6h0M551.0 952.3h0M553.4 950.4h0M556.7 950.3h0M560.2 951.6h0M564.6 952.4h0M568.8 952.0h0M570.2 952.9h0M572.6 952.5h0M485.6 954.5h0M490.1 954.6h0M492.2 954.9h0M495.8 955.7h0M497.9 954.8h0M500.7 954.2h0M504.1 954.7h0M507.6 955.3h0M511.5 953.4h0M515.7 953.0h0M517.1 953.5h0M521.9 955.7h0M525.5 954.2h0M527.2 953.4h0M529.8 953.1h0M533.7 954.3h0M538.2 954.2h0M541.1 954.4h0M544.6 954.4h0M546.1 954.6h0M548.4 953.9h0M554.1 954.2h0M556.7 953.2h0M559.7 954.7h0M562.0 953.2h0M570.1 954.8h0M573.4 953.2h0M574.3 954.4h0M577.6 954.5h0M488.5 956.5h0M491.3 956.9h0M494.2 957.0h0M495.7 956.2h0M500.6 957.3h0M502.1 956.1h0M507.5 955.9h0M511.0 958.0h0M512.9 956.3h0M515.6 955.8h0M518.5 955.7h0M523.1 958.2h0M525.6 957.2h0M529.7 955.9h0M532.1 956.0h0M536.7 958.5h0M538.8 957.8h0M541.6 956.2h0M544.2 955.9h0M547.6 958.2h0M550.8 957.5h0M554.4 958.4h0M557.1 956.6h0M562.2 958.1h0M568.5 956.5h0M569.5 956.6h0M573.3 957.4h0M575.8 958.4h0M490.8 959.9h0M498.7 960.7h0M500.4 961.1h0M505.4 961.2h0M507.1 959.4h0M511.4 960.4h0M513.8 960.5h0M518.5 961.0h0M520.0 959.1h0M523.2 958.9h0M526.0 960.1h0M531.7 959.1h0M533.0 960.1h0M538.0 960.3h0M540.9 958.8h0M544.3 958.5h0M546.4 959.6h0M548.4 960.9h0M553.3 960.0h0M556.9 960.9h0M560.7 960.7h0M563.6 959.1h0M565.1 958.8h0M568.0 960.5h0M572.0 958.8h0M575.9 960.1h0M494.6 961.6h0M496.2 962.9h0M501.5 963.9h0M503.4 963.3h0M508.0 961.7h0M510.4 962.5h0M511.7 963.9h0M516.3 962.5h0M519.9 963.3h0M521.6 963.1h0M524.6 963.3h0M529.2 963.6h0M531.6 961.6h0M534.7 961.4h0M538.9 962.1h0M542.2 963.7h0M545.4 963.3h0M549.2 962.3h0M552.3 962.6h0M556.0 961.9h0M558.5 963.2h0M560.7 961.3h0M565.1 963.7h0M567.4 962.8h0M571.7 962.2h0M573.4 962.0h0M495.1 966.2h0M499.3 966.4h0M502.2 964.6h0M505.4 965.8h0M509.4 965.1h0M510.5 966.2h0M513.3 966.3h0M517.5 965.1h0M521.4 966.7h0M523.1 964.2h0M528.2 965.4h0M531.3 964.4h0M533.5 965.6h0M537.2 966.5h0M541.3 966.2h0M542.6 966.8h0M546.4 966.5h0M549.7 966.1h0M552.8 965.1h0M555.2 966.3h0M558.6 966.1h0M563.7 965.4h0M566.3 965.8h0M570.3 966.2h0M497.7 967.6h0M500.6 968.1h0M502.3 966.8h0M507.3 967.9h0M510.8 968.4h0M514.1 967.6h0M515.6 967.1h0M520.8 968.6h0M523.6 969.3h0M526.0 969.4h0M529.1 968.4h0M531.2 967.7h0M535.4 967.8h0M539.1 967.5h0M543.0 967.7h0M543.8 967.5h0M547.0 969.6h0M552.8 968.2h0M554.3 967.7h0M557.7 967.4h0M561.7 969.3h0M563.3 967.6h0M501.5 971.3h0M511.4 971.9h0M513.2 970.0h0M518.7 971.3h0M521.5 971.5h0M523.7 971.5h0M526.4 971.5h0M531.7 969.9h0M534.0 971.5h0M538.0 971.6h0M539.9 971.3h0M543.4 970.0h0M546.0 971.1h0M549.0 969.8h0M506.7 972.3h0M513.3 972.6h0M515.8 974.3h0M519.7 974.4h0M522.0 973.6h0M526.1 973.9h0M529.9 972.9h0M531.0 973.1h0M534.3 973.2h0M539.1 973.5h0M542.3 972.4h0M544.9 972.3h0M516.0 976.2h0M517.0 975.9h0M520.3 977.9h0M523.2 977.7h0M527.0 977.1h0M530.8 976.5h0M532.4 976.7h0M538.2 975.3h0M517.6 977.9h0M524.9 979.4h0M528.7 978.4h0M533.1 977.9h0M538.0 978.1h0M577.0 915.0h0M607.0 874.0h0" stroke="#e2f06e" stroke-width="4.8"/>
<path d="M513.1 901.4h0M520.3 904.9h0M517.6 912.9h0M515.0 899.0h0" stroke="#5e3b8e" stroke-width="4.8"/>
<path d="M551.5 920.1h0" stroke="#4f9a3a" stroke-width="4.8"/>
<path d="M565.8 916.6h0M571.3 913.5h0M576.1 910.9h0M575.0 908.1h0M577.6 909.6h0M577.6 907.9h0M579.2 907.9h0M579.4 905.7h0M580.0 905.5h0M582.1 906.6h0M583.4 905.8h0M583.9 905.2h0M584.2 903.3h0M585.8 903.5h0M584.7 901.9h0M588.6 903.9h0M587.6 902.2h0M587.0 899.2h0M587.9 899.0h0M589.1 897.8h0M590.6 898.2h0M589.4 896.0h0M590.0 895.6h0M591.4 894.9h0M592.5 894.3h0M592.7 893.3h0M593.3 891.9h0M595.4 892.4h0M593.8 890.8h0M594.1 888.9h0M596.9 890.6h0M597.2 888.9h0M598.9 889.7h0M597.9 886.9h0M598.2 885.3h0M601.7 887.1h0M600.6 885.1h0M603.1 885.5h0M599.0 881.4h0M600.6 881.4h0M602.2 880.8h0M601.0 878.6h0M603.3 879.6h0M603.4 878.0h0M607.0 879.5h0M603.4 876.3h0M606.7 877.2h0M603.5 872.9h0M606.4 874.1h0M608.1 873.4h0M607.1 871.8h0" stroke="#8c8c96" stroke-width="4.8"/>
<path d="M770.5 458.0h0M770.4 459.2h0M768.3 459.7h0M770.2 460.9h0M772.0 462.5h0M768.8 462.9h0M769.4 464.5h0M768.8 465.4h0M769.0 466.4h0M768.5 468.0h0M767.9 468.9h0M767.9 470.4h0M770.0 471.3h0M766.3 472.1h0M768.3 473.9h0M769.8 475.6h0M768.4 476.6h0M767.1 477.8h0M766.6 478.4h0M765.2 478.7h0M763.4 479.1h0M763.5 480.7h0M766.1 482.7h0M764.7 483.6h0M762.0 483.8h0M762.8 485.4h0M760.7 485.4h0M762.3 487.4h0M761.0 488.4h0M760.4 489.4h0M760.4 490.1h0M759.4 491.2h0M759.9 492.2h0M757.1 492.6h0M756.9 493.6h0M757.5 495.4h0M757.7 497.0h0M757.0 497.0h0M756.6 498.2h0M754.4 499.3h0M755.3 500.2h0M757.9 502.2h0M754.1 503.0h0M751.7 503.2h0M753.1 504.5h0M749.5 504.4h0M754.1 507.1h0M752.9 508.3h0M750.5 508.5h0M748.6 509.0h0M752.1 511.6h0M751.2 512.4h0M750.2 512.6h0M749.7 514.5h0M746.9 514.0h0M749.0 516.2h0M748.4 517.5h0M749.1 518.9h0M747.5 518.9h0M783.8 470.5h0M784.0 467.4h0M784.5 467.2h0M786.1 468.8h0M787.7 469.1h0M788.5 466.3h0M791.0 468.8h0M791.0 466.7h0M793.2 466.5h0M792.9 462.6h0M795.0 464.8h0M797.5 467.9h0M797.1 464.0h0M797.6 462.4h0M799.6 463.0h0M801.0 463.2h0M802.8 464.6h0M803.6 465.5h0M804.6 462.5h0M805.3 461.5h0M730.9 507.2h0M735.8 508.0h0M736.9 508.7h0" stroke="#dbb5d6" stroke-width="4.8"/>
<path d="M808.6 462.8h0" stroke="#dba64f" stroke-width="4.8"/>
<path d="M606.0 371.0h0M608.5 370.0h0M611.0 368.5h0" stroke="#8b2b6b" stroke-width="4.8"/>
<path d="M441.0 393.0h0M444.0 393.5h0" stroke="#2b3e4b" stroke-width="4.8"/>
<path d="M791.7 635.8h0M776.9 645.1h0M793.0 644.1h0M806.0 636.9h0M806.6 637.8h0M806.9 641.1h0M802.5 636.9h0M792.6 640.0h0M785.1 645.4h0M796.3 646.2h0M793.1 636.2h0M783.4 641.4h0M802.7 641.8h0M790.7 643.3h0M783.5 642.4h0M780.6 638.1h0M810.7 646.4h0M793.2 639.7h0M785.3 649.9h0M773.7 633.0h0M766.4 641.8h0M780.2 643.3h0M783.5 638.1h0M814.0 639.3h0M792.0 640.7h0M777.6 637.7h0M785.6 643.0h0M793.2 635.4h0M800.9 641.4h0M797.6 647.0h0M780.9 647.9h0M792.1 648.9h0M785.4 649.0h0M781.1 644.1h0M802.5 636.9h0M779.1 648.1h0M793.9 644.4h0M810.5 641.4h0M774.1 639.9h0M803.6 639.1h0M802.1 642.2h0M810.0 648.8h0M805.3 640.2h0M797.8 651.7h0M780.2 635.8h0M779.3 645.0h0M784.3 645.6h0M791.8 640.8h0M784.4 640.8h0M789.9 640.2h0M769.5 645.2h0M783.0 641.3h0M806.8 638.8h0M790.0 634.7h0M796.5 636.8h0M787.0 638.9h0M797.0 644.7h0M790.3 644.3h0M802.5 644.9h0M786.8 640.8h0M796.1 637.3h0M791.8 643.8h0M814.1 639.8h0M778.6 633.5h0M800.3 632.8h0M777.9 639.7h0M788.5 635.9h0M774.6 642.2h0M773.4 641.5h0M779.3 641.1h0M815.0 648.0h0M819.0 652.0h0M812.0 640.0h0" stroke="#b99a8d" stroke-width="4.8"/>
<path d="M822.4 646.0h0" stroke="#a6d47b" stroke-width="4.8"/>
<path d="M787.0 649.0h0" stroke="#5e3b8e" stroke-width="4.8"/>
<path d="M965.1 710.2h0M967.6 695.5h0M960.9 693.7h0M962.6 696.8h0M966.3 708.5h0M958.4 690.6h0M966.1 690.8h0M959.6 701.1h0M961.6 698.5h0M960.1 701.5h0M966.0 689.1h0M966.0 696.3h0M959.5 671.8h0M966.5 703.1h0M961.9 697.9h0M965.0 692.0h0M970.6 680.8h0M960.7 688.5h0M965.6 699.5h0M964.5 714.1h0M957.6 710.9h0M963.9 703.9h0M967.8 689.6h0M971.0 693.9h0M961.2 708.2h0M965.3 705.8h0M968.0 675.9h0M965.0 688.2h0M959.1 697.7h0M963.8 693.8h0M956.6 701.0h0M964.9 696.3h0M962.8 686.5h0M966.0 697.3h0M964.1 692.5h0M967.1 687.5h0M961.3 712.9h0M969.9 697.5h0M962.4 679.4h0M961.6 695.3h0M961.7 712.1h0M961.6 682.5h0M966.2 691.9h0M964.1 702.6h0M972.6 677.6h0M966.1 680.6h0M959.5 686.3h0M971.1 693.8h0M959.4 685.0h0M963.4 695.2h0M965.6 699.2h0M964.9 686.8h0M961.8 689.3h0M956.3 689.2h0M962.2 690.3h0M966.2 684.5h0M955.5 704.6h0M967.3 694.2h0M964.1 684.3h0M963.8 697.7h0M960.7 698.1h0M965.5 716.1h0M971.6 686.9h0M962.6 673.4h0M965.9 681.8h0M969.6 711.2h0M968.7 695.3h0M966.1 706.1h0M961.7 687.7h0M958.6 687.4h0M961.0 703.5h0M965.8 701.2h0M964.3 695.5h0M955.9 701.6h0M965.7 684.7h0M968.5 686.4h0M959.8 690.3h0M957.8 692.5h0M962.4 708.5h0M967.7 699.1h0M967.7 697.4h0M970.8 698.7h0M971.3 696.7h0M960.9 688.9h0M973.1 676.9h0M968.5 701.2h0M967.6 701.4h0M969.9 703.3h0M963.2 692.3h0M962.7 685.5h0M908.2 711.4h0M910.3 710.8h0M911.2 705.9h0M912.7 708.3h0M915.2 708.1h0M915.7 709.1h0M917.4 707.5h0M919.6 707.9h0M920.3 707.0h0M922.4 705.5h0M924.5 703.3h0M925.2 706.3h0M927.8 706.6h0M928.4 705.0h0M930.5 707.3h0M932.7 707.4h0M934.3 708.0h0M936.4 706.2h0M937.3 708.2h0M938.7 710.0h0M940.1 707.0h0M941.1 710.2h0M943.6 709.8h0M945.7 710.3h0M946.5 707.2h0M948.9 707.6h0M950.2 712.8h0M950.8 708.8h0M953.0 711.1h0M955.0 708.2h0M955.7 708.9h0M958.3 709.2h0M959.7 710.4h0M960.5 710.7h0M962.5 712.4h0M963.4 712.4h0M965.4 710.2h0M968.5 709.1h0M969.8 709.3h0M971.3 710.7h0M973.0 712.4h0M973.0 714.6h0M958.0 668.0h0M963.0 672.0h0" stroke="#baabd8" stroke-width="4.8"/>
<path d="M939.0 706.0h0M974.0 713.0h0" stroke="#7ba64b" stroke-width="4.8"/>
<path d="M848.1 757.1h0M848.4 756.8h0M847.4 763.5h0M837.3 765.0h0M857.4 752.0h0M857.3 761.8h0M827.0 760.1h0M843.4 764.3h0M854.6 763.0h0M848.6 763.2h0M833.4 762.5h0M847.7 761.5h0M853.5 763.8h0M838.7 761.3h0M847.9 758.9h0M866.0 753.6h0M841.3 757.3h0M859.6 763.2h0M860.1 764.2h0M857.8 758.5h0M840.0 765.8h0M853.7 766.1h0M857.2 758.8h0M843.1 770.3h0M841.3 764.7h0M843.5 763.3h0M848.8 759.3h0M851.1 755.7h0M858.6 757.5h0M859.2 760.6h0M855.3 755.0h0M838.8 769.4h0M858.1 765.5h0M835.7 757.3h0M864.0 759.4h0M862.0 763.6h0M851.0 766.3h0M845.1 761.4h0M852.1 752.1h0M853.4 755.7h0M839.5 758.0h0M850.9 763.2h0M841.3 763.1h0M833.8 765.2h0M847.7 756.3h0M851.9 760.5h0M870.6 756.5h0M843.7 759.4h0M837.0 763.8h0M835.3 763.0h0M846.1 759.7h0M841.4 752.3h0M862.4 765.0h0M846.5 757.4h0M855.3 763.5h0M863.3 753.8h0M853.3 763.8h0M842.0 760.8h0M843.4 751.3h0M844.6 763.5h0M837.5 761.5h0M857.9 759.4h0M833.2 756.3h0M839.0 759.3h0M839.6 764.3h0M829.6 760.8h0M848.2 767.8h0M844.8 758.0h0M847.3 755.5h0M855.1 762.3h0M865.0 762.1h0M839.2 764.8h0M854.9 757.6h0M855.3 758.1h0M841.9 761.8h0M845.6 759.3h0M834.4 761.7h0M844.3 756.8h0M842.6 755.5h0M840.0 763.0h0M840.1 754.1h0M855.9 762.2h0M846.4 764.8h0M828.7 759.9h0M837.8 766.4h0M864.9 757.3h0M853.2 760.3h0M842.2 763.0h0M866.6 756.9h0M853.7 756.5h0M858.2 767.1h0M840.3 753.1h0M845.7 752.9h0M851.5 762.7h0M840.4 756.2h0M849.3 758.6h0M836.3 758.6h0M850.8 758.3h0M852.4 763.2h0M862.9 764.4h0M864.8 758.9h0M850.5 753.4h0M852.7 767.1h0M842.3 763.8h0M835.9 761.6h0M839.2 761.2h0M864.4 755.2h0M849.0 764.8h0M849.3 758.7h0M849.2 760.1h0M826.8 744.2h0M831.1 744.5h0M829.7 746.0h0M825.1 746.6h0M830.2 748.8h0M826.3 745.7h0M826.9 746.4h0M826.0 748.7h0M826.2 747.2h0M824.0 745.7h0M831.3 745.5h0M830.0 747.5h0M864.6 747.0h0M873.8 745.7h0M865.1 746.1h0M872.3 748.7h0M869.0 744.9h0M871.6 747.2h0M866.0 750.6h0M871.6 747.6h0M869.6 747.9h0M870.7 745.5h0M891.6 736.7h0" stroke="#8a5a50" stroke-width="4.8"/>
<path d="M888.0 735.0h0" stroke="#baabd8" stroke-width="4.8"/>
<path d="M1118.1 676.1h0M1101.2 677.9h0M1105.1 677.1h0M1108.4 677.8h0M1113.2 678.2h0M1116.9 678.0h0M1099.1 680.7h0M1101.0 679.6h0M1104.8 682.3h0M1108.2 682.3h0M1112.1 681.9h0M1115.9 682.4h0M1118.6 681.8h0M1121.3 680.2h0M1125.4 682.3h0M1097.0 682.8h0M1100.0 684.8h0M1104.2 684.0h0M1106.4 684.1h0M1109.2 684.4h0M1113.9 684.0h0M1120.0 684.5h0M1092.4 687.6h0M1099.5 687.3h0M1103.0 685.5h0M1105.6 686.6h0M1108.1 688.4h0M1110.9 687.9h0M1116.4 687.5h0M1117.9 688.4h0M1123.7 685.9h0M1125.3 687.6h0M1093.7 689.5h0M1095.8 690.5h0M1101.7 688.3h0M1104.6 690.9h0M1106.9 691.1h0M1109.5 690.2h0M1115.3 690.0h0M1117.4 691.2h0M1120.9 690.3h0M1124.1 688.8h0M1090.3 693.1h0M1094.2 691.4h0M1099.6 691.9h0M1102.5 692.1h0M1105.9 693.8h0M1107.7 691.6h0M1110.9 693.8h0M1118.8 692.2h0M1121.7 694.2h0M1087.8 695.2h0M1091.3 694.5h0M1092.4 695.7h0M1100.7 696.3h0M1104.7 697.0h0M1107.0 696.9h0M1110.7 697.2h0M1115.3 696.7h0M1117.4 695.7h0M1119.2 697.0h0M1092.4 699.1h0M1096.6 698.8h0M1099.8 697.8h0M1101.9 698.2h0M1106.1 697.5h0M1108.7 697.2h0M1112.8 699.0h0M1115.8 699.9h0M1120.4 697.8h0M1121.0 698.0h0M1094.6 702.3h0M1098.9 701.3h0M1104.9 700.8h0M1106.0 702.0h0M1110.7 702.0h0M1115.2 701.3h0M1117.3 701.6h0M1097.8 703.1h0M1110.2 703.1h0M1116.7 703.5h0M1121.1 705.5h0M1105.6 706.9h0M1111.9 706.1h0M1109.7 709.1h0M1101.7 757.3h0M1112.9 756.9h0M1109.8 759.8h0M1101.8 760.5h0M1104.8 762.1h0M1106.3 760.2h0M1117.1 761.6h0M1102.4 765.3h0M1104.3 765.4h0M1109.2 765.0h0M1110.6 765.1h0M1114.9 765.2h0M1119.0 763.9h0M1124.5 763.8h0M1103.3 767.7h0M1106.9 767.5h0M1110.1 767.4h0M1113.7 767.6h0M1116.5 766.4h0M1119.3 766.0h0M1122.7 766.0h0M1101.6 768.9h0M1105.5 771.1h0M1107.4 769.4h0M1112.7 770.0h0M1115.3 769.2h0M1118.5 771.3h0M1120.4 770.9h0M1104.2 773.4h0M1107.1 771.3h0M1109.1 772.5h0M1113.0 773.4h0M1117.2 774.1h0M1118.8 773.6h0M1123.7 772.5h0M1125.3 771.3h0M1111.1 774.2h0M1116.5 776.9h0M1117.3 776.8h0M1112.4 779.6h0M1117.5 778.1h0M1119.9 776.9h0M1112.8 782.1h0M1116.3 781.8h0M1118.7 781.3h0M1062.5 708.1h0M1058.9 701.6h0M1060.2 699.5h0M1049.0 703.4h0M1056.2 706.3h0M1051.0 705.6h0M1060.0 708.1h0M1052.0 701.6h0M1063.3 704.4h0M1056.4 699.8h0M1061.9 708.6h0M1054.8 705.3h0M1060.0 706.4h0M1054.5 703.8h0M1061.9 708.8h0M1051.3 708.6h0M1061.0 705.9h0M1054.6 703.3h0M1064.3 706.0h0M1061.8 710.5h0M1049.3 705.7h0M1058.9 708.8h0M1058.8 698.9h0M1062.4 707.9h0M1067.6 706.6h0M1064.1 704.1h0M1057.8 703.4h0M1058.1 706.7h0M1056.7 704.3h0M1065.2 710.0h0M1052.4 703.6h0M1060.4 708.3h0M1056.3 705.3h0M1059.7 708.6h0M1048.6 708.1h0M1055.8 705.7h0M1059.6 702.3h0M1060.5 703.3h0M1057.2 706.7h0M1058.8 703.8h0M1071.9 702.6h0M1075.6 691.4h0M1031.9 706.3h0M1073.0 706.0h0M1087.0 705.0h0M1088.0 729.0h0M1092.0 757.0h0M1105.0 753.0h0M1079.3 764.9h0M1095.9 710.6h0M1096.2 713.2h0M1094.9 714.9h0M1098.3 716.0h0M1108.7 711.7h0M1107.1 714.9h0M1108.5 715.4h0M1108.0 717.0h0M1106.8 719.1h0M1108.9 719.1h0M1111.0 719.9h0M1112.2 719.7h0M1114.7 720.5h0M1113.1 722.1h0M1114.6 723.6h0M1117.6 724.8h0M1112.2 726.4h0M1111.5 728.1h0M1114.8 728.0h0M1114.2 730.5h0M1116.5 730.5h0M1115.0 732.3h0M1114.3 733.6h0M1112.4 733.6h0M1113.9 734.5h0M1116.8 737.9h0M1115.1 737.8h0M1115.0 740.2h0M1110.0 738.6h0M1113.5 742.1h0M1113.3 743.2h0M1111.1 743.5h0M1111.3 744.1h0M1121.4 736.3h0M1113.2 736.0h0M1121.2 738.2h0M1116.7 735.2h0M1117.1 731.7h0M1122.9 739.3h0M1116.3 736.2h0M1126.7 735.9h0M1113.5 738.6h0M1122.5 733.1h0M1120.7 740.1h0M1124.1 741.9h0M1119.1 733.5h0M1117.0 740.2h0M1117.5 741.1h0M1123.3 739.7h0M1120.9 734.3h0M1119.5 732.3h0M1121.2 735.1h0M1117.7 740.5h0M1126.7 737.6h0M1118.4 740.0h0M1123.8 739.0h0M1112.8 739.7h0M1117.0 741.9h0M1117.9 738.1h0M1123.3 740.8h0M1120.8 735.9h0M1120.3 742.8h0M1121.6 740.4h0M1116.8 731.0h0M1125.2 739.1h0M1123.6 739.2h0M1114.7 734.5h0M1124.6 741.2h0M1116.9 734.0h0M1117.1 741.2h0M1118.6 734.1h0M1121.5 735.8h0M1117.3 737.0h0M1122.7 739.2h0M1123.8 742.8h0M1117.8 736.8h0M1124.9 736.8h0M1117.8 733.3h0M1134.0 740.4h0M1135.9 739.8h0M1139.0 739.9h0M1135.3 768.4h0M1135.9 765.7h0M1137.2 768.3h0M1138.3 766.7h0M1139.8 769.0h0M1141.3 768.8h0M1142.1 764.1h0M1143.6 763.9h0M1143.9 766.0h0M1145.4 763.8h0M1146.9 764.9h0M1147.7 767.9h0M1149.3 763.4h0M1150.7 763.5h0M1151.1 765.4h0M1152.8 762.0h0M1154.2 766.1h0M1155.5 763.8h0M1157.1 764.9h0M1158.0 765.6h0M1158.9 763.5h0M1159.5 763.4h0M1160.9 764.7h0M1163.0 765.3h0M1163.3 764.6h0M1164.5 765.3h0M1166.4 764.6h0M1185.9 767.4h0M1179.1 764.7h0M1181.1 766.9h0M1180.6 762.4h0M1182.6 766.1h0M1179.5 768.8h0M1184.0 765.1h0M1187.0 769.2h0M1178.6 764.2h0M1175.6 764.0h0M1178.4 764.1h0M1186.3 765.6h0M1183.1 763.1h0M1186.2 764.1h0M1183.4 765.3h0M1189.9 761.4h0M1185.1 761.7h0M1182.4 768.1h0M1181.5 768.3h0M1183.0 762.3h0M1180.0 761.6h0M1181.9 763.4h0M1178.3 765.6h0M1174.0 764.3h0M1184.8 765.8h0M1187.9 767.7h0M1184.5 765.0h0M1185.1 765.0h0M1175.1 767.2h0M1187.3 770.0h0M1180.1 765.3h0M1179.3 766.3h0M1176.6 762.3h0M1177.7 760.9h0M1183.8 764.7h0M1183.5 761.9h0M1180.0 766.5h0M1181.1 762.2h0M1178.5 758.7h0M1183.5 767.5h0M1178.4 766.9h0M1173.1 767.7h0M1176.9 764.2h0M1177.0 768.0h0M1183.5 764.7h0M1170.0 756.0h0M1132.3 679.5h0M1134.6 681.9h0M1137.3 683.9h0M1138.6 680.4h0M1140.9 680.7h0M1143.3 681.5h0M1144.6 681.3h0" stroke="#c45ff2" stroke-width="4.8"/>
<path d="M1010.2 707.3h0M1012.6 704.1h0M1015.7 705.6h0M1019.6 708.4h0M1021.0 706.7h0M1023.8 706.7h0M1026.3 706.5h0M1029.4 707.5h0" stroke="#c9a3e8" stroke-width="4.8"/>
<path d="M1148.0 772.0h0M1124.0 780.0h0" stroke="#a6d47b" stroke-width="4.8"/>
<path d="M1112.0 664.0h0M1117.0 660.0h0" stroke="#b5c4e7" stroke-width="4.8"/>
<path d="M1169.6 660.4h0M1165.1 663.2h0M1162.9 656.9h0M1160.7 659.5h0M1166.1 659.5h0M1163.0 661.3h0M1169.5 661.0h0M1166.1 661.4h0M1166.8 661.6h0M1171.4 662.0h0M1162.5 661.5h0M1165.0 655.3h0M1167.0 666.1h0M1164.8 654.6h0M1167.3 666.0h0M1162.7 662.7h0M1161.5 663.4h0M1167.3 656.8h0M1165.3 659.9h0M1162.4 665.6h0M1166.2 664.3h0M1164.3 663.5h0M1168.3 661.6h0M1165.3 657.6h0M1167.5 666.0h0M1178.8 673.7h0M1175.2 675.0h0M1178.4 675.7h0M1175.4 670.6h0M1171.6 669.1h0M1176.7 673.2h0M1179.1 670.2h0M1176.4 671.8h0M1179.5 671.0h0M1176.8 671.1h0M1177.2 672.0h0M1175.3 676.1h0M1176.4 670.1h0M1179.7 675.4h0M1179.0 669.0h0M1131.9 682.9h0M1134.5 684.1h0M1137.8 684.5h0M1138.0 680.4h0M1139.4 680.0h0M1143.4 680.4h0M1145.3 679.5h0M1147.4 678.5h0M1148.9 677.7h0M1152.4 675.9h0M1153.4 676.9h0M1157.0 674.8h0M1157.6 673.4h0" stroke="#d2d28c" stroke-width="4.8"/>
<path d="M1017.1 774.8h0M1018.8 773.3h0M1014.0 774.5h0M1018.5 775.2h0M1017.4 771.6h0M1025.7 776.2h0M1015.0 775.6h0M1023.0 775.1h0M1018.4 777.4h0M1018.6 774.9h0M1020.0 775.1h0M1019.8 773.8h0M1017.5 772.4h0M1029.3 774.2h0M1021.2 775.3h0M1023.6 777.1h0M1018.8 774.9h0M1021.8 775.0h0M1014.5 773.6h0M1020.1 779.1h0M1028.3 774.8h0M1015.7 772.4h0M1016.2 770.5h0M1024.5 774.6h0M1024.5 773.0h0M1018.7 771.9h0M1022.1 777.3h0M1019.3 775.0h0M1026.6 776.1h0M1020.1 776.2h0M1023.1 776.9h0M1020.6 779.7h0M1022.0 773.7h0M1018.3 771.8h0M1020.2 775.4h0M1026.4 750.9h0M1031.7 756.3h0M1029.5 753.2h0M1026.7 752.8h0M1032.3 750.3h0M1032.1 752.5h0M1032.6 751.8h0M1030.8 755.3h0M1029.6 755.5h0M1031.8 751.0h0M1026.5 753.7h0M1031.2 755.0h0M1029.7 754.0h0M1027.6 751.1h0M1044.5 763.9h0M1041.2 759.6h0M1049.2 767.4h0M1041.4 763.7h0M1045.7 762.3h0M1048.8 769.7h0M1053.0 765.6h0M1042.7 762.1h0M1042.5 770.6h0M1042.8 763.4h0M1043.6 761.0h0M1052.7 766.3h0M1038.5 762.8h0M1040.3 764.0h0M1046.1 763.8h0M1045.2 757.1h0M1051.4 765.7h0M1054.7 762.4h0M1043.0 763.1h0M1045.8 767.5h0M1044.0 767.6h0M1036.7 767.3h0M1043.8 759.6h0M1042.3 759.3h0M1039.8 766.3h0M1039.0 764.2h0M1053.1 759.4h0M1042.7 766.3h0M1051.3 767.1h0M1044.7 765.9h0M1042.5 760.6h0M1042.4 768.2h0M1042.7 769.8h0M1048.2 764.2h0M1038.7 762.9h0M1047.0 761.3h0M1041.9 761.0h0M1043.9 761.6h0M1052.1 766.2h0M1048.5 761.7h0M1070.0 766.7h0M1075.0 767.0h0M1058.8 767.7h0" stroke="#b6b843" stroke-width="4.8"/>
<path d="M1337.7 643.8h0M1346.6 642.8h0M1353.6 643.4h0M1343.1 646.5h0M1351.0 644.4h0M1336.0 648.6h0M1341.2 648.7h0M1344.7 647.6h0M1347.8 647.0h0M1342.5 651.1h0M1344.6 651.2h0M1348.6 650.7h0M1350.4 651.6h0M1336.9 652.5h0M1342.0 653.6h0M1343.2 654.6h0M1347.6 653.3h0M1349.6 652.7h0M1334.5 654.7h0M1338.1 655.2h0M1342.9 657.0h0M1344.4 654.9h0M1348.3 656.2h0M1351.1 656.7h0M1353.9 656.1h0M1338.1 657.4h0M1342.1 658.6h0M1343.5 657.3h0M1345.7 659.3h0M1350.3 659.2h0M1353.9 659.3h0M1357.1 657.2h0M1359.2 657.7h0M1335.6 659.9h0M1339.8 662.4h0M1343.6 661.8h0M1346.1 661.2h0M1349.0 660.4h0M1352.3 661.4h0M1353.7 661.2h0M1357.8 660.4h0M1331.5 662.5h0M1334.7 664.3h0M1337.5 664.0h0M1339.8 664.7h0M1344.9 663.8h0M1346.7 664.0h0M1350.3 663.9h0M1353.7 664.5h0M1356.1 664.9h0M1359.9 664.5h0M1364.4 664.4h0M1333.2 665.3h0M1335.5 667.1h0M1339.0 667.5h0M1341.3 665.2h0M1344.8 665.4h0M1349.2 666.7h0M1350.9 666.9h0M1354.4 665.3h0M1357.1 665.6h0M1359.5 666.9h0M1328.2 670.2h0M1332.9 668.0h0M1334.0 668.5h0M1338.0 670.1h0M1340.0 669.3h0M1342.9 668.7h0M1346.7 670.0h0M1348.9 668.5h0M1353.4 670.2h0M1355.8 670.3h0M1359.4 669.0h0M1360.8 669.8h0M1364.8 669.5h0M1367.6 669.1h0M1373.0 669.5h0M1328.6 670.3h0M1330.8 671.4h0M1332.0 672.7h0M1337.4 670.7h0M1338.3 670.4h0M1341.5 672.5h0M1346.1 672.3h0M1347.2 672.7h0M1350.3 672.4h0M1353.0 672.8h0M1356.9 670.8h0M1360.0 671.7h0M1364.6 672.4h0M1366.5 672.2h0M1370.6 672.3h0M1371.9 672.9h0M1330.7 675.1h0M1334.1 673.8h0M1337.4 673.2h0M1341.6 674.4h0M1346.3 674.6h0M1350.5 674.6h0M1351.5 673.3h0M1356.1 675.0h0M1360.0 674.5h0M1361.6 674.0h0M1363.9 675.2h0M1367.3 672.9h0M1369.7 673.2h0M1377.9 673.8h0M1330.9 676.8h0M1334.3 677.0h0M1336.0 677.1h0M1339.5 675.9h0M1343.6 678.0h0M1344.6 675.9h0M1349.3 675.6h0M1351.9 676.3h0M1353.1 677.6h0M1357.2 678.0h0M1360.1 675.7h0M1362.9 677.6h0M1365.0 675.9h0M1370.5 677.8h0M1373.2 676.9h0M1375.3 677.5h0M1328.5 679.0h0M1330.5 680.3h0M1335.6 680.4h0M1338.2 678.8h0M1340.9 678.4h0M1344.7 678.9h0M1346.0 680.2h0M1348.7 680.5h0M1354.0 679.9h0M1356.8 679.6h0M1359.4 680.6h0M1361.3 678.6h0M1364.7 679.3h0M1367.3 678.3h0M1370.7 678.8h0M1374.5 680.7h0M1327.6 681.3h0M1331.2 681.2h0M1332.9 680.8h0M1335.6 681.0h0M1338.9 682.0h0M1341.9 682.3h0M1346.4 681.5h0M1347.8 681.5h0M1352.4 682.7h0M1355.0 682.0h0M1357.8 681.3h0M1360.9 683.2h0M1363.3 683.1h0M1365.6 681.3h0M1370.0 681.6h0M1372.8 681.0h0M1374.5 683.1h0M1377.9 681.8h0M1331.3 684.1h0M1334.8 685.0h0M1336.5 684.2h0M1339.8 683.8h0M1342.8 683.6h0M1347.1 684.2h0M1350.0 683.8h0M1353.8 685.7h0M1356.4 685.0h0M1358.9 685.2h0M1362.7 684.0h0M1363.5 683.4h0M1368.2 685.7h0M1370.2 684.1h0M1374.6 685.0h0M1376.0 685.2h0M1380.9 683.4h0M1381.8 685.8h0M1327.1 686.1h0M1331.1 688.0h0M1334.2 686.8h0M1335.7 686.5h0M1340.5 686.7h0M1342.0 686.4h0M1344.9 687.8h0M1349.5 686.8h0M1351.1 686.5h0M1353.6 688.4h0M1358.0 686.1h0M1359.8 687.3h0M1362.6 687.7h0M1365.0 686.3h0M1369.2 687.0h0M1371.8 688.0h0M1376.6 686.9h0M1377.7 687.0h0M1331.5 689.4h0M1336.1 690.2h0M1338.6 689.0h0M1340.3 689.8h0M1343.8 690.4h0M1346.1 691.0h0M1350.6 688.7h0M1352.0 689.2h0M1355.3 691.1h0M1357.8 690.7h0M1362.7 688.6h0M1365.5 688.5h0M1366.7 689.2h0M1375.1 688.9h0M1376.6 690.8h0M1340.0 691.7h0M1341.0 691.2h0M1344.7 693.4h0M1349.1 693.2h0M1352.1 692.1h0M1355.5 693.2h0M1358.5 693.3h0M1360.2 691.3h0M1362.8 691.5h0M1365.0 693.2h0M1368.6 692.7h0M1373.3 693.1h0M1334.1 695.4h0M1338.1 693.8h0M1339.8 694.4h0M1344.5 695.5h0M1345.9 694.1h0M1350.7 695.8h0M1351.9 694.4h0M1357.0 695.5h0M1358.2 693.7h0M1361.2 695.2h0M1363.7 694.8h0M1369.0 696.3h0M1371.8 693.8h0M1373.2 695.5h0M1376.8 694.0h0M1337.0 697.7h0M1340.6 696.9h0M1345.3 698.1h0M1347.1 698.5h0M1354.9 697.0h0M1358.6 697.4h0M1359.1 697.3h0M1362.1 698.3h0M1366.0 696.7h0M1368.5 697.7h0M1373.3 696.7h0M1375.3 698.2h0M1335.3 700.7h0M1340.5 699.3h0M1346.4 699.7h0M1349.9 699.8h0M1353.2 701.1h0M1355.8 701.4h0M1357.6 700.9h0M1360.7 699.1h0M1363.7 701.4h0M1368.3 700.3h0M1370.0 701.0h0M1372.8 700.1h0M1378.1 699.4h0M1345.2 702.6h0M1347.0 702.4h0M1352.1 702.2h0M1354.5 701.7h0M1358.0 702.4h0M1359.9 701.4h0M1362.5 702.8h0M1366.6 702.5h0M1368.3 703.9h0M1371.8 701.7h0M1349.2 705.9h0M1355.1 705.5h0M1362.1 704.8h0M1365.2 704.3h0M1367.7 705.9h0M1370.4 705.1h0M1373.4 706.0h0M1354.1 706.6h0M1356.8 708.3h0M1360.9 708.9h0M1369.9 706.7h0M1351.1 710.8h0M1362.8 709.8h0M1368.5 709.4h0M1412.5 670.4h0M1414.9 669.8h0M1382.5 672.3h0M1407.8 672.6h0M1410.6 672.0h0M1418.4 673.1h0M1387.2 675.9h0M1407.6 675.1h0M1409.0 675.4h0M1412.6 675.7h0M1415.6 675.0h0M1419.7 673.8h0M1424.4 673.6h0M1379.4 678.2h0M1385.0 677.5h0M1387.9 678.8h0M1392.9 678.8h0M1395.8 676.6h0M1398.0 678.5h0M1401.0 678.4h0M1403.7 678.4h0M1409.1 676.8h0M1411.5 676.0h0M1414.7 676.5h0M1416.9 678.3h0M1420.7 676.8h0M1423.4 677.6h0M1427.4 676.3h0M1430.7 678.0h0M1434.6 677.5h0M1435.5 677.8h0M1382.2 681.1h0M1391.7 678.8h0M1392.7 678.9h0M1397.2 680.5h0M1399.5 679.4h0M1402.1 679.3h0M1411.0 681.3h0M1411.8 679.6h0M1415.7 679.4h0M1420.3 679.5h0M1421.6 679.8h0M1424.8 680.8h0M1429.1 679.2h0M1431.6 680.8h0M1435.9 679.4h0M1440.2 680.0h0M1443.7 680.4h0M1450.1 679.7h0M1388.1 682.9h0M1392.7 683.2h0M1396.5 683.5h0M1397.8 682.6h0M1401.0 683.2h0M1403.7 683.0h0M1408.4 682.3h0M1412.7 682.3h0M1415.5 683.1h0M1417.5 683.8h0M1421.9 683.5h0M1422.5 682.7h0M1426.8 681.4h0M1429.5 681.6h0M1431.9 681.9h0M1436.7 684.0h0M1440.1 682.3h0M1442.1 682.4h0M1445.8 684.1h0M1448.0 683.3h0M1451.8 681.7h0M1462.9 683.8h0M1388.2 684.6h0M1390.8 684.5h0M1395.0 684.2h0M1405.5 685.0h0M1410.8 684.2h0M1415.7 686.4h0M1418.1 684.2h0M1431.4 685.0h0M1437.3 686.3h0M1440.8 686.9h0M1445.1 685.1h0M1447.2 685.3h0M1449.8 686.5h0M1454.8 686.8h0M1460.6 686.2h0M1393.0 687.7h0M1398.0 687.1h0M1401.1 689.0h0M1418.5 689.3h0M1439.0 688.6h0M1443.7 687.4h0M1446.6 688.3h0M1448.0 687.0h0M1451.7 687.3h0M1456.5 688.5h0M1457.8 687.7h0M1461.7 687.5h0M1463.4 688.1h0M1467.4 689.6h0M1448.8 692.2h0M1451.7 692.4h0M1455.1 692.3h0M1457.6 690.9h0M1461.2 692.4h0M1448.5 695.1h0M1452.1 694.4h0M1455.5 693.9h0M1459.5 694.5h0M1462.4 694.9h0M1464.8 695.1h0M1467.7 693.1h0M1450.8 696.9h0M1453.8 697.8h0M1457.3 695.1h0M1460.2 696.7h0M1463.6 697.3h0M1467.4 697.4h0M1448.3 699.3h0M1451.9 697.9h0M1455.5 698.1h0M1458.7 698.3h0M1462.5 698.8h0M1465.4 699.6h0M1468.3 698.0h0M1450.8 702.1h0M1453.4 702.8h0M1455.9 702.9h0M1460.0 703.0h0M1464.0 701.6h0M1465.3 702.0h0M1439.9 704.5h0M1444.7 703.6h0M1449.9 704.4h0M1453.1 703.6h0M1455.2 703.9h0M1457.4 705.0h0M1461.6 705.1h0M1466.0 705.3h0M1468.0 705.0h0M1472.5 703.6h0M1444.1 707.3h0M1447.1 708.5h0M1452.0 708.7h0M1453.9 707.5h0M1457.8 707.7h0M1459.2 706.6h0M1462.0 708.4h0M1446.0 711.2h0M1449.8 708.8h0M1451.1 711.5h0M1456.3 711.2h0M1459.8 709.2h0M1461.4 709.6h0M1446.8 713.2h0M1453.9 711.7h0M1457.7 712.6h0M1461.2 711.5h0M1454.5 715.6h0M1388.9 702.3h0M1375.0 705.1h0M1381.0 703.3h0M1382.4 704.8h0M1374.8 705.8h0M1381.6 706.5h0M1386.2 707.4h0M1389.5 707.0h0M1426.5 705.4h0M1433.4 706.8h0M1378.6 709.6h0M1381.3 708.2h0M1384.8 709.3h0M1387.7 710.2h0M1390.1 708.6h0M1393.5 710.2h0M1395.5 709.3h0M1429.0 709.0h0M1430.3 707.9h0M1434.4 710.4h0M1377.9 710.8h0M1383.7 712.8h0M1388.7 710.8h0M1391.2 712.7h0M1395.9 712.3h0M1397.8 710.8h0M1422.6 711.9h0M1426.7 713.1h0M1429.6 712.9h0M1431.7 713.4h0M1436.9 710.8h0M1438.1 712.8h0M1442.2 712.0h0M1445.7 711.9h0M1447.3 713.3h0M1382.5 715.1h0M1387.9 714.4h0M1389.5 714.4h0M1391.8 714.1h0M1397.2 715.6h0M1398.2 714.0h0M1404.6 715.9h0M1407.9 715.1h0M1418.5 715.4h0M1422.3 714.1h0M1423.5 713.5h0M1427.9 714.2h0M1430.3 713.6h0M1434.4 715.5h0M1437.8 715.5h0M1440.9 715.4h0M1443.9 714.1h0M1450.2 715.0h0M1389.6 717.8h0M1391.6 716.9h0M1394.0 716.9h0M1398.9 717.3h0M1401.1 717.1h0M1404.0 716.9h0M1406.7 716.3h0M1409.7 717.0h0M1416.7 717.9h0M1418.5 717.7h0M1423.7 716.6h0M1429.9 716.3h0M1433.7 717.3h0M1434.4 717.5h0M1439.6 717.8h0M1441.8 716.1h0M1444.7 716.7h0M1447.1 718.7h0M1452.6 718.2h0M1391.6 719.3h0M1402.5 719.6h0M1406.3 721.4h0M1409.9 721.4h0M1412.2 720.8h0M1415.3 720.7h0M1417.1 720.5h0M1421.3 721.5h0M1425.8 720.1h0M1426.7 719.5h0M1433.4 720.4h0M1438.4 719.4h0M1441.6 720.2h0M1443.4 721.2h0M1447.3 720.1h0M1448.9 718.8h0M1453.0 719.2h0M1403.3 722.7h0M1407.6 723.0h0M1411.0 723.3h0M1414.8 724.2h0M1415.4 723.6h0M1420.6 721.8h0M1423.3 723.7h0M1427.3 722.7h0M1428.0 723.3h0M1433.8 724.2h0M1435.3 724.2h0M1438.8 724.2h0M1442.3 723.2h0M1444.6 721.7h0M1402.2 725.9h0M1408.3 726.1h0M1415.2 724.3h0M1417.5 725.2h0M1421.2 726.2h0M1423.4 726.8h0M1429.0 725.1h0M1431.5 725.5h0M1434.0 726.7h0M1438.1 724.5h0M1440.2 726.8h0M1444.1 726.3h0M1446.8 727.0h0M1449.2 725.4h0M1412.5 728.1h0M1415.2 729.2h0M1419.1 728.3h0M1422.7 729.4h0M1425.1 727.5h0M1429.4 729.7h0M1432.3 727.6h0M1435.8 727.4h0M1438.0 729.3h0M1412.7 732.2h0M1415.3 730.5h0M1418.0 730.7h0M1422.2 732.0h0M1425.1 731.9h0M1426.4 730.0h0M1430.9 730.4h0M1433.2 732.4h0M1437.5 731.6h0M1413.5 732.6h0M1417.2 733.5h0M1418.9 732.9h0M1423.9 734.6h0M1427.2 732.6h0M1430.6 735.0h0M1431.7 732.8h0M1413.2 736.7h0M1414.0 735.2h0M1418.3 735.6h0M1421.5 736.0h0M1425.7 737.5h0M1427.9 737.9h0M1412.2 739.3h0M1416.9 738.4h0M1419.7 739.7h0M1421.7 740.6h0M1425.5 738.3h0M1428.4 740.6h0M1410.5 741.7h0M1415.0 740.8h0M1418.5 740.7h0M1421.0 741.3h0M1423.7 742.0h0M1410.3 744.1h0M1414.0 744.5h0M1415.3 745.8h0M1420.2 744.9h0M1423.9 743.6h0M1415.5 747.0h0M1417.2 747.2h0M1420.8 746.5h0M1424.0 746.5h0M1412.2 750.4h0M1416.8 750.7h0M1420.0 753.2h0M1387.6 690.9h0M1396.5 690.0h0M1401.8 687.1h0M1433.3 686.7h0M1444.0 689.7h0M1380.2 696.4h0M1389.2 695.3h0M1393.3 695.8h0M1397.7 693.3h0M1414.6 696.7h0M1439.7 694.0h0M1381.9 698.6h0M1391.2 702.4h0M1404.3 700.5h0M1413.5 700.4h0M1433.3 701.1h0M1439.1 698.3h0M1444.4 702.3h0M1392.8 702.6h0M1399.5 706.1h0M1403.6 703.4h0M1410.9 705.5h0M1437.2 705.9h0M1440.4 704.5h0M1410.5 709.2h0M1411.3 708.8h0M1281.4 642.4h0M1292.6 649.6h0M1300.8 655.7h0M1307.9 657.7h0M1314.0 663.8h0M1319.1 651.6h0M1286.5 692.4h0M1296.7 700.5h0M1306.9 692.4h0M1314.0 689.3h0M1322.2 673.0h0M1343.6 718.9h0M1371.1 656.7h0M1393.5 660.8h0M1390.5 725.0h0M1397.6 730.1h0M1393.5 737.2h0M1400.6 742.3h0M1410.8 668.9h0M1304.8 656.7h0M1311.0 690.3h0M1303.8 695.4h0M1370.0 742.3h0M1377.2 748.4h0M1369.0 750.5h0M1372.0 757.0h0" stroke="#b8dd97" stroke-width="4.8"/>
<path d="M1407.5 708.0h0" stroke="#e08a3a" stroke-width="4.8"/>
<path d="M1371.0 716.0h0" stroke="#5e3b8e" stroke-width="4.8"/>
<path d="M1387.9 756.5h0M1381.2 758.6h0M1383.6 760.3h0M1387.4 759.5h0M1388.6 758.0h0M1357.0 761.8h0M1362.7 762.2h0M1366.9 760.9h0M1376.7 762.8h0M1382.8 761.0h0M1386.2 761.8h0M1388.5 763.3h0M1390.6 762.7h0M1356.5 764.3h0M1360.8 764.2h0M1363.3 764.6h0M1365.2 764.5h0M1369.9 764.4h0M1374.1 765.8h0M1375.1 764.6h0M1380.9 765.1h0M1381.6 765.7h0M1385.7 765.8h0M1389.8 764.4h0M1358.1 769.1h0M1361.9 767.9h0M1363.6 768.6h0M1367.0 766.5h0M1371.8 768.0h0M1377.1 768.5h0M1382.1 766.2h0M1384.1 769.0h0M1389.3 766.8h0M1392.4 766.1h0M1361.3 770.7h0M1362.0 771.8h0M1366.3 769.4h0M1368.6 770.4h0M1374.4 771.1h0M1375.3 770.8h0M1378.4 769.6h0M1383.4 769.6h0M1387.5 771.0h0M1400.8 771.3h0M1401.5 770.9h0M1358.5 773.7h0M1365.1 773.0h0M1367.0 774.4h0M1372.9 774.1h0M1373.5 772.1h0M1379.3 773.8h0M1380.3 773.2h0M1385.4 773.9h0M1387.8 774.3h0M1391.5 773.6h0M1394.3 774.7h0M1396.6 773.8h0M1404.2 774.4h0M1406.7 772.6h0M1359.3 777.3h0M1362.3 777.5h0M1365.3 775.5h0M1369.4 774.9h0M1373.0 776.3h0M1375.4 777.3h0M1380.6 777.0h0M1382.5 776.2h0M1386.0 776.1h0M1390.5 777.6h0M1392.8 777.2h0M1397.0 776.0h0M1400.3 775.9h0M1402.5 777.5h0M1405.3 775.3h0M1362.4 779.7h0M1364.6 779.0h0M1369.6 779.9h0M1371.0 778.4h0M1373.7 778.2h0M1380.9 780.1h0M1385.9 779.5h0M1386.8 778.7h0M1391.0 780.3h0M1393.5 778.5h0M1396.8 780.4h0M1401.1 780.1h0M1404.4 780.2h0M1406.9 777.8h0M1411.0 780.3h0M1356.0 782.4h0M1361.1 781.7h0M1363.0 780.6h0M1367.9 780.9h0M1370.2 781.2h0M1372.2 781.3h0M1375.8 782.7h0M1379.7 782.0h0M1382.6 782.8h0M1387.3 781.3h0M1388.7 781.5h0M1393.7 783.0h0M1396.0 783.0h0M1400.9 782.6h0M1350.6 785.2h0M1356.0 783.5h0M1357.8 784.8h0M1361.4 783.9h0M1365.1 785.1h0M1369.6 784.3h0M1372.7 784.7h0M1375.3 783.5h0M1380.5 783.4h0M1383.3 783.5h0M1389.3 784.2h0M1392.8 785.2h0M1393.5 783.7h0M1397.6 783.8h0M1401.9 783.6h0M1404.7 785.6h0M1408.7 784.1h0M1354.5 788.9h0M1355.6 788.8h0M1360.1 787.5h0M1363.1 786.8h0M1365.7 787.5h0M1368.8 788.7h0M1372.8 786.1h0M1375.5 788.0h0M1379.0 786.4h0M1383.7 788.4h0M1386.8 786.6h0M1391.6 787.5h0M1394.8 788.4h0M1399.9 788.3h0M1403.9 788.6h0M1405.2 788.0h0M1410.4 786.8h0M1350.8 790.3h0M1353.8 790.3h0M1358.6 791.0h0M1360.7 789.3h0M1364.5 791.7h0M1368.2 790.9h0M1379.2 790.8h0M1380.7 789.3h0M1384.3 791.2h0M1388.0 789.9h0M1391.6 789.1h0M1398.6 791.8h0M1400.1 790.7h0M1405.9 789.5h0M1406.9 789.4h0M1348.3 792.2h0M1349.2 793.8h0M1354.0 792.0h0M1356.6 794.1h0M1360.5 792.9h0M1363.6 792.0h0M1367.3 794.6h0M1370.0 794.8h0M1374.2 794.2h0M1377.0 793.9h0M1379.1 794.5h0M1387.7 793.5h0M1388.6 792.3h0M1391.6 794.7h0M1396.0 792.2h0M1399.3 792.0h0M1401.4 793.8h0M1405.1 792.6h0M1410.2 794.4h0M1344.5 795.0h0M1347.0 796.1h0M1351.1 794.8h0M1354.8 797.0h0M1357.8 795.8h0M1360.6 796.9h0M1363.6 796.6h0M1368.8 795.7h0M1372.9 795.6h0M1375.7 795.0h0M1379.5 796.3h0M1382.1 797.1h0M1383.5 797.0h0M1389.2 795.9h0M1391.6 795.2h0M1395.6 795.2h0M1399.4 795.5h0M1401.6 797.4h0M1404.5 797.0h0M1407.0 795.2h0M1340.7 798.0h0M1347.2 800.1h0M1348.8 800.0h0M1357.2 798.4h0M1358.9 799.4h0M1362.8 800.4h0M1365.1 799.7h0M1368.8 800.0h0M1373.4 798.3h0M1375.2 799.2h0M1380.3 798.8h0M1382.1 799.1h0M1385.3 800.1h0M1388.3 798.5h0M1393.1 799.1h0M1395.4 800.0h0M1402.3 797.8h0M1405.1 800.2h0M1346.4 801.6h0M1348.0 802.1h0M1353.9 800.9h0M1357.4 802.0h0M1360.4 802.4h0M1365.1 802.7h0M1368.7 802.4h0M1371.1 800.4h0M1373.5 801.2h0M1378.1 802.9h0M1380.2 800.4h0M1385.8 803.0h0M1389.1 803.2h0M1391.4 802.8h0M1395.4 803.1h0M1397.3 801.2h0M1401.9 802.5h0M1340.7 805.4h0M1347.9 804.7h0M1350.9 804.0h0M1352.1 804.5h0M1355.6 805.6h0M1360.7 803.5h0M1364.0 805.9h0M1366.3 806.1h0M1374.6 805.0h0M1376.0 806.2h0M1380.8 806.2h0M1386.5 804.8h0M1390.8 804.9h0M1391.6 806.1h0M1397.8 804.6h0M1398.7 803.6h0M1403.4 803.8h0M1407.1 805.7h0M1343.2 806.4h0M1344.0 807.7h0M1348.1 806.9h0M1351.8 806.9h0M1355.0 806.3h0M1358.9 807.8h0M1360.5 807.2h0M1364.2 808.2h0M1369.3 807.2h0M1371.6 807.0h0M1373.6 808.4h0M1377.3 807.3h0M1381.2 807.3h0M1385.7 807.3h0M1389.4 808.5h0M1391.2 806.2h0M1395.8 808.0h0M1397.3 808.2h0M1399.8 806.4h0M1404.2 809.0h0M1337.8 810.1h0M1338.7 811.8h0M1344.7 809.6h0M1345.9 811.5h0M1349.9 810.1h0M1352.4 810.4h0M1356.9 811.2h0M1361.1 809.1h0M1364.7 809.4h0M1365.8 810.7h0M1369.7 811.4h0M1373.0 811.3h0M1377.5 811.3h0M1379.8 811.1h0M1383.7 810.2h0M1386.8 810.9h0M1390.2 809.8h0M1392.4 809.1h0M1397.4 809.3h0M1398.9 810.4h0M1401.9 811.0h0M1406.9 809.1h0M1322.2 813.5h0M1338.1 813.6h0M1341.8 814.7h0M1345.8 812.1h0M1348.2 813.5h0M1351.5 812.4h0M1353.9 811.9h0M1362.9 812.9h0M1364.9 812.5h0M1369.7 814.1h0M1370.5 812.5h0M1373.9 813.5h0M1377.4 814.4h0M1380.0 811.9h0M1386.8 814.5h0M1391.6 812.7h0M1395.8 812.6h0M1398.3 812.9h0M1399.9 814.5h0M1404.9 812.0h0M1329.6 817.5h0M1332.9 815.6h0M1338.3 817.4h0M1341.4 815.2h0M1342.8 816.1h0M1345.3 816.6h0M1348.7 817.1h0M1352.9 816.7h0M1357.0 814.7h0M1359.0 816.6h0M1362.9 817.1h0M1366.0 816.9h0M1370.1 816.1h0M1374.1 815.8h0M1376.0 814.7h0M1384.1 816.6h0M1387.7 816.7h0M1389.9 817.6h0M1391.6 817.2h0M1395.0 815.0h0M1402.6 816.4h0M1406.6 816.9h0M1322.8 819.7h0M1325.7 819.8h0M1327.3 819.0h0M1331.8 819.0h0M1336.3 818.7h0M1338.7 817.7h0M1345.0 819.1h0M1349.2 820.1h0M1352.8 818.9h0M1354.8 820.0h0M1359.3 819.8h0M1360.2 818.3h0M1363.8 820.3h0M1368.7 819.5h0M1371.9 818.1h0M1374.9 819.8h0M1377.3 820.4h0M1380.8 818.5h0M1386.2 819.9h0M1389.2 820.3h0M1390.2 817.8h0M1394.7 819.5h0M1396.7 817.8h0M1400.3 820.3h0M1403.2 819.7h0M1409.1 819.5h0M1320.5 821.1h0M1324.6 820.5h0M1326.3 821.1h0M1331.0 822.0h0M1332.2 821.6h0M1336.0 822.2h0M1339.9 822.5h0M1343.2 822.6h0M1347.8 822.4h0M1350.3 822.2h0M1354.7 822.5h0M1357.9 821.1h0M1359.3 822.4h0M1363.9 820.8h0M1368.6 821.5h0M1373.0 822.9h0M1375.4 822.2h0M1379.6 820.5h0M1383.7 821.2h0M1386.9 822.9h0M1390.0 821.9h0M1391.7 822.3h0M1396.8 823.2h0M1398.4 821.6h0M1403.6 821.8h0M1323.0 825.5h0M1326.4 823.4h0M1332.4 824.9h0M1342.9 825.9h0M1346.3 823.4h0M1347.6 825.1h0M1351.9 824.8h0M1354.0 825.5h0M1359.5 825.8h0M1361.3 824.8h0M1366.1 825.0h0M1367.5 825.2h0M1370.6 824.6h0M1376.1 825.6h0M1377.7 825.2h0M1381.4 823.7h0M1383.4 824.3h0M1389.2 824.2h0M1391.6 824.3h0M1396.0 825.9h0M1397.0 823.5h0M1401.8 823.7h0M1410.2 826.0h0M1351.1 828.3h0M1355.6 828.2h0M1360.6 827.8h0M1363.8 827.7h0M1367.6 828.8h0M1370.3 828.0h0M1371.8 828.7h0M1376.4 826.9h0M1378.7 828.7h0M1384.2 827.0h0M1387.8 827.4h0M1388.8 827.3h0M1392.9 828.3h0M1396.2 828.8h0M1400.1 827.4h0M1347.5 831.9h0M1352.1 830.4h0M1359.1 829.2h0M1360.7 831.9h0M1365.2 831.2h0M1369.6 830.2h0M1372.4 830.8h0M1375.5 830.4h0M1378.2 829.0h0M1382.5 829.8h0M1385.3 830.4h0M1388.1 830.9h0M1391.7 830.4h0M1393.2 831.1h0M1348.0 834.7h0M1349.5 832.9h0M1352.1 832.9h0M1356.7 834.4h0M1360.4 833.1h0M1362.1 832.8h0M1367.2 834.3h0M1370.9 833.3h0M1371.9 832.4h0M1377.6 834.2h0M1378.8 834.7h0M1387.2 834.0h0M1390.7 832.2h0M1393.8 834.1h0M1351.2 835.3h0M1355.0 835.4h0M1359.5 835.3h0M1361.2 836.9h0M1364.8 836.5h0M1369.7 835.3h0M1370.3 836.0h0M1374.5 835.6h0M1381.4 836.6h0M1384.3 836.2h0M1365.8 837.6h0M1371.7 838.4h0M1377.1 837.9h0M1414.0 758.3h0M1412.6 760.5h0M1411.6 761.7h0M1412.8 765.1h0M1409.6 767.1h0M1352.0 776.0h0M1336.0 800.0h0M1389.0 752.0h0M1396.0 757.0h0" stroke="#abc6a9" stroke-width="4.8"/>
<path d="M1352.0 777.0h0M1335.0 812.0h0" stroke="#b8dd97" stroke-width="4.8"/>
<path d="M1272.1 458.7h0M1274.6 460.1h0M1280.4 460.7h0M1265.2 461.4h0M1266.3 463.1h0M1271.0 460.8h0M1273.2 463.1h0M1276.3 460.8h0M1279.5 463.0h0M1281.4 461.8h0M1286.7 462.5h0M1266.0 465.2h0M1267.9 464.4h0M1271.6 463.6h0M1275.7 464.7h0M1276.8 465.3h0M1280.8 465.0h0M1282.8 463.4h0M1258.1 466.1h0M1262.2 467.2h0M1265.5 468.0h0M1266.6 468.5h0M1271.0 467.0h0M1272.7 467.7h0M1275.6 468.1h0M1279.2 467.9h0M1282.0 466.0h0M1285.1 468.3h0M1287.5 468.5h0M1259.0 468.6h0M1263.3 470.3h0M1267.0 469.4h0M1267.9 469.5h0M1271.2 469.1h0M1276.3 469.1h0M1279.3 469.2h0M1280.9 468.8h0M1285.0 468.7h0M1288.2 471.2h0M1289.7 470.6h0M1292.0 470.0h0M1298.0 470.4h0M1261.2 471.8h0M1263.7 472.8h0M1266.7 471.2h0M1270.2 473.5h0M1274.0 471.1h0M1276.6 471.6h0M1279.9 471.3h0M1281.4 471.9h0M1284.9 471.8h0M1289.5 473.5h0M1292.8 472.8h0M1294.7 472.2h0M1269.6 474.0h0M1271.5 474.9h0M1275.9 475.8h0M1276.9 476.3h0M1282.1 475.0h0M1283.5 474.1h0M1288.2 474.5h0M1291.0 474.6h0M1292.4 476.1h0M1296.3 476.4h0M1298.7 475.5h0M1300.9 474.1h0M1266.8 477.7h0M1272.8 476.5h0M1278.4 478.6h0M1282.4 478.3h0M1285.9 477.6h0M1289.2 476.6h0M1291.7 477.6h0M1295.3 477.6h0M1297.0 478.3h0M1300.2 476.7h0M1304.1 478.4h0M1306.9 478.0h0M1276.1 479.4h0M1281.3 480.1h0M1282.7 480.7h0M1290.4 481.6h0M1292.7 479.5h0M1301.8 480.5h0M1305.5 480.6h0M1308.6 480.5h0M1310.2 481.6h0M1304.5 482.2h0M1306.3 482.0h0M1309.1 482.7h0M1299.0 485.1h0M1302.4 484.6h0M1243.4 465.9h0M1244.4 467.4h0M1249.8 464.8h0M1249.9 471.0h0M1251.2 468.4h0M1248.2 465.6h0M1245.5 467.0h0M1247.5 467.2h0M1241.0 461.0h0M1246.9 465.2h0M1250.8 465.1h0M1245.2 466.8h0M1236.3 467.6h0M1239.0 464.2h0M1247.9 460.8h0M1247.9 464.2h0M1248.8 468.6h0M1235.2 464.4h0M1239.3 467.9h0M1237.9 465.3h0M1252.5 467.3h0M1238.4 463.0h0M1248.6 464.2h0M1246.2 464.2h0M1238.8 465.7h0M1251.2 467.7h0M1237.3 464.7h0M1249.5 463.8h0M1246.1 467.5h0M1250.1 462.9h0M1247.8 464.1h0M1236.0 462.2h0M1250.7 469.3h0M1252.9 463.5h0M1237.1 464.9h0M1247.7 463.8h0M1237.7 468.1h0M1238.5 466.4h0M1247.4 466.2h0M1231.1 465.2h0M1241.9 468.0h0M1245.9 462.7h0M1238.7 469.0h0M1245.8 469.2h0M1240.5 469.0h0M1247.2 471.8h0M1246.7 474.3h0M1250.1 478.1h0M1242.2 479.0h0M1244.5 481.7h0M1244.0 485.3h0M1249.0 486.6h0M1251.4 491.4h0M1243.6 491.6h0M1246.8 496.2h0M1243.2 497.1h0M1242.6 500.4h0M1235.9 499.4h0M1242.9 504.5h0M1235.5 507.6h0M1240.3 509.7h0M1236.5 509.8h0M1234.1 509.7h0M1246.6 513.4h0M1240.8 513.2h0M1243.6 513.9h0M1234.4 512.6h0M1228.1 511.7h0M1237.7 514.8h0M1241.8 516.6h0M1239.4 516.7h0M1243.9 518.6h0M1237.4 518.1h0M1240.0 519.3h0M1240.4 519.9h0M1235.6 519.4h0M1236.2 520.2h0M1239.2 521.8h0M1234.5 521.1h0M1240.1 523.7h0M1235.6 523.0h0M1239.9 524.6h0M1241.8 526.1h0M1246.5 528.2h0M1237.9 526.7h0M1238.2 527.5h0M1237.9 528.1h0M1231.1 527.0h0M1232.4 528.6h0M1239.0 530.5h0M1229.9 529.5h0M1236.4 531.3h0M1231.1 531.0h0M1231.7 532.0h0M1242.7 535.3h0M1239.2 534.9h0M1231.7 534.4h0M1238.7 536.4h0M1235.1 536.3h0M1233.9 536.8h0M1235.1 538.1h0M1238.1 538.9h0M1229.4 537.7h0M1231.5 539.4h0M1232.6 540.4h0M1238.5 542.0h0M1234.9 542.5h0M1229.1 541.9h0M1233.2 548.2h0M1233.5 543.0h0M1240.1 541.0h0M1240.0 549.0h0M1245.0 548.6h0M1231.8 543.3h0M1234.1 541.9h0M1234.2 547.6h0M1235.0 549.8h0M1237.5 544.7h0M1240.2 544.9h0M1239.2 551.1h0M1229.8 546.6h0M1240.1 544.9h0M1239.2 540.6h0M1227.7 542.1h0M1237.0 543.5h0M1238.4 548.7h0M1240.0 549.9h0M1243.9 548.6h0M1233.9 547.6h0M1245.4 548.8h0M1230.1 548.5h0M1233.8 541.9h0M1236.8 552.9h0M1239.2 546.9h0M1234.3 544.6h0M1228.6 546.6h0M1235.2 546.7h0M1235.7 551.1h0M1234.0 553.2h0M1237.2 545.5h0M1232.4 544.9h0M1240.2 547.6h0M1231.7 544.2h0M1239.9 543.4h0M1237.9 546.5h0M1237.9 547.0h0M1234.8 541.5h0M1228.9 543.0h0M1242.5 550.1h0M1240.9 548.0h0M1230.4 542.7h0M1235.9 543.9h0M1237.2 543.0h0M1239.8 542.8h0M1233.9 537.9h0M1227.3 551.1h0M1241.9 544.4h0M1230.2 544.5h0M1230.3 547.6h0M1235.5 551.6h0M1239.3 546.2h0M1238.3 541.2h0M1235.8 551.0h0M1240.7 549.0h0M1241.1 547.8h0M1243.7 549.5h0M1245.0 550.0h0M1245.6 550.3h0M1243.1 545.8h0M1246.1 547.3h0M1247.4 548.8h0M1247.5 546.9h0M1248.8 547.6h0M1248.5 545.5h0M1249.2 545.5h0M1246.3 539.9h0M1251.0 544.6h0M1251.2 544.4h0M1250.7 542.1h0M1249.9 539.7h0M1248.4 535.5h0M1254.6 542.9h0M1253.4 540.1h0M1252.6 537.6h0M1256.1 540.6h0M1255.6 539.1h0M1253.2 534.6h0M1256.4 537.2h0M1256.8 536.5h0M1258.8 537.4h0M1255.3 531.9h0M1259.0 535.2h0M1258.3 532.7h0M1260.5 534.4h0M1260.9 533.4h0M1263.7 537.6h0M1266.0 539.8h0M1263.5 532.6h0M1265.1 534.3h0M1265.4 533.0h0M1264.7 529.1h0M1267.5 533.4h0M1267.1 531.1h0M1269.4 533.3h0M1269.9 532.2h0M1269.0 529.4h0M1269.3 527.4h0M1271.6 530.1h0M1272.2 530.7h0M1271.6 527.3h0M1274.0 531.0h0M1272.3 523.8h0M1274.6 528.0h0M1276.0 528.8h0M1272.6 520.4h0M1274.4 522.2h0M1277.5 525.5h0M1279.1 526.7h0M1281.1 529.7h0M1282.2 528.4h0M1281.0 526.1h0M1282.6 526.0h0M1281.0 522.7h0M1284.9 527.4h0M1282.4 521.9h0M1283.8 522.7h0M1287.1 525.1h0M1286.8 523.5h0M1283.0 515.5h0M1285.6 518.7h0M1286.7 518.0h0M1289.4 520.9h0M1288.5 518.5h0M1291.4 521.4h0M1291.6 519.8h0M1292.5 519.5h0M1291.6 517.5h0M1288.7 511.7h0M1296.5 521.5h0M1292.3 514.6h0M1297.4 520.0h0M1296.2 516.2h0M1299.6 519.5h0M1295.6 513.4h0M1295.6 511.9h0M1298.7 513.8h0M1302.4 517.8h0M1298.3 511.5h0M1303.8 516.8h0M1299.3 510.3h0M1303.9 514.2h0M1300.8 509.0h0M1305.3 514.2h0M1290.6 524.0h0M1289.8 524.8h0M1288.7 526.9h0M1284.2 531.2h0M1291.6 527.2h0M1288.6 530.4h0M1290.7 530.4h0M1289.9 531.9h0M1291.1 531.9h0M1287.6 535.6h0M1291.3 533.5h0M1296.4 531.5h0M1289.3 537.4h0M1294.7 535.5h0M1294.1 536.7h0M1296.5 535.9h0M1299.5 535.7h0M1296.1 538.6h0M1295.2 540.3h0M1296.8 540.4h0M1296.8 541.9h0M1295.7 543.0h0M1298.2 543.0h0M1294.8 545.3h0M1301.9 542.8h0M1298.4 546.4h0M1298.5 546.8h0M1303.2 545.6h0M1304.0 546.0h0M1299.6 549.6h0M1301.2 549.0h0M1303.0 548.4h0M1301.5 552.4h0M1304.1 550.0h0M1302.2 555.6h0M1306.2 549.9h0M1305.6 552.9h0M1308.6 550.8h0M1307.2 554.0h0M1309.6 551.3h0M1303.2 488.3h0M1308.6 490.7h0M1304.6 490.8h0M1309.9 494.4h0M1311.9 496.7h0M1307.6 497.2h0M1306.3 498.6h0M1305.3 500.6h0M1303.3 502.5h0M1302.0 504.4h0M1301.7 505.2h0M1301.6 506.9h0M1303.0 510.4h0M1310.4 501.9h0M1312.9 506.7h0M1317.2 503.5h0M1318.5 505.4h0M1331.7 483.8h0M1317.6 484.2h0M1331.4 478.5h0M1329.9 482.4h0M1325.8 482.1h0M1333.8 483.1h0M1323.5 481.2h0M1333.8 484.2h0M1331.3 481.1h0M1335.1 479.4h0M1326.3 483.3h0M1326.9 486.7h0M1328.3 483.1h0M1324.7 482.8h0M1338.6 486.1h0M1320.7 485.4h0M1336.1 478.2h0M1322.5 478.1h0M1329.4 478.3h0M1338.2 480.8h0M1329.2 482.3h0M1333.8 485.4h0M1329.3 477.8h0M1321.5 480.7h0M1333.1 482.5h0M1333.7 482.6h0M1327.1 481.7h0M1337.1 482.1h0M1331.0 485.5h0M1316.1 481.9h0M1324.1 488.2h0M1328.4 484.9h0M1322.0 485.9h0M1317.6 483.7h0M1335.4 484.1h0M1330.2 486.0h0M1322.1 479.3h0M1324.4 480.7h0M1324.8 481.1h0M1320.0 486.4h0M1325.7 480.7h0M1332.1 487.3h0M1335.9 482.5h0M1324.8 483.2h0M1332.9 485.1h0M1325.0 498.0h0M1330.0 503.0h0M1322.0 505.0h0M1276.0 482.3h0M1266.1 489.4h0M1280.4 487.9h0M1266.0 496.3h0M1273.2 491.4h0M1299.8 497.3h0M1259.6 502.4h0M1277.0 501.8h0M1283.1 502.2h0M1298.2 502.3h0M1303.8 498.3h0M1249.5 506.5h0M1254.6 505.1h0M1275.7 510.9h0M1280.9 510.4h0M1296.4 504.8h0M1258.4 512.1h0M1268.9 512.2h0M1277.3 512.6h0M1262.0 527.7h0M1270.7 548.3h0M1207.5 576.2h0M1217.0 572.1h0M1364.0 485.0h0M1360.0 478.0h0M1436.0 426.0h0M1428.0 437.0h0" stroke="#e9cbab" stroke-width="4.8"/>
<path d="M1239.7 539.5h0M1240.5 541.0h0" stroke="#3fa9c4" stroke-width="4.8"/>
<path d="M1300.6 485.1h0" stroke="#6a1a5a" stroke-width="4.8"/>
<path d="M1284.3 510.9h0M1295.2 508.2h0M1280.2 526.8h0M1341.6 493.7h0M1368.0 471.7h0" stroke="#dba64f" stroke-width="4.8"/>
<path d="M1261.9 523.8h0M1330.0 498.0h0" stroke="#b5c4e7" stroke-width="4.8"/>
<path d="M1375.8 457.7h0M1383.4 457.0h0M1387.6 458.1h0M1369.4 460.4h0M1373.1 458.9h0M1375.8 460.6h0M1381.5 459.0h0M1395.0 459.9h0M1369.3 461.4h0M1371.5 461.5h0M1373.7 462.6h0M1377.8 462.7h0M1379.8 463.1h0M1382.7 461.0h0M1386.9 463.0h0M1371.5 465.9h0M1372.7 463.3h0M1375.5 465.0h0M1378.0 464.1h0M1381.1 463.9h0M1384.6 463.5h0M1387.8 463.4h0M1390.4 465.1h0M1395.0 464.5h0M1366.2 467.5h0M1369.8 466.6h0M1373.0 466.5h0M1374.0 466.4h0M1377.0 467.4h0M1380.8 466.9h0M1383.2 467.1h0M1385.9 466.6h0M1388.4 468.5h0M1371.4 471.1h0M1372.5 468.6h0M1375.0 470.8h0M1380.4 468.9h0M1381.6 468.7h0M1385.5 468.7h0M1388.5 469.9h0M1390.2 469.3h0M1370.0 473.5h0M1370.5 471.3h0M1374.5 471.1h0M1376.8 473.6h0M1381.2 472.8h0M1384.5 471.1h0M1387.8 473.2h0M1392.2 473.1h0M1371.5 474.8h0M1373.4 475.3h0M1375.9 474.9h0M1378.9 473.8h0M1382.8 474.2h0M1384.1 474.9h0M1389.3 474.7h0M1368.2 477.7h0M1373.0 478.0h0M1377.0 478.7h0M1379.7 478.7h0M1382.9 477.7h0M1395.2 476.3h0M1373.5 481.4h0M1398.4 464.4h0M1399.6 464.5h0M1400.9 466.3h0M1400.5 463.9h0M1400.1 460.9h0M1404.1 469.9h0M1402.9 464.5h0M1403.0 462.9h0M1402.7 461.7h0M1402.6 460.2h0M1403.8 460.3h0M1406.5 466.5h0M1405.5 460.9h0M1408.6 467.1h0M1408.6 465.2h0M1405.6 456.8h0M1408.3 462.7h0M1408.3 460.6h0M1409.4 462.0h0M1409.4 459.6h0M1410.0 460.0h0M1413.2 465.5h0M1412.0 461.1h0M1411.8 459.9h0M1412.9 460.7h0M1412.1 456.7h0M1417.3 467.4h0M1416.7 464.3h0M1413.4 455.4h0M1416.6 462.1h0M1415.8 457.7h0M1417.7 460.3h0M1415.8 454.5h0M1417.1 455.8h0M1420.3 463.4h0M1418.3 455.3h0M1420.3 458.6h0M1418.5 452.0h0M1420.6 455.6h0M1421.2 455.5h0M1423.5 461.2h0M1423.0 458.9h0M1425.1 462.7h0M1424.8 459.4h0M1425.7 459.6h0M1424.8 455.1h0M1426.0 456.5h0M1427.5 459.6h0M1426.0 453.1h0M1427.8 458.2h0M1427.5 454.8h0M1428.3 455.7h0M1427.3 449.4h0M1430.4 456.5h0M1429.8 453.2h0M1429.5 450.4h0M1431.5 454.3h0M1432.0 454.7h0M1432.5 455.0h0M1433.2 453.6h0M1432.7 458.0h0M1434.3 450.8h0M1434.7 453.0h0M1435.0 455.8h0M1436.5 450.6h0M1436.3 454.1h0M1437.9 448.5h0M1438.9 446.1h0M1439.0 450.6h0M1438.8 453.8h0M1438.8 458.1h0M1440.8 446.5h0M1439.8 460.2h0M1440.3 459.5h0M1442.3 451.2h0M1442.8 451.7h0M1442.2 459.5h0M1443.7 453.9h0M1444.8 452.6h0M1444.5 457.7h0M1444.6 461.3h0M1445.4 458.1h0M1445.3 465.5h0M1447.3 457.1h0M1448.0 451.8h0M1449.2 457.8h0M1448.0 453.0h0M1449.3 454.2h0M1450.2 455.4h0M1449.8 451.9h0M1451.2 454.1h0M1450.9 452.2h0M1452.5 455.1h0M1455.1 459.6h0M1455.1 458.4h0M1456.7 461.3h0M1455.6 455.3h0M1454.8 451.3h0M1455.1 450.1h0M1456.1 452.5h0M1458.1 456.2h0M1458.0 453.7h0M1459.7 456.4h0M1460.3 457.3h0M1458.7 449.0h0M1460.0 450.9h0M1461.8 455.6h0M1461.7 453.7h0M1462.7 453.6h0M1462.6 452.0h0M1462.5 449.1h0M1463.6 450.4h0M1464.1 449.6h0M1464.6 451.0h0M1465.6 450.2h0M1463.8 444.0h0M1465.8 453.6h0M1463.6 447.9h0M1465.5 450.7h0M1464.8 448.3h0M1463.5 445.1h0M1464.9 447.2h0M1462.3 441.1h0M1466.5 448.5h0M1467.9 449.7h0M1470.8 454.4h0M1467.5 447.0h0M1466.5 444.1h0M1466.4 442.9h0M1468.4 446.1h0M1465.4 439.3h0M1470.8 448.5h0M1473.6 452.9h0M1468.3 441.6h0M1472.0 447.8h0M1469.6 441.8h0M1474.0 449.1h0M1472.3 445.6h0M1473.3 446.4h0M1473.9 446.4h0M1473.6 445.0h0M1471.5 440.1h0M1476.1 447.1h0M1477.3 448.5h0M1477.2 447.6h0M1476.0 444.5h0M1476.2 443.8h0M1478.3 447.1h0M1474.9 439.2h0M1477.7 444.0h0M1477.2 441.8h0M1477.2 441.9h0M1476.3 440.6h0M1480.4 443.5h0M1475.7 438.8h0M1476.9 439.5h0M1479.0 440.8h0M1477.4 438.7h0M1480.5 440.6h0M1476.6 437.0h0M1477.2 437.0h0M1483.8 441.6h0M1479.9 437.8h0M1484.8 441.3h0M1477.5 434.3h0M1488.8 443.8h0M1480.9 436.2h0M1484.2 438.2h0M1481.9 435.7h0M1482.2 435.7h0M1484.2 436.8h0M1486.1 437.5h0M1484.6 435.8h0M1488.2 438.6h0M1482.7 432.8h0M1482.1 432.2h0M1487.1 435.5h0M1486.0 434.3h0M1483.3 431.4h0M1485.1 432.4h0M1482.5 431.0h0M1488.3 433.1h0M1488.3 432.6h0M1488.9 432.3h0M1488.4 431.9h0M1482.8 428.2h0M1485.8 429.1h0M1490.2 430.8h0M1490.6 430.8h0M1489.5 429.3h0M1485.1 426.9h0M1487.8 427.5h0M1491.6 428.9h0M1491.5 428.3h0M1490.1 427.2h0M1484.3 423.9h0M1489.5 426.1h0M1488.5 424.7h0M1492.2 426.4h0M1485.1 422.3h0M1490.5 424.5h0M1493.3 425.1h0M1489.7 423.1h0M1495.0 425.3h0M1492.7 421.0h0M1492.4 420.0h0M1493.1 414.1h0M1491.5 419.7h0M1489.8 426.7h0M1490.4 420.1h0M1489.8 419.5h0M1488.7 423.7h0M1489.8 415.5h0M1488.9 417.9h0M1488.2 418.2h0M1486.8 423.5h0M1486.8 418.8h0M1486.9 416.5h0M1486.6 415.7h0M1484.7 422.7h0M1484.5 421.5h0M1485.0 416.4h0M1482.3 426.2h0M1481.6 426.9h0M1481.7 425.9h0M1481.9 419.7h0M1482.1 418.5h0M1481.4 419.6h0M1481.1 417.4h0M1480.7 415.8h0M1480.1 416.4h0M1480.0 416.2h0M1478.3 420.3h0M1477.1 423.3h0M1478.3 420.7h0M1477.8 422.8h0M1478.0 425.1h0M1476.2 418.8h0M1476.0 419.7h0M1474.6 414.6h0M1475.1 419.4h0M1473.2 414.4h0M1473.6 416.9h0M1473.0 416.8h0M1473.5 422.6h0M1471.5 416.3h0M1472.1 420.0h0M1471.4 420.3h0M1470.3 418.5h0M1470.2 420.2h0M1468.8 415.9h0M1470.1 424.4h0M1468.1 416.3h0M1468.4 421.9h0M1468.6 424.3h0M1467.6 421.1h0M1467.0 421.4h0M1466.8 424.8h0M1466.0 421.4h0M1465.6 422.3h0M1464.7 420.2h0M1464.7 423.2h0M1463.6 419.6h0M1463.2 420.1h0M1462.4 418.2h0M1462.0 419.9h0M1460.8 414.1h0M1461.3 420.5h0M1460.3 419.7h0M1459.4 417.3h0M1460.4 424.9h0M1459.2 422.1h0M1458.2 419.8h0M1457.4 418.6h0M1457.8 421.1h0M1456.8 420.1h0M1456.9 423.7h0M1457.2 426.0h0M1456.4 424.7h0M1455.4 423.2h0M1455.1 425.1h0M1455.2 426.4h0M1452.9 418.3h0M1453.7 423.8h0M1453.5 426.8h0M1452.3 423.0h0M1451.7 422.4h0M1451.2 423.0h0M1450.7 424.2h0M1450.4 424.0h0M1448.9 419.5h0M1448.4 419.5h0M1448.3 422.5h0M1449.9 430.9h0M1447.3 423.0h0M1446.8 421.9h0M1446.8 424.9h0M1445.5 421.3h0M1445.4 422.9h0M1444.9 423.3h0M1444.7 425.0h0M1444.3 424.7h0M1444.5 427.8h0M1443.6 425.7h0M1443.4 427.3h0M1442.3 426.7h0M1441.7 424.3h0M1441.5 428.1h0M1439.4 419.6h0M1440.4 427.3h0M1440.5 430.1h0M1438.8 424.5h0M1438.6 429.1h0M1442.4 430.8h0M1444.9 430.8h0M1447.0 430.2h0M1349.9 464.0h0M1362.8 462.7h0M1334.4 473.0h0M1343.4 482.1h0M1347.3 478.2h0M1327.9 493.7h0M1368.0 492.4h0M1370.5 496.3h0M1362.8 493.7h0M1414.0 450.0h0M1499.0 422.0h0" stroke="#c97bca" stroke-width="4.8"/>
<path d="M1343.0 483.0h0" stroke="#c45ff2" stroke-width="4.8"/>
<path d="M1367.7 521.3h0M1363.5 519.2h0M1369.3 525.2h0M1365.7 520.4h0M1370.2 523.6h0M1363.1 524.3h0M1369.3 517.2h0M1363.8 523.1h0M1374.0 523.7h0M1366.8 514.6h0M1371.3 525.6h0M1367.4 522.3h0M1367.8 513.6h0M1357.2 521.6h0M1369.9 522.7h0M1362.3 521.2h0M1366.8 519.9h0M1362.6 522.5h0M1365.4 525.6h0M1360.6 519.0h0M1373.7 520.7h0M1365.6 520.6h0M1364.2 517.8h0M1365.0 523.5h0M1370.6 521.4h0M1368.9 521.5h0M1374.2 518.6h0M1367.0 514.8h0M1367.4 524.6h0M1368.5 517.9h0M1368.0 504.0h0M1342.0 521.0h0" stroke="#ababc4" stroke-width="4.8"/>
<path d="M1391.7 535.7h0M1394.4 533.9h0M1394.0 536.0h0M1396.6 536.7h0M1396.7 538.0h0M1399.3 539.4h0M1401.1 539.7h0M1401.4 539.8h0" stroke="#b9663c" stroke-width="4.8"/>
<path d="M1542.2 536.0h0M1542.7 538.7h0M1544.9 537.7h0M1547.1 537.2h0M1548.3 540.1h0M1551.7 536.3h0M1551.1 540.5h0M1552.4 540.2h0M1554.2 540.6h0M1555.3 541.5h0" stroke="#9c9cf2" stroke-width="4.8"/>
<path d="M1346.3 261.1h0M1346.1 260.7h0M1347.3 260.2h0M1347.9 259.5h0M1347.3 257.2h0M1349.6 259.2h0M1351.1 259.9h0M1351.2 258.7h0M1351.1 255.9h0M1353.1 258.1h0M1353.3 256.0h0M1354.3 256.7h0M1354.5 255.0h0M1356.1 256.1h0M1357.2 254.8h0M1357.6 255.0h0M1358.3 254.5h0M1358.3 252.9h0M1360.5 254.6h0M1360.3 251.9h0M1362.2 253.1h0M1361.3 250.9h0M1363.7 252.1h0M1362.8 249.6h0M1364.3 250.2h0M1366.2 250.7h0M1366.4 249.4h0M1367.2 249.6h0M1366.9 247.1h0M1367.9 247.5h0M1369.0 247.6h0M1368.7 245.4h0M1371.5 247.7h0M1371.5 245.3h0M1372.5 246.4h0M1372.8 245.0h0M1373.8 244.7h0M1374.9 243.9h0M1375.8 244.1h0" stroke="#c8c8c8" stroke-width="4.8"/>
<path d="M849.7 964.3h0M836.3 968.1h0M848.4 965.9h0M850.1 966.6h0M852.9 967.8h0M865.7 965.5h0M838.6 969.3h0M841.5 968.1h0M842.6 970.4h0M845.4 968.1h0M850.2 968.8h0M852.1 969.8h0M856.0 969.0h0M858.7 970.2h0M861.1 969.5h0M863.1 970.4h0M832.6 972.6h0M838.0 972.1h0M841.4 972.4h0M844.7 973.1h0M849.0 971.1h0M849.4 971.7h0M853.6 970.8h0M857.6 972.8h0M859.0 972.8h0M863.3 973.1h0M865.0 972.1h0M835.5 974.6h0M838.5 974.9h0M839.3 975.2h0M844.6 975.2h0M846.9 975.5h0M849.4 974.9h0M853.2 974.5h0M855.7 973.2h0M856.7 974.9h0M860.0 974.1h0M863.5 974.3h0M866.5 974.2h0M869.3 974.4h0M872.8 974.4h0M876.0 973.9h0M878.4 975.1h0M930.3 975.2h0M934.2 973.4h0M938.7 973.5h0M829.2 978.2h0M832.8 977.5h0M835.1 977.4h0M840.0 976.4h0M842.5 976.2h0M844.1 976.3h0M848.9 977.0h0M849.8 976.5h0M853.0 976.7h0M856.5 976.6h0M860.5 976.8h0M862.0 976.0h0M866.0 975.6h0M867.4 976.3h0M871.5 976.3h0M874.3 977.5h0M876.9 978.0h0M879.7 976.8h0M910.6 976.6h0M926.1 977.2h0M928.0 975.7h0M932.0 976.6h0M934.3 977.0h0M938.4 977.1h0M940.5 977.6h0M946.2 975.6h0M950.5 977.5h0M827.7 980.2h0M831.4 980.6h0M834.0 979.4h0M837.0 979.4h0M840.7 979.0h0M842.8 979.4h0M845.5 978.2h0M848.2 980.3h0M852.3 978.4h0M854.1 978.8h0M858.0 979.6h0M860.0 980.3h0M864.0 980.6h0M867.7 979.0h0M869.7 979.9h0M872.7 980.7h0M875.0 979.1h0M879.0 979.3h0M881.0 979.5h0M884.4 979.1h0M887.6 980.0h0M889.6 979.3h0M894.8 978.3h0M904.1 979.4h0M911.2 980.1h0M913.5 978.8h0M916.2 979.5h0M918.9 980.7h0M922.2 979.6h0M925.9 979.7h0M927.5 979.3h0M929.8 978.2h0M932.4 980.3h0M936.7 980.6h0M940.2 979.0h0M942.6 979.9h0M945.1 978.9h0M948.7 980.2h0M950.7 980.1h0M953.1 980.2h0M960.5 980.3h0M823.7 983.0h0M828.0 980.9h0M830.0 980.8h0M832.4 981.1h0M836.8 983.0h0M838.7 982.6h0M843.3 982.9h0M844.3 981.9h0M847.2 982.0h0M850.3 981.8h0M852.6 982.4h0M855.7 981.8h0M860.3 981.5h0M861.9 980.9h0M864.9 982.4h0M867.5 982.6h0M870.8 980.8h0M874.7 982.8h0M877.3 981.9h0M878.7 981.6h0M883.4 981.5h0M884.8 980.7h0M888.9 981.3h0M890.3 981.3h0M893.7 982.3h0M897.5 981.0h0M900.9 981.4h0M903.1 982.4h0M905.9 980.9h0M909.9 981.3h0M911.2 983.0h0M914.3 981.1h0M917.1 982.5h0M921.4 981.5h0M923.0 982.2h0M926.7 983.0h0M930.0 981.0h0M930.8 981.2h0M934.4 982.9h0M938.3 983.2h0M939.4 980.9h0M943.5 980.8h0M946.4 981.6h0M950.0 982.4h0M952.9 982.6h0M954.0 981.1h0M958.7 981.0h0M960.6 981.5h0M966.1 982.6h0M826.4 983.6h0M829.6 984.3h0M832.7 983.4h0M833.6 985.0h0M836.8 985.2h0M841.7 984.6h0M844.3 984.2h0M845.6 983.2h0M850.1 984.5h0M851.4 985.1h0M854.0 983.6h0M857.2 984.8h0M859.8 984.2h0M863.3 984.0h0M866.2 984.3h0M870.8 983.5h0M872.1 985.1h0M874.4 983.5h0M879.3 984.2h0M880.7 984.3h0M884.8 984.8h0M885.8 983.7h0M889.4 983.4h0M893.8 985.3h0M895.6 984.5h0M898.3 983.2h0M900.3 983.8h0M905.6 984.1h0M908.4 984.2h0M910.5 983.9h0M912.2 984.9h0M915.1 984.2h0M918.3 983.9h0M922.2 984.1h0M925.8 984.1h0M926.6 984.9h0M929.4 984.6h0M933.9 985.1h0M936.1 985.2h0M938.5 985.3h0M942.5 985.2h0M944.0 984.3h0M947.5 983.3h0M951.9 985.2h0M954.7 984.9h0M955.4 983.9h0M960.1 984.2h0M962.1 983.7h0M825.0 985.7h0M828.1 987.0h0M830.5 985.8h0M834.3 986.2h0M836.5 985.9h0M838.2 986.3h0M841.3 987.2h0M844.0 987.1h0M847.5 987.3h0M850.4 987.5h0M853.3 987.3h0M856.5 987.2h0M860.7 987.8h0M863.5 986.6h0M864.3 987.5h0M866.8 986.6h0M870.0 986.6h0M873.2 987.1h0M876.0 987.8h0M880.7 987.9h0M881.9 985.7h0M885.6 985.7h0M888.3 987.3h0M891.9 987.5h0M893.3 986.8h0M897.0 986.4h0M899.7 987.9h0M901.8 987.8h0M904.7 988.0h0M909.9 986.6h0M910.9 988.0h0M913.6 987.1h0M917.0 987.7h0M921.0 987.4h0M922.9 987.2h0M925.1 987.3h0M930.0 986.5h0M932.7 986.2h0M934.8 985.9h0M937.9 986.3h0M941.0 988.1h0M943.0 988.0h0M945.2 988.0h0M950.4 986.5h0M953.2 987.6h0M954.5 988.0h0M957.7 986.8h0M826.2 988.7h0M828.7 989.9h0M832.0 988.5h0M833.7 990.0h0M837.2 988.8h0M839.9 989.2h0M844.7 989.1h0M846.6 988.1h0M849.1 988.6h0M853.1 988.2h0M855.7 989.6h0M858.4 989.3h0M860.0 988.4h0M863.7 989.4h0M865.6 989.3h0M870.4 989.1h0M872.5 989.2h0M876.4 989.7h0M879.4 988.3h0M881.3 989.1h0M884.8 988.2h0M887.9 988.6h0M889.2 988.3h0M892.9 988.2h0M895.2 990.3h0M898.4 990.6h0M901.0 989.4h0M904.0 990.4h0M906.5 990.4h0M909.2 989.7h0M911.8 988.4h0M915.4 990.2h0M919.4 989.2h0M922.3 990.5h0M924.5 989.8h0M928.1 989.4h0M931.1 988.8h0M933.1 988.7h0M935.4 990.0h0M940.4 988.4h0M941.4 989.7h0M944.7 989.9h0M947.5 990.1h0M958.3 989.7h0M963.6 989.5h0M826.4 991.6h0M830.8 992.9h0M834.5 992.2h0M836.8 993.2h0M838.3 991.9h0M841.7 991.2h0M843.7 993.2h0M849.1 991.7h0M851.5 992.0h0M853.0 991.3h0M857.1 990.8h0M859.2 992.8h0M862.2 992.6h0M865.8 991.0h0M867.7 992.0h0M871.9 992.7h0M872.6 991.4h0M876.3 991.1h0M879.6 991.1h0M881.7 990.8h0M886.7 991.2h0M889.7 991.7h0M892.6 992.3h0M895.4 991.9h0M896.4 992.9h0M901.3 991.9h0M901.8 992.1h0M906.1 991.8h0M908.7 992.4h0M912.1 991.2h0M914.9 990.9h0M916.6 991.1h0M919.4 991.1h0M924.0 991.5h0M925.7 991.0h0M928.2 993.0h0M932.3 992.2h0M936.7 990.9h0M939.8 991.2h0M826.2 994.4h0M831.3 994.2h0M834.5 993.7h0M836.7 994.6h0M840.6 993.5h0M842.8 994.5h0M846.3 995.4h0M850.1 993.2h0M851.4 994.7h0M854.3 994.4h0M856.7 993.2h0M860.3 994.1h0M862.8 994.2h0M865.4 995.5h0M868.4 995.6h0M871.2 993.7h0M875.0 995.5h0M878.4 994.2h0M881.4 995.4h0M884.1 993.6h0M886.7 994.2h0M890.9 993.9h0M892.4 994.1h0M896.1 993.5h0M899.8 993.7h0M901.3 993.6h0M905.2 993.6h0M906.2 994.0h0M910.8 995.4h0M913.8 995.4h0M916.4 993.8h0M919.5 993.8h0M922.7 993.7h0M924.1 993.3h0M927.0 993.7h0M930.3 994.3h0M829.1 997.1h0M834.0 996.6h0M837.4 996.4h0M840.0 996.5h0M842.4 996.3h0M844.5 997.0h0M847.0 997.9h0M850.0 997.8h0M852.4 995.8h0M856.7 997.8h0M859.5 995.9h0M862.4 997.6h0M864.9 997.9h0M869.1 998.1h0M870.2 997.3h0M874.9 997.4h0M876.1 997.4h0M879.5 997.9h0M882.9 997.6h0M885.5 996.6h0M887.9 997.6h0M891.9 996.1h0M894.1 996.5h0M897.0 996.5h0M899.3 997.4h0M902.0 998.1h0M905.2 996.3h0M908.6 997.1h0M910.3 995.9h0M915.5 997.0h0M918.1 997.7h0M923.6 996.4h0M834.6 999.5h0M838.6 1000.4h0M839.9 999.6h0M842.4 999.8h0M845.2 998.5h0M850.5 999.6h0M852.2 998.9h0M855.7 998.4h0M857.9 1000.2h0M862.0 1000.6h0M863.9 998.5h0M867.7 1000.3h0M870.8 998.4h0M871.6 998.7h0M876.2 1000.5h0M877.6 1000.0h0M880.4 998.4h0M884.3 1000.2h0M888.1 1000.7h0M889.8 999.4h0M891.9 999.4h0M894.7 999.8h0M898.5 1000.7h0M902.0 998.5h0M903.6 999.6h0M907.9 999.5h0M910.6 998.5h0M913.4 998.7h0M919.8 999.1h0M922.5 998.7h0M835.7 1000.8h0M842.7 1001.5h0M845.1 1002.3h0M848.3 1002.7h0M851.1 1002.7h0M853.3 1001.6h0M857.2 1002.5h0M859.8 1001.4h0M861.3 1002.9h0M865.6 1003.0h0M868.8 1002.1h0M869.8 1003.3h0M873.1 1001.9h0M875.8 1001.1h0M879.9 1002.2h0M883.7 1003.0h0M885.7 1002.2h0M889.6 1001.1h0M891.0 1001.6h0M893.2 1003.0h0M896.2 1002.5h0M900.9 1003.2h0M902.0 1003.3h0M906.3 1001.0h0M910.4 1000.9h0M918.3 1001.2h0M838.4 1003.8h0M839.9 1004.4h0M845.9 1004.5h0M848.4 1005.2h0M851.1 1004.2h0M855.3 1005.8h0M857.1 1003.2h0M860.0 1003.6h0M863.4 1003.9h0M865.9 1004.8h0M869.5 1003.7h0M873.6 1005.0h0M874.8 1005.4h0M877.8 1003.7h0M881.2 1004.8h0M884.9 1005.0h0M886.8 1003.2h0M889.4 1004.5h0M893.8 1004.0h0M895.7 1004.2h0M897.7 1003.8h0M901.4 1005.6h0M906.8 1003.2h0M911.3 1004.9h0M836.6 1005.7h0M844.2 1006.1h0M848.3 1007.1h0M854.8 1008.0h0M857.1 1005.9h0M859.4 1006.7h0M862.7 1006.1h0M866.1 1006.7h0M867.9 1005.9h0M871.8 1007.5h0M874.0 1006.5h0M876.7 1006.3h0M880.5 1007.8h0M882.1 1007.4h0M888.3 1006.8h0M891.3 1008.0h0M894.4 1005.8h0M845.3 1008.6h0M848.6 1009.0h0M855.0 1008.4h0M859.0 1009.4h0M859.8 1010.2h0M863.3 1008.3h0M865.6 1010.4h0M869.4 1009.2h0M872.9 1010.7h0M874.8 1009.2h0M879.2 1009.1h0M883.6 1009.1h0M887.7 1008.2h0M893.1 1010.5h0M894.4 1009.9h0M857.0 1012.5h0M866.8 1012.1h0M871.5 1010.8h0M875.1 1010.8h0M879.7 1012.3h0" stroke="#d18c90" stroke-width="4.8"/>
<path d="M936.1 923.2h0M942.6 921.6h0M954.2 921.8h0M957.6 921.0h0M933.5 926.1h0M938.4 923.4h0M941.8 923.3h0M945.4 924.7h0M955.9 923.5h0M957.7 925.6h0M961.6 924.9h0M918.9 926.7h0M930.0 926.1h0M933.6 926.6h0M936.8 928.7h0M938.3 927.5h0M944.0 926.5h0M947.0 928.2h0M951.4 928.2h0M952.3 926.8h0M957.1 928.4h0M961.9 927.5h0M962.9 928.7h0M967.0 927.6h0M970.3 926.4h0M974.5 927.0h0M882.4 931.9h0M885.1 930.1h0M887.4 930.7h0M892.0 930.2h0M896.9 930.2h0M898.5 932.1h0M912.2 931.0h0M918.3 931.5h0M922.8 930.6h0M925.8 932.2h0M931.6 931.6h0M935.4 931.8h0M939.3 931.7h0M940.6 930.4h0M943.3 931.7h0M947.8 930.7h0M952.6 931.7h0M955.3 931.0h0M957.6 930.2h0M962.1 930.8h0M966.1 930.1h0M969.2 930.7h0M876.8 933.5h0M880.1 935.0h0M883.3 932.8h0M887.1 935.0h0M892.1 935.1h0M899.8 933.5h0M905.8 933.5h0M906.6 934.3h0M910.5 933.2h0M919.5 933.5h0M922.6 932.7h0M926.4 932.2h0M930.3 932.4h0M931.1 935.2h0M936.6 935.1h0M938.0 932.8h0M942.2 934.2h0M946.8 932.8h0M951.1 933.1h0M955.0 934.3h0M955.8 935.2h0M968.6 934.6h0M970.6 935.0h0M872.6 937.3h0M875.5 938.0h0M878.8 937.3h0M881.6 935.5h0M885.4 938.3h0M889.7 937.9h0M891.3 935.9h0M896.9 935.3h0M900.0 936.1h0M903.0 937.3h0M905.6 937.2h0M910.9 935.7h0M912.4 937.0h0M920.2 935.4h0M926.8 937.2h0M931.3 936.1h0M933.9 937.9h0M938.6 935.6h0M944.1 935.9h0M949.5 938.1h0M951.5 937.2h0M958.8 935.6h0M963.7 937.5h0M964.4 938.2h0M967.8 937.9h0M879.0 938.6h0M882.7 940.2h0M890.4 941.1h0M894.2 940.0h0M901.6 941.0h0M903.6 940.0h0M907.2 940.9h0M916.6 939.4h0M920.0 940.8h0M922.5 938.8h0M925.9 938.9h0M928.0 941.2h0M932.4 940.0h0M934.6 938.3h0M939.2 939.7h0M944.4 938.3h0M946.5 940.0h0M948.6 940.5h0M952.0 940.7h0M958.3 940.7h0M960.4 938.9h0M963.7 939.5h0M864.8 943.8h0M870.4 944.2h0M874.3 943.3h0M878.0 944.3h0M883.2 942.1h0M885.9 942.9h0M888.9 942.1h0M890.9 944.0h0M897.3 942.8h0M898.9 942.8h0M903.7 942.3h0M906.9 942.9h0M911.1 942.1h0M917.3 943.6h0M920.2 943.4h0M923.7 944.3h0M929.2 943.8h0M933.6 944.1h0M938.8 942.0h0M939.9 941.8h0M943.9 942.7h0M952.9 942.2h0M954.2 943.1h0M958.6 941.9h0M961.5 942.0h0M862.9 945.1h0M868.3 945.4h0M874.5 945.5h0M876.4 947.1h0M879.9 944.9h0M883.3 946.6h0M890.3 946.3h0M894.2 945.8h0M897.3 946.4h0M902.5 945.5h0M904.2 944.4h0M907.0 944.7h0M910.1 945.7h0M913.6 944.6h0M918.6 945.8h0M923.4 946.0h0M928.1 945.2h0M932.7 945.6h0M934.6 945.4h0M939.0 945.3h0M942.0 944.4h0M945.7 945.8h0M949.2 945.3h0M954.7 946.5h0M956.6 945.5h0M960.7 947.4h0M857.7 948.6h0M859.4 950.0h0M864.8 949.4h0M866.3 947.8h0M875.6 948.0h0M878.5 950.4h0M883.1 949.8h0M884.5 949.1h0M889.7 947.3h0M893.0 949.7h0M894.5 947.9h0M898.0 950.5h0M906.0 949.4h0M909.9 947.6h0M916.4 947.8h0M923.9 948.7h0M925.9 948.0h0M930.8 949.7h0M933.8 949.8h0M938.6 947.4h0M940.4 948.3h0M944.8 950.1h0M948.6 947.8h0M950.3 947.8h0M958.0 950.0h0M845.2 952.9h0M849.3 951.4h0M853.0 952.1h0M856.9 952.3h0M858.7 951.7h0M863.4 952.4h0M867.4 952.0h0M871.0 952.0h0M873.5 951.9h0M876.3 951.3h0M880.1 951.3h0M882.3 952.8h0M887.4 950.4h0M889.5 952.8h0M894.1 950.7h0M897.1 951.2h0M902.5 951.7h0M903.0 951.4h0M907.1 952.1h0M910.6 950.5h0M914.8 951.3h0M917.1 952.2h0M921.2 952.9h0M924.7 951.4h0M928.9 952.8h0M933.2 952.7h0M937.5 952.7h0M938.7 951.1h0M942.3 951.0h0M946.4 952.6h0M951.3 951.0h0M952.8 952.0h0M956.7 952.6h0M851.0 954.7h0M853.9 954.2h0M858.3 956.2h0M861.8 956.2h0M869.2 956.4h0M872.9 955.6h0M875.9 954.0h0M878.8 953.8h0M883.0 956.1h0M884.3 953.7h0M887.7 954.2h0M892.9 956.2h0M896.9 956.3h0M900.2 955.4h0M903.8 954.2h0M906.9 955.4h0M911.0 955.1h0M914.2 956.3h0M917.0 953.4h0M920.2 954.5h0M924.9 954.3h0M928.8 955.0h0M932.0 954.3h0M934.6 953.7h0M937.7 953.8h0M942.7 955.9h0M945.6 953.8h0M948.0 956.2h0M953.2 953.6h0M843.1 959.5h0M844.6 959.0h0M849.6 957.5h0M853.4 957.3h0M858.7 958.0h0M863.3 959.1h0M866.1 959.0h0M870.9 958.7h0M872.6 957.4h0M876.7 959.1h0M880.4 958.5h0M883.3 956.7h0M888.5 957.8h0M889.2 956.9h0M894.0 956.6h0M896.6 957.6h0M900.9 959.0h0M904.7 957.1h0M907.1 956.6h0M913.1 957.0h0M914.0 956.5h0M919.9 959.1h0M922.0 958.2h0M924.0 958.7h0M932.4 956.9h0M936.3 959.2h0M939.2 958.1h0M942.4 957.9h0M947.0 958.5h0M951.0 958.2h0M844.4 960.3h0M846.9 961.0h0M849.8 959.7h0M852.8 960.6h0M856.6 959.7h0M864.3 962.6h0M866.7 960.3h0M870.8 959.9h0M873.4 960.4h0M877.7 961.5h0M880.5 960.0h0M883.8 961.6h0M889.7 961.4h0M891.4 959.6h0M896.2 960.8h0M901.5 961.6h0M907.7 961.1h0M909.4 961.8h0M913.4 962.4h0M915.2 960.7h0M921.7 962.1h0M924.9 959.7h0M927.9 961.1h0M932.0 961.5h0M934.9 961.7h0M937.2 960.1h0M939.9 960.3h0M945.7 959.7h0M954.7 960.5h0M837.8 964.7h0M842.9 963.5h0M843.8 965.0h0M849.5 965.5h0M855.2 962.6h0M859.0 963.6h0M861.9 964.6h0M866.8 965.6h0M869.9 965.3h0M873.1 965.6h0M876.8 963.7h0M880.4 964.4h0M882.7 963.8h0M887.0 962.9h0M892.1 963.5h0M894.1 964.9h0M898.3 963.9h0M901.6 964.8h0M903.4 965.3h0M908.7 965.2h0M912.9 962.7h0M916.2 965.6h0M917.4 964.8h0M923.4 964.9h0M926.2 964.0h0M928.8 963.1h0M932.3 963.3h0M937.3 964.6h0M940.9 965.1h0M941.7 964.9h0M945.4 963.6h0M840.8 968.3h0M844.1 967.3h0M845.7 967.8h0M849.8 968.2h0M853.5 967.3h0M862.8 967.2h0M867.9 968.2h0M870.4 967.4h0M875.0 966.3h0M877.6 968.4h0M881.7 968.4h0M885.0 968.0h0M887.3 966.7h0M893.3 968.1h0M895.2 968.1h0M899.3 966.5h0M903.9 968.5h0M904.9 968.5h0M909.1 967.9h0M912.6 967.5h0M921.0 968.0h0M925.1 966.8h0M925.8 966.0h0M929.7 966.4h0M935.5 965.6h0M938.2 967.7h0M940.5 965.9h0M945.0 966.2h0M948.5 965.9h0M840.2 969.0h0M843.6 969.0h0M852.4 970.4h0M858.7 970.4h0M862.9 969.9h0M866.9 970.6h0M868.9 969.1h0M871.7 969.6h0M875.8 971.3h0M880.8 971.3h0M884.5 971.1h0M887.6 969.3h0M891.4 968.6h0M895.1 969.4h0M899.0 971.5h0M901.2 970.1h0M903.9 969.7h0M907.3 969.9h0M911.6 971.1h0M916.5 970.3h0M917.1 969.6h0M921.1 969.0h0M926.7 968.9h0M929.7 968.7h0M931.4 969.6h0M936.2 970.1h0M938.8 969.3h0M942.0 969.0h0M945.7 969.5h0M858.6 973.4h0M859.5 973.0h0M865.2 972.8h0M878.1 972.6h0M883.1 973.9h0M886.0 971.7h0M889.5 972.8h0M892.6 972.3h0M894.9 973.6h0M898.5 971.7h0M902.3 972.8h0M906.0 974.1h0M910.1 972.6h0M913.0 972.4h0M915.7 971.9h0M921.3 974.3h0M923.3 973.5h0M928.5 974.6h0M932.2 972.8h0M937.0 972.2h0M941.9 971.9h0M876.0 976.5h0M879.1 975.5h0M888.1 976.0h0M890.0 977.0h0M894.7 975.7h0M896.7 976.4h0M905.2 976.0h0M908.4 975.3h0M912.7 976.1h0M915.1 976.2h0M917.0 976.6h0M920.7 976.4h0M927.1 975.2h0M929.4 977.7h0M934.5 977.7h0M884.9 979.0h0M895.5 980.3h0M900.2 979.2h0M904.0 978.9h0M904.9 978.4h0M909.2 980.7h0M913.7 978.1h0M915.9 979.3h0M902.6 982.5h0M904.8 982.0h0M911.0 981.8h0M916.1 981.6h0M919.3 981.5h0M921.9 981.1h0M926.0 981.3h0M898.1 984.9h0M910.5 985.0h0M916.8 983.9h0M921.1 984.8h0M911.0 986.7h0M891.0 929.5h0M892.7 931.2h0M892.3 929.0h0M894.3 930.4h0M890.2 922.4h0M893.9 926.3h0M896.4 927.4h0M898.4 928.7h0M895.8 924.5h0M900.7 929.6h0M895.6 919.2h0M897.0 919.5h0M899.8 922.3h0M899.3 921.3h0M901.1 922.4h0M903.2 922.5h0M902.7 920.1h0M902.2 918.2h0M906.6 923.1h0M905.1 919.5h0M905.0 917.2h0M907.1 919.0h0M907.9 917.9h0M907.3 916.6h0M914.2 924.3h0M909.0 915.1h0M910.4 915.2h0M909.5 912.2h0M913.5 917.3h0M908.8 908.6h0M912.1 912.1h0M917.1 917.8h0M917.1 915.1h0M917.0 914.5h0M918.7 914.7h0M919.0 913.6h0M915.1 906.1h0M919.8 910.7h0M918.8 907.3h0M926.1 917.6h0M918.4 904.6h0M920.8 906.1h0M927.8 914.3h0M923.4 906.2h0M923.3 903.9h0M923.7 904.4h0M1007.8 903.7h0M991.2 915.1h0M1006.7 923.4h0M1006.7 932.7h0M981.9 937.8h0M977.8 962.6h0M996.4 966.8h0M969.5 975.0h0M955.0 973.0h0M1028.4 938.9h0M1053.2 943.0h0M986.0 927.5h0M979.8 927.5h0M998.4 970.9h0M981.9 970.9h0M840.0 975.0h0M833.0 980.0h0M846.0 985.0h0M905.0 990.0h0M912.0 994.0h0M978.7 927.3h0M985.7 927.3h0M980.5 937.9h0M921.0 912.0h0M915.0 921.0h0" stroke="#edd247" stroke-width="4.8"/>
<path d="M878.4 969.3h0M889.4 969.3h0M880.0 971.4h0M883.2 973.0h0M886.4 967.7h0M883.7 972.0h0M884.6 968.0h0M884.9 972.3h0M881.3 972.7h0" stroke="#ffffff" stroke-width="4.8"/>
<path d="M857.0 958.0h0M846.0 966.0h0M862.0 975.0h0M896.0 968.0h0M905.0 962.0h0M892.0 975.0h0" stroke="#d18c90" stroke-width="4.8"/>
<path d="M959.0 945.0h0M1000.0 950.0h0M1007.0 950.0h0M906.0 970.0h0M905.0 975.0h0M975.0 954.0h0" stroke="#a6d47b" stroke-width="4.8"/>
<path d="M909.0 977.0h0M944.0 972.0h0M846.0 980.0h0" stroke="#5e3b8e" stroke-width="4.8"/>
<path d="M864.0 954.0h0M942.0 957.0h0M946.0 940.0h0M848.0 981.0h0" stroke="#7c6aef" stroke-width="4.8"/>
<path d="M1051.6 860.7h0M1054.4 860.5h0M1035.1 864.6h0M1038.4 864.0h0M1040.7 864.0h0M1047.6 863.5h0M1049.9 862.6h0M1053.9 862.2h0M1056.6 864.7h0M1058.5 864.6h0M1065.0 864.0h0M1068.4 863.4h0M1038.1 866.5h0M1039.3 865.6h0M1042.2 866.6h0M1046.8 866.6h0M1048.4 866.2h0M1052.4 866.8h0M1055.2 866.0h0M1056.7 867.4h0M1061.4 866.5h0M1063.2 866.9h0M1068.3 867.4h0M1069.8 864.8h0M1071.7 867.4h0M1077.3 867.3h0M1033.6 868.6h0M1035.9 867.6h0M1038.3 868.1h0M1041.7 869.4h0M1043.9 868.8h0M1048.0 868.1h0M1055.8 868.2h0M1060.5 867.4h0M1061.2 868.5h0M1064.8 868.6h0M1069.4 868.8h0M1071.3 867.5h0M1074.6 869.6h0M1076.7 869.6h0M1081.8 869.5h0M1084.2 868.5h0M1030.0 871.5h0M1033.1 871.7h0M1036.3 870.9h0M1041.1 870.4h0M1042.8 871.3h0M1047.3 870.2h0M1049.0 870.1h0M1052.1 871.2h0M1054.7 871.0h0M1056.9 871.8h0M1059.7 872.5h0M1065.0 872.0h0M1065.7 871.8h0M1070.6 871.2h0M1073.4 870.2h0M1076.7 870.4h0M1078.4 871.3h0M1081.1 871.3h0M1086.1 872.0h0M1034.2 874.5h0M1038.4 872.9h0M1041.5 875.2h0M1044.0 874.2h0M1046.7 875.2h0M1050.5 873.5h0M1054.8 873.8h0M1055.3 873.3h0M1059.8 873.7h0M1062.3 873.0h0M1066.5 872.9h0M1067.9 875.1h0M1071.3 874.7h0M1075.0 874.4h0M1078.8 874.6h0M1080.5 875.1h0M1082.2 873.3h0M1089.5 875.2h0M1034.5 876.9h0M1038.2 876.7h0M1041.1 877.3h0M1041.7 876.0h0M1045.3 876.3h0M1048.6 875.9h0M1051.1 876.7h0M1055.8 877.3h0M1058.2 875.3h0M1061.1 877.0h0M1065.2 877.1h0M1066.2 876.3h0M1069.8 877.2h0M1072.0 875.4h0M1076.4 876.8h0M1077.8 876.1h0M1082.4 877.3h0M1084.9 877.7h0M1086.9 877.4h0M1092.3 876.8h0M1032.5 877.8h0M1035.6 878.8h0M1038.5 879.7h0M1042.4 879.1h0M1044.6 879.2h0M1046.6 880.2h0M1051.8 878.2h0M1052.2 879.7h0M1057.5 879.4h0M1060.1 879.1h0M1061.6 880.2h0M1064.5 879.5h0M1068.4 877.8h0M1071.2 878.8h0M1075.6 879.8h0M1076.5 879.4h0M1081.4 879.6h0M1087.7 877.8h0M1089.7 878.4h0M1034.2 881.2h0M1037.5 882.9h0M1038.7 880.6h0M1045.1 881.3h0M1049.6 882.4h0M1052.8 881.6h0M1056.1 880.5h0M1059.3 882.5h0M1060.5 881.1h0M1065.3 882.6h0M1066.7 882.5h0M1068.9 881.0h0M1073.0 880.8h0M1077.1 882.2h0M1078.8 881.2h0M1080.7 882.0h0M1083.7 880.8h0M1087.2 882.6h0M1090.4 881.5h0M1093.9 882.0h0M1036.7 885.3h0M1038.8 883.4h0M1041.0 883.4h0M1044.6 884.7h0M1048.0 885.6h0M1049.8 883.3h0M1053.1 884.4h0M1055.8 884.0h0M1058.9 884.8h0M1066.6 884.6h0M1067.9 883.4h0M1072.1 884.5h0M1074.8 883.9h0M1078.3 884.3h0M1081.5 885.2h0M1082.3 883.5h0M1086.4 883.3h0M1090.6 885.3h0M1038.3 885.7h0M1042.2 886.1h0M1045.7 886.6h0M1049.1 887.0h0M1052.6 886.2h0M1054.5 887.4h0M1056.9 888.1h0M1061.5 886.7h0M1063.4 887.7h0M1068.1 886.1h0M1069.4 886.6h0M1074.0 886.1h0M1076.1 886.7h0M1078.1 885.6h0M1081.4 886.6h0M1086.1 885.7h0M1090.2 885.7h0M1037.3 888.9h0M1044.2 889.9h0M1047.0 890.5h0M1050.0 890.6h0M1052.7 890.3h0M1056.2 890.5h0M1060.0 890.4h0M1062.0 889.6h0M1064.3 888.5h0M1072.0 888.5h0M1074.2 889.7h0M1078.8 888.5h0M1079.5 888.5h0M1082.8 890.0h0M1049.7 892.0h0M1051.6 892.6h0M1053.9 890.9h0M1057.2 891.3h0M1060.7 891.3h0M1063.4 891.9h0M1067.9 892.6h0M1069.8 891.9h0M1071.8 890.9h0M1077.0 892.8h0M1077.7 892.7h0M1081.2 891.8h0M1084.0 891.1h0M1049.2 894.6h0M1054.8 895.0h0M1056.2 894.7h0M1059.6 893.6h0M1062.3 894.7h0M1066.5 893.9h0M1072.4 894.1h0M1086.0 894.5h0M1050.1 896.6h0M1051.7 898.4h0M1055.8 896.3h0M1057.2 897.1h0M1061.9 897.0h0M1066.7 898.1h0M1047.9 898.6h0M1049.2 899.9h0M1053.1 899.9h0M1057.1 899.8h0M1065.9 899.8h0M1042.0 901.4h0M1044.7 903.5h0M1049.9 902.9h0M1053.1 902.3h0M1055.6 901.9h0M1044.6 905.4h0M1048.1 905.6h0M1050.1 905.6h0M1053.3 903.9h0M1046.7 908.2h0M1052.1 907.9h0M1059.7 908.3h0M1043.5 911.0h0M1047.5 910.3h0M1049.6 910.4h0M1046.7 913.4h0M948.8 867.5h0M948.2 869.1h0M945.3 868.7h0M941.2 868.6h0M944.9 872.5h0M946.3 873.7h0M948.5 876.2h0M942.5 875.3h0M941.3 875.2h0M947.7 880.0h0M943.6 879.3h0M940.2 878.3h0M941.4 882.0h0M939.7 881.8h0M939.3 882.5h0M940.1 885.0h0M941.6 887.6h0M939.2 886.5h0M937.9 887.3h0M936.8 888.9h0M935.8 888.9h0M937.5 892.3h0M935.5 891.8h0M934.5 892.6h0M929.8 889.8h0M929.3 891.5h0M930.4 893.9h0M928.2 894.1h0M934.6 900.5h0M929.8 897.7h0M928.1 898.2h0M924.2 897.3h0M922.3 896.7h0M947.8 870.2h0M944.6 870.9h0M945.6 865.2h0M947.1 867.6h0M949.1 868.2h0M948.3 868.0h0M946.8 866.8h0M948.0 864.6h0M948.0 867.4h0M948.1 867.9h0M947.9 870.2h0M948.2 869.4h0M951.2 867.6h0M944.5 871.5h0M953.1 872.7h0M952.9 875.5h0M955.0 877.4h0M955.0 878.8h0M956.0 881.1h0M957.3 880.8h0M961.0 882.3h0M963.0 882.3h0M963.8 885.2h0M964.8 885.0h0M966.3 887.6h0M968.8 889.3h0M969.1 890.0h0M969.5 892.7h0M969.7 897.3h0M940.3 893.7h0M946.5 897.1h0M954.2 894.1h0M955.0 898.1h0M977.8 882.0h0M981.9 884.1h0M990.2 879.9h0M996.4 879.9h0M1015.0 873.7h0M1019.1 871.7h0M1017.1 879.9h0M942.6 915.1h0M946.8 912.0h0M1023.3 898.6h0M1027.4 899.6h0M1033.6 896.5h0M1035.7 892.4h0M921.0 904.0h0M1012.0 868.0h0M1025.0 884.0h0" stroke="#7c6aef" stroke-width="4.8"/>
<path d="M1038.8 916.6h0M1042.8 918.2h0M1046.9 916.7h0M1031.7 918.2h0M1035.6 921.0h0M1041.2 921.3h0M1045.1 918.5h0M1046.7 920.6h0M1026.6 923.6h0M1030.4 923.0h0M1039.2 923.4h0M1041.1 922.6h0M1046.6 924.2h0M1048.5 922.0h0M1024.6 926.4h0M1029.0 927.0h0M1033.2 924.8h0M1036.7 926.7h0M1039.0 925.1h0M1042.5 924.9h0M1051.8 926.1h0M1018.8 928.8h0M1023.0 928.1h0M1027.6 929.3h0M1030.2 929.2h0M1033.9 930.7h0M1037.8 928.8h0M1041.9 928.5h0M1043.8 929.2h0M1050.2 929.7h0M1022.7 934.3h0M1024.0 934.0h0M1027.9 931.3h0M1032.1 934.2h0M1035.9 931.1h0M1039.3 932.5h0M1041.8 932.9h0M1047.9 933.3h0M1050.0 931.9h0M1008.1 936.3h0M1011.7 935.0h0M1018.6 936.7h0M1024.3 936.1h0M1026.9 936.8h0M1030.5 937.3h0M1033.8 936.5h0M1037.4 935.9h0M1046.6 935.2h0M1049.2 934.4h0M1010.1 939.5h0M1015.4 938.2h0M1018.3 940.7h0M1021.2 937.6h0M1023.4 937.7h0M1028.8 938.4h0M1034.8 940.3h0M1041.5 937.5h0M1042.4 938.3h0M1045.7 938.6h0M996.4 943.8h0M1000.0 941.0h0M1004.2 942.7h0M1008.9 941.8h0M1010.9 943.8h0M1016.5 941.6h0M1018.9 942.7h0M1023.0 942.8h0M1026.1 941.0h0M1029.7 941.3h0M1034.6 943.5h0M1037.8 941.7h0M1042.2 942.8h0M1049.8 941.3h0M1066.3 943.7h0M982.7 944.8h0M996.4 945.0h0M1004.1 944.7h0M1006.1 946.3h0M1010.3 945.9h0M1015.3 946.5h0M1018.1 946.2h0M1021.1 946.5h0M1029.2 947.1h0M1031.9 944.7h0M1037.7 945.6h0M1039.0 944.3h0M1051.0 945.8h0M981.2 947.5h0M989.9 948.6h0M992.3 949.5h0M996.1 947.5h0M1001.1 948.0h0M1009.3 948.7h0M1011.3 948.9h0M1015.8 948.2h0M1018.1 948.1h0M1030.6 949.1h0M1035.3 949.4h0M1037.3 948.9h0M1042.4 949.2h0M1046.0 949.7h0M1047.8 949.9h0M1052.2 949.7h0M1064.3 949.8h0M982.1 953.3h0M987.1 951.2h0M993.1 952.8h0M996.5 950.6h0M1000.7 952.2h0M1003.0 951.0h0M1005.9 952.2h0M1008.7 950.8h0M1012.9 950.8h0M1016.4 950.9h0M1022.8 952.2h0M1024.8 951.0h0M1032.8 951.0h0M1036.5 951.3h0M1039.3 951.0h0M1044.7 951.8h0M1047.5 952.7h0M1054.7 952.8h0M1058.8 953.1h0M1068.0 952.7h0M978.1 956.2h0M983.4 956.8h0M985.7 954.2h0M992.8 956.1h0M996.0 955.3h0M1004.3 956.2h0M1007.5 954.9h0M1010.5 956.7h0M1015.7 954.0h0M1019.7 954.6h0M1022.5 956.7h0M1026.1 955.8h0M1031.3 954.8h0M1035.6 955.8h0M1039.0 956.5h0M1040.6 954.9h0M1046.0 956.7h0M1049.9 955.7h0M1054.3 954.0h0M1059.2 953.5h0M1063.9 954.5h0M1067.7 954.1h0M975.9 959.7h0M982.0 959.8h0M984.9 957.2h0M989.5 959.8h0M990.6 956.7h0M993.9 956.8h0M998.0 959.1h0M1006.5 959.0h0M1011.9 957.3h0M1015.6 959.9h0M1017.4 959.2h0M1021.1 959.4h0M1025.8 956.8h0M1029.7 957.2h0M1032.0 957.4h0M1036.8 959.5h0M1038.5 957.4h0M1045.1 957.4h0M1045.6 958.2h0M1049.8 957.9h0M1055.5 958.6h0M1058.6 956.9h0M1060.8 958.6h0M1064.9 958.0h0M1069.3 957.0h0M978.5 963.0h0M982.0 961.1h0M985.9 960.5h0M995.1 961.3h0M1001.7 960.7h0M1004.4 960.4h0M1007.4 962.9h0M1012.5 962.2h0M1016.6 963.0h0M1018.5 960.8h0M1023.8 960.2h0M1028.2 962.1h0M1032.2 960.0h0M1033.6 960.4h0M1036.6 960.1h0M1041.6 960.2h0M1044.1 963.0h0M1050.0 962.6h0M1053.6 961.2h0M1054.9 963.1h0M1059.7 962.1h0M1062.6 961.8h0M973.9 964.0h0M980.1 964.3h0M984.1 963.4h0M989.6 963.7h0M990.9 963.2h0M994.9 964.6h0M999.4 964.8h0M1002.1 963.8h0M1007.1 966.4h0M1010.0 966.1h0M1013.5 965.4h0M1017.3 966.0h0M1019.7 963.1h0M1026.2 965.6h0M1028.4 965.1h0M1040.7 966.0h0M1041.9 963.1h0M1046.5 963.9h0M1050.9 965.3h0M1054.6 963.2h0M979.7 966.6h0M982.6 968.6h0M987.5 967.6h0M989.5 968.2h0M992.3 968.0h0M996.4 968.4h0M1001.3 966.8h0M1004.0 969.3h0M1008.1 967.7h0M1012.6 966.6h0M1014.7 968.1h0M1021.1 969.5h0M1024.3 968.5h0M1026.2 966.8h0M1031.7 968.1h0M1033.6 967.1h0M1041.6 969.0h0M1044.0 967.5h0M1053.5 968.3h0M969.3 972.7h0M971.9 970.5h0M981.1 970.3h0M983.9 972.4h0M993.1 971.4h0M999.2 972.5h0M1001.8 972.0h0M1007.4 971.2h0M1010.4 970.0h0M1014.8 970.9h0M1016.7 972.2h0M1019.7 969.9h0M1025.8 972.5h0M1029.6 970.4h0M1031.6 972.3h0M1035.7 972.0h0M1041.1 972.5h0M1043.6 971.2h0M1046.4 970.7h0M972.8 974.9h0M975.0 974.3h0M977.7 973.1h0M981.9 973.2h0M984.7 974.8h0M989.5 976.0h0M993.7 974.8h0M996.1 973.5h0M999.4 972.8h0M1004.9 973.5h0M1017.2 973.1h0M1024.1 974.4h0M1027.0 974.7h0M1034.4 973.1h0M1036.4 973.0h0M1047.5 973.6h0M968.5 976.1h0M974.4 977.7h0M977.9 977.9h0M981.5 976.3h0M985.1 978.2h0M1037.4 975.9h0M1038.2 977.6h0M966.5 979.5h0M975.6 980.5h0M978.8 981.7h0M981.5 979.5h0M989.2 979.2h0M1039.0 981.4h0M987.7 983.9h0M1103.8 956.2h0M1069.3 959.3h0M1086.4 957.6h0M1102.1 959.2h0M1069.9 961.0h0M1073.4 961.5h0M1083.8 960.8h0M1101.6 961.8h0M1105.1 961.8h0M1106.9 960.2h0M1110.7 962.1h0M1114.1 960.9h0M1065.0 964.0h0M1069.0 963.8h0M1077.1 963.9h0M1084.8 964.9h0M1092.8 962.3h0M1096.1 964.6h0M1100.8 963.5h0M1103.2 964.0h0M1105.2 964.6h0M1111.0 964.9h0M1112.2 962.4h0M1115.4 963.2h0M1119.7 963.6h0M1129.2 964.9h0M1057.1 967.4h0M1063.3 967.8h0M1067.6 966.0h0M1070.1 967.0h0M1071.5 967.7h0M1076.4 966.7h0M1078.8 966.6h0M1083.5 965.0h0M1086.0 966.3h0M1088.2 966.2h0M1091.4 967.8h0M1095.2 966.7h0M1099.4 965.1h0M1101.2 965.5h0M1105.3 967.4h0M1108.3 965.3h0M1112.0 967.8h0M1113.9 967.0h0M1119.6 966.7h0M1123.8 966.1h0M1127.4 966.5h0M1129.7 966.5h0M1135.6 966.0h0M1054.0 969.5h0M1059.8 969.1h0M1060.5 967.8h0M1064.2 969.7h0M1066.7 969.0h0M1070.3 970.2h0M1073.2 969.5h0M1078.7 967.9h0M1081.2 969.7h0M1083.3 967.9h0M1086.6 968.5h0M1090.6 970.4h0M1093.9 970.5h0M1096.3 967.9h0M1100.8 968.2h0M1103.0 969.5h0M1105.6 967.9h0M1108.4 969.2h0M1114.1 968.6h0M1116.5 969.8h0M1118.7 968.2h0M1122.2 969.6h0M1127.1 970.6h0M1129.2 969.6h0M1132.0 969.6h0M1134.5 970.2h0M1040.7 972.7h0M1051.8 971.7h0M1053.3 972.9h0M1057.5 972.7h0M1062.9 971.3h0M1066.5 973.1h0M1073.3 970.8h0M1075.7 972.5h0M1078.8 973.1h0M1083.7 970.9h0M1085.0 971.9h0M1088.6 973.2h0M1090.9 970.7h0M1096.4 971.3h0M1100.6 971.5h0M1106.2 972.8h0M1107.6 971.9h0M1110.3 972.3h0M1113.1 971.2h0M1117.8 972.0h0M1121.3 971.0h0M1124.9 973.3h0M1128.0 971.0h0M1130.8 973.0h0M1133.6 970.5h0M1034.9 974.6h0M1048.2 975.0h0M1055.1 974.5h0M1057.1 974.0h0M1061.1 974.3h0M1066.3 973.8h0M1068.0 975.5h0M1070.3 973.6h0M1073.4 974.6h0M1078.4 973.8h0M1080.4 973.5h0M1083.3 975.2h0M1090.1 975.3h0M1093.5 973.9h0M1098.1 975.8h0M1099.9 973.4h0M1104.4 974.6h0M1106.2 974.6h0M1109.4 973.3h0M1111.6 975.7h0M1116.6 974.6h0M1120.7 974.1h0M1122.6 973.7h0M1125.8 974.3h0M1127.5 975.8h0M1131.1 974.7h0M1134.2 973.9h0M1044.5 976.8h0M1046.6 977.9h0M1050.7 976.4h0M1053.8 977.7h0M1055.8 978.5h0M1059.8 978.3h0M1063.1 976.2h0M1067.9 976.1h0M1069.9 977.4h0M1073.3 978.8h0M1078.5 977.7h0M1083.0 977.5h0M1084.4 977.6h0M1088.1 978.9h0M1092.6 977.5h0M1094.2 976.4h0M1099.6 976.6h0M1101.9 978.3h0M1104.2 976.2h0M1106.9 976.2h0M1110.7 978.1h0M1115.5 978.0h0M1118.0 978.9h0M1119.6 978.0h0M1125.3 976.8h0M1127.2 978.3h0M1131.1 976.1h0M1040.2 979.2h0M1045.3 981.3h0M1049.4 979.2h0M1052.1 980.2h0M1054.7 980.3h0M1059.4 981.2h0M1060.5 979.7h0M1064.7 980.0h0M1068.1 980.7h0M1070.0 978.9h0M1074.2 979.4h0M1078.2 980.9h0M1082.1 979.6h0M1084.9 978.9h0M1087.9 979.6h0M1091.0 980.1h0M1093.0 981.1h0M1100.7 981.4h0M1104.2 980.3h0M1107.5 979.1h0M1109.7 981.4h0M1111.6 980.2h0M1116.7 981.4h0M1120.2 980.8h0M1122.0 981.0h0M1126.5 980.2h0M1129.2 981.6h0M1044.4 982.2h0M1046.5 983.2h0M1050.0 982.1h0M1054.9 981.7h0M1062.9 982.4h0M1067.4 981.6h0M1068.7 984.1h0M1073.6 984.1h0M1077.3 983.6h0M1079.1 982.4h0M1082.6 982.0h0M1085.3 982.1h0M1090.0 982.0h0M1090.8 983.1h0M1094.1 982.8h0M1097.6 983.0h0M1101.4 981.8h0M1103.6 981.7h0M1107.3 982.4h0M1111.0 981.6h0M1115.1 982.2h0M1119.1 983.4h0M1119.6 983.6h0M1123.3 984.0h0M1127.3 984.0h0M1052.6 984.5h0M1060.3 984.4h0M1065.7 984.4h0M1067.8 984.6h0M1071.0 985.2h0M1075.9 985.9h0M1078.3 985.8h0M1080.7 986.0h0M1085.2 986.2h0M1089.2 986.2h0M1094.2 986.6h0M1095.7 986.8h0M1100.4 984.5h0M1103.3 986.9h0M1106.4 984.6h0M1109.7 985.5h0M1112.0 986.8h0M1116.4 986.5h0M1122.5 985.0h0M1062.8 987.2h0M1084.5 989.4h0M1091.9 988.3h0M1094.5 989.0h0M1103.0 988.2h0M1105.1 988.4h0M1107.1 987.1h0M1118.4 988.2h0M1090.2 992.4h0M1100.4 991.7h0M1114.1 991.2h0M944.7 973.0h0M957.1 973.0h0M965.4 977.1h0M946.8 984.3h0M959.2 985.4h0M1061.0 938.0h0M1068.0 943.0h0M1043.0 912.0h0M1020.0 980.0h0" stroke="#7b3b52" stroke-width="4.8"/>
<path d="M1028.4 938.9h0M1053.2 943.0h0M977.0 962.0h0M995.0 967.0h0M1000.0 972.0h0M967.0 973.0h0M958.0 974.0h0" stroke="#edd247" stroke-width="4.8"/>
<path d="M999.0 950.0h0M1006.0 950.0h0" stroke="#a6d47b" stroke-width="4.8"/></g>
<g fill="none" stroke="#1c2c72" stroke-width="2">
<ellipse cx="929.6" cy="277.9" rx="268.5" ry="139.4" transform="rotate(8.54 929.6 277.9)"/>
<ellipse cx="1189.8" cy="815.2" rx="483.7" ry="177" transform="rotate(-22.7 1189.8 815.2)"/>
</g>
<g font-size="38.5" fill="#161616" text-anchor="middle">
<text x="826.6" y="191.6">0</text>
<text x="777.1" y="268.3">2</text>
<text x="974.6" y="240.3">3</text>
<text x="1081" y="332.6">1</text>
<text x="992.3" y="472.4">13</text>
<text x="1071.5" y="575.4">4</text>
<text x="288.6" y="568.5">10</text>
<text x="584.2" y="644.2">5</text>
<text x="507.7" y="711.4">15</text>
<text x="602.5" y="558.6">19</text>
<text x="531.9" y="968.8">8</text>
<text x="590.3" y="908.2">26</text>
<text x="754.7" y="505.1">20</text>
<text x="603.8" y="383.6">31</text>
<text x="441.9" y="406.4">32</text>
<text x="789.9" y="657.9">23</text>
<text x="954.5" y="718.6">21</text>
<text x="849.6" y="771.9">22</text>
<text x="1166.3" y="684.6">25</text>
<text x="1042.6" y="784.1">24</text>
<text x="1115.5" y="748.7">17</text>
<text x="1372.4" y="702.1">6</text>
<text x="1373.4" y="825.5">7</text>
<text x="1278.3" y="507.2">12</text>
<text x="1443.6" y="467.2">18</text>
<text x="1363.5" y="533.6">28</text>
<text x="1394.9" y="549.9">30</text>
<text x="1552.7" y="553.2">29</text>
<text x="1365.7" y="263.6">27</text>
<text x="902.7" y="963.2">14</text>
<text x="865.4" y="1004.6">11</text>
<text x="1053.1" y="889.9">16</text>
<text x="1044.5" y="983.9">9</text>
</g>
<g font-size="20" fill="#000">
<text x="636.3" y="113.7" textLength="375.1" lengthAdjust="spacingAndGlyphs">hematopoietic/erythroid progenitor cells.</text>
<text x="1387.2" y="264.1" textLength="38.5" lengthAdjust="spacingAndGlyphs">liver</text>
<text x="334.0" y="374.1" textLength="104.2" lengthAdjust="spacingAndGlyphs">vasculature</text>
<text x="566.4" y="397.8" textLength="81.7" lengthAdjust="spacingAndGlyphs">pancreas</text>
<text x="1418.8" y="409.7" textLength="112.2" lengthAdjust="spacingAndGlyphs">macrophage</text>
<text x="682.5" y="455" textLength="111.3" lengthAdjust="spacingAndGlyphs">melanoblast</text>
<text x="1250.9" y="453.6" textLength="67.5" lengthAdjust="spacingAndGlyphs">thymus</text>
<text x="516.7" y="480.6" textLength="143.3" lengthAdjust="spacingAndGlyphs">pectoral fin bud</text>
<text x="263.6" y="496.3" textLength="133.7" lengthAdjust="spacingAndGlyphs">cardiac muscle</text>
<text x="1389.1" y="508.4" textLength="59.2" lengthAdjust="spacingAndGlyphs">spleen</text>
<text x="1413.7" y="525.2" textLength="148.9" lengthAdjust="spacingAndGlyphs">digestive system</text>
<text x="1584.2" y="553.6" textLength="105.0" lengthAdjust="spacingAndGlyphs">pronephros</text>
<text x="623.6" y="611.2" textLength="63.5" lengthAdjust="spacingAndGlyphs">muscle</text>
<text x="774.0" y="622.1" textLength="111.3" lengthAdjust="spacingAndGlyphs">pigment cell</text>
<text x="1647.6" y="638.7" textLength="265.1" lengthAdjust="spacingAndGlyphs">periderm (Krt4, Krt5 positive)</text>
<text x="883.9" y="681.6" textLength="106.2" lengthAdjust="spacingAndGlyphs">neural tube</text>
<text x="1471.2" y="697.9" textLength="106.6" lengthAdjust="spacingAndGlyphs">integument</text>
<text x="409.7" y="743.7" textLength="62.7" lengthAdjust="spacingAndGlyphs">tailbud</text>
<text x="897.9" y="745" textLength="194.9" lengthAdjust="spacingAndGlyphs">mucous secreting cell</text>
<text x="712.3" y="786.6" textLength="140.8" lengthAdjust="spacingAndGlyphs">nervous system</text>
<text x="1055.8" y="798.4" textLength="214.1" lengthAdjust="spacingAndGlyphs">pleuroperitoneal region</text>
<text x="1428.4" y="796.9" textLength="103.1" lengthAdjust="spacingAndGlyphs">pectoral fin</text>
<text x="998.7" y="848.9" textLength="149.4" lengthAdjust="spacingAndGlyphs">enveloping layer</text>
<text x="554.3" y="866.6" textLength="157.3" lengthAdjust="spacingAndGlyphs">cartilage element</text>
<text x="810.6" y="915.1" textLength="78.7" lengthAdjust="spacingAndGlyphs">Ionocyte</text>
<text x="1092.7" y="950.6" textLength="149.4" lengthAdjust="spacingAndGlyphs">enveloping layer</text>
<text x="473.1" y="1020" textLength="137.2" lengthAdjust="spacingAndGlyphs">skeletal system</text>
<text x="810.6" y="1032.9" textLength="89.8" lengthAdjust="spacingAndGlyphs">epidermis</text>
<text transform="translate(767.5 556.6) rotate(-18.6)" textLength="198" lengthAdjust="spacingAndGlyphs">pronephric mesoderm</text>
<text transform="translate(1135 514) rotate(-39.6)" textLength="323" lengthAdjust="spacingAndGlyphs">ventral and intermediate mesoderm</text>
<text transform="translate(1171.4 698.9) rotate(19.8)" textLength="169" lengthAdjust="spacingAndGlyphs">yolk syncytial layer</text>
</g>
</svg>
</body></html>
